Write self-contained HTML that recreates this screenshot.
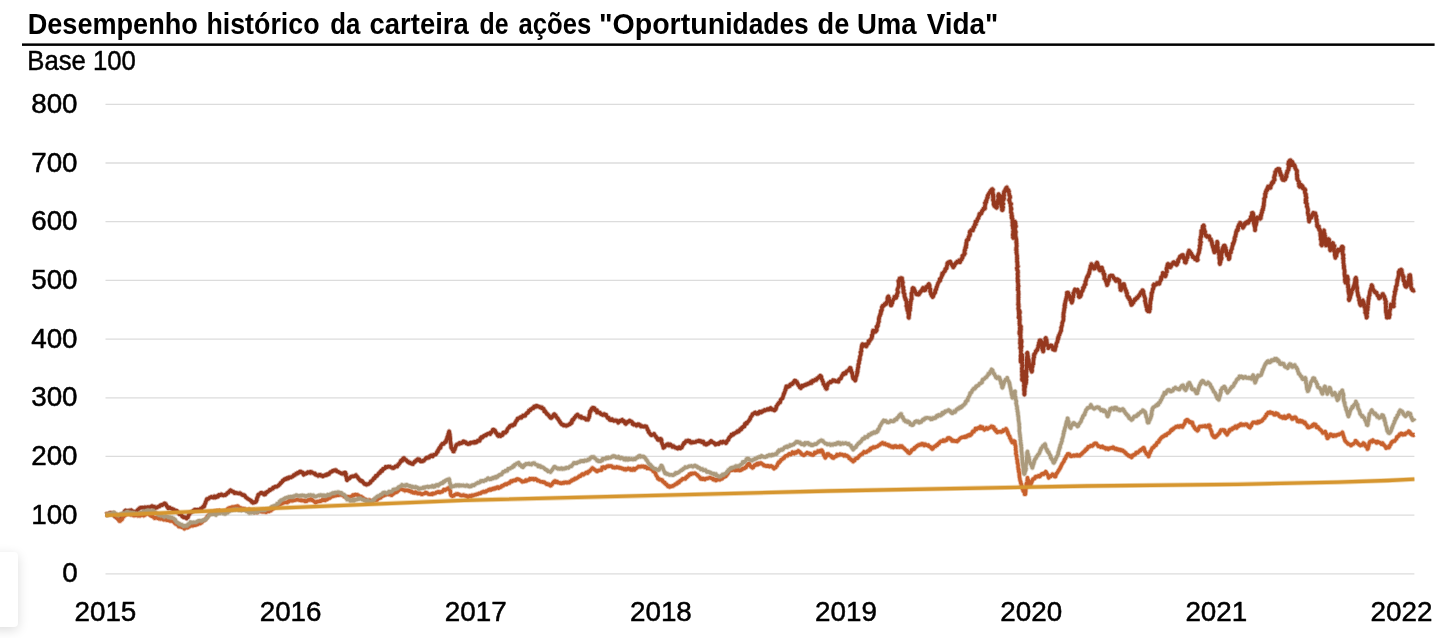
<!DOCTYPE html>
<html lang="pt-BR"><head><meta charset="utf-8">
<title>Desempenho histórico da carteira de ações "Oportunidades de Uma Vida"</title>
<style>
html,body{margin:0;padding:0;background:#fff;}
body{width:1451px;height:638px;overflow:hidden;position:relative;font-family:'Liberation Sans', Arial, sans-serif;}
svg{position:absolute;left:0;top:0;display:block;will-change:transform;}
.card{position:absolute;left:-12px;top:551.7px;width:30px;height:75px;background:#fff;border-radius:4px;box-shadow:0 3px 12px rgba(0,0,0,.14);}
text{font-family:'Liberation Sans', Arial, sans-serif;fill:#000;}
.t{font-weight:bold;font-size:29px;}
.l{font-size:27.8px;stroke:#000;stroke-width:0.5px;stroke-linejoin:round;}
</style></head><body>
<div class="card"></div>
<svg width="1451" height="638" viewBox="0 0 1451 638">
<text class="t" y="34.1"><tspan x="27.77" textLength="169.99" lengthAdjust="spacingAndGlyphs">Desempenho</tspan> <tspan x="206.44" textLength="113.06" lengthAdjust="spacingAndGlyphs">histórico</tspan> <tspan x="330.24" textLength="30.12" lengthAdjust="spacingAndGlyphs">da</tspan> <tspan x="369.61" textLength="99.1" lengthAdjust="spacingAndGlyphs">carteira</tspan> <tspan x="479.57" textLength="29.06" lengthAdjust="spacingAndGlyphs">de</tspan> <tspan x="518.57" textLength="72.72" lengthAdjust="spacingAndGlyphs">ações</tspan> <tspan x="598.98" textLength="126.1" lengthAdjust="spacingAndGlyphs">&quot;Oportun</tspan><tspan x="725.27" textLength="83.4" lengthAdjust="spacingAndGlyphs">idades</tspan> <tspan x="817.6" textLength="31.69" lengthAdjust="spacingAndGlyphs">de</tspan> <tspan x="856.95" textLength="59.71" lengthAdjust="spacingAndGlyphs">Uma</tspan> <tspan x="926.68" textLength="71.68" lengthAdjust="spacingAndGlyphs">Vida&quot;</tspan></text>
<rect x="22" y="43.4" width="1412.6" height="2.5" fill="#000"/>
<text class="l" x="27.3" y="70.2" textLength="108.5" lengthAdjust="spacingAndGlyphs">Base 100</text>
<g stroke="#dcdcdc" stroke-width="1.3">
<line x1="105.5" y1="573.8" x2="1414.4" y2="573.8"/>
<line x1="105.5" y1="515.1" x2="1414.4" y2="515.1"/>
<line x1="105.5" y1="456.4" x2="1414.4" y2="456.4"/>
<line x1="105.5" y1="397.8" x2="1414.4" y2="397.8"/>
<line x1="105.5" y1="339.1" x2="1414.4" y2="339.1"/>
<line x1="105.5" y1="280.4" x2="1414.4" y2="280.4"/>
<line x1="105.5" y1="221.7" x2="1414.4" y2="221.7"/>
<line x1="105.5" y1="163.0" x2="1414.4" y2="163.0"/>
<line x1="105.5" y1="104.4" x2="1414.4" y2="104.4"/>
</g>
<g class="l" text-anchor="end">
<text x="77.6" y="582.3">0</text>
<text x="77.6" y="523.6">100</text>
<text x="77.6" y="464.9">200</text>
<text x="77.6" y="406.3">300</text>
<text x="77.6" y="347.6">400</text>
<text x="77.6" y="288.9">500</text>
<text x="77.6" y="230.2">600</text>
<text x="77.6" y="171.5">700</text>
<text x="77.6" y="112.9">800</text>
</g>
<g class="l" text-anchor="middle">
<text x="105.4" y="620.6">2015</text>
<text x="290.6" y="620.6">2016</text>
<text x="475.7" y="620.6">2017</text>
<text x="660.9" y="620.6">2018</text>
<text x="846.0" y="620.6">2019</text>
<text x="1031.2" y="620.6">2020</text>
<text x="1216.3" y="620.6">2021</text>
<text x="1401.5" y="620.6">2022</text>
</g>
<g fill="none" stroke-linejoin="round" stroke-linecap="butt">
<defs><path id="s0" d="M105.5 514.9 L106.0 514.8 L106.6 514.6 L107.1 515.1 L107.6 514.7 L108.2 514.7 L108.7 514.3 L109.2 513.8 L109.7 513.0 L110.2 512.7 L110.7 513.0 L111.3 513.2 L111.8 513.4 L112.2 513.9 L112.7 513.9 L113.2 514.0 L113.6 514.4 L114.0 514.7 L114.3 515.5 L114.6 516.2 L115.0 516.6 L115.5 516.7 L116.0 516.9 L116.3 517.4 L116.8 517.3 L117.3 517.6 L117.6 518.4 L118.1 518.5 L118.4 519.0 L118.8 519.4 L119.3 519.5 L119.5 520.2 L119.7 519.6 L120.0 519.3 L120.4 519.0 L120.6 518.3 L120.9 518.0 L121.2 517.6 L121.4 517.1 L121.7 516.6 L122.1 516.3 L122.0 515.1 L122.5 515.2 L122.7 514.7 L123.1 514.4 L123.3 513.9 L123.7 513.8 L123.9 513.2 L124.2 512.8 L124.3 512.1 L124.5 511.6 L124.7 511.0 L125.1 510.8 L125.6 510.4 L126.1 510.9 L126.6 511.2 L127.1 510.9 L127.6 510.7 L128.1 511.3 L128.6 510.9 L129.1 510.5 L129.6 510.4 L130.1 510.6 L130.6 510.7 L131.2 510.2 L131.6 510.8 L132.2 510.8 L132.6 511.2 L133.1 511.4 L133.6 511.9 L134.1 512.1 L134.7 511.7 L135.1 512.3 L135.5 511.9 L135.9 511.8 L136.3 511.3 L136.7 511.0 L137.1 510.7 L137.4 510.3 L137.8 509.8 L138.2 509.7 L138.6 509.3 L139.0 508.7 L139.3 508.4 L139.8 508.2 L140.1 507.8 L140.7 507.6 L141.2 507.8 L141.7 507.6 L142.2 507.6 L142.8 507.5 L143.3 507.8 L143.8 508.5 L144.3 508.3 L144.8 507.3 L145.4 507.7 L145.9 507.4 L146.4 507.5 L146.9 507.3 L147.4 507.4 L147.9 507.0 L148.4 507.1 L148.9 507.2 L149.4 507.3 L149.9 507.0 L150.4 507.1 L150.9 506.8 L151.4 506.4 L152.0 506.0 L152.5 506.3 L152.9 507.0 L153.5 506.7 L153.9 507.2 L154.5 506.8 L154.9 507.9 L155.4 508.2 L155.9 508.0 L156.4 507.6 L156.9 507.6 L157.3 507.4 L157.7 506.9 L158.1 506.7 L158.6 506.6 L159.0 506.4 L159.5 506.4 L159.9 506.1 L160.2 505.4 L160.7 505.2 L161.2 504.8 L161.8 504.9 L162.3 505.1 L162.7 504.4 L163.3 504.3 L163.7 503.8 L164.2 503.6 L164.7 503.3 L165.1 503.5 L165.5 503.7 L165.7 504.2 L166.0 504.7 L166.4 505.0 L166.5 505.8 L166.9 505.9 L167.1 506.6 L167.3 507.1 L167.7 507.4 L168.2 508.2 L168.8 507.4 L169.3 507.6 L169.8 507.6 L170.2 508.3 L170.7 508.4 L171.3 508.4 L171.7 508.7 L172.2 508.9 L172.7 509.2 L173.1 510.0 L173.7 509.4 L174.1 510.1 L174.6 510.2 L175.1 510.3 L175.5 510.5 L176.1 510.5 L176.4 511.2 L177.0 510.9 L177.4 511.7 L177.8 512.3 L178.2 512.5 L178.6 512.8 L178.9 513.2 L179.2 514.0 L179.6 514.3 L180.1 514.4 L180.5 514.3 L181.0 514.5 L181.4 514.7 L181.7 515.4 L181.9 516.2 L182.3 516.5 L182.8 516.5 L183.2 516.9 L183.7 517.4 L184.2 517.5 L184.7 517.1 L185.1 517.6 L185.6 517.7 L186.1 517.9 L186.6 518.4 L186.8 517.8 L187.2 517.7 L187.5 517.2 L188.0 517.4 L188.1 516.4 L188.3 515.8 L188.6 515.5 L188.8 514.8 L189.2 514.6 L189.3 513.8 L189.6 513.4 L190.0 513.3 L190.3 512.6 L190.7 512.2 L191.1 512.1 L191.6 512.1 L192.0 511.7 L192.5 511.4 L192.9 511.0 L193.3 510.6 L193.8 510.8 L194.1 510.0 L194.6 509.6 L195.1 510.0 L195.6 509.6 L196.2 510.0 L196.7 510.1 L197.2 509.6 L197.7 509.7 L198.3 510.3 L198.8 509.9 L199.3 509.8 L199.8 509.2 L200.4 509.1 L200.7 508.4 L201.2 508.5 L201.7 508.6 L202.0 508.0 L202.4 507.5 L202.8 507.1 L203.2 506.7 L203.6 506.2 L204.1 506.6 L204.3 506.0 L204.5 505.6 L204.6 505.1 L204.7 504.5 L204.9 504.0 L205.1 503.6 L205.5 503.3 L205.5 502.7 L205.6 502.1 L205.9 501.7 L206.1 501.2 L206.2 500.6 L206.4 500.2 L206.6 499.7 L206.9 498.9 L207.4 498.9 L207.9 499.2 L208.4 499.0 L208.7 498.4 L209.2 498.2 L209.5 497.6 L210.0 497.5 L210.4 497.2 L210.9 497.1 L211.4 496.8 L211.9 497.4 L212.4 497.5 L212.9 497.4 L213.4 497.6 L213.9 497.0 L214.4 496.3 L214.9 496.8 L215.4 497.6 L215.7 496.6 L216.3 497.2 L216.7 496.4 L217.1 496.0 L217.7 496.4 L218.2 496.6 L218.5 495.8 L218.9 494.9 L219.4 495.3 L219.9 495.1 L220.4 495.2 L220.9 495.1 L221.4 494.3 L221.9 494.9 L222.4 495.0 L222.9 495.3 L223.4 495.5 L223.9 495.0 L224.4 494.8 L224.9 494.8 L225.4 495.1 L225.7 494.6 L226.1 494.4 L226.5 494.3 L226.8 493.6 L227.1 493.1 L227.5 493.0 L227.9 492.6 L228.4 492.8 L228.7 492.1 L229.0 491.6 L229.3 491.2 L229.8 491.1 L230.1 490.6 L230.5 490.2 L230.9 490.6 L231.4 490.7 L231.8 491.1 L232.2 491.6 L232.7 491.7 L233.2 491.6 L233.6 491.9 L234.1 492.0 L234.4 493.2 L234.9 493.0 L235.5 492.8 L236.0 492.7 L236.5 493.1 L237.0 493.0 L237.5 493.1 L238.0 493.4 L238.5 493.5 L239.0 493.5 L239.5 493.6 L240.0 493.0 L240.5 493.8 L241.0 493.9 L241.6 494.2 L242.1 494.9 L242.6 494.9 L243.1 495.2 L243.7 494.9 L244.3 495.2 L244.7 495.5 L245.0 496.0 L245.3 496.5 L245.6 497.1 L246.1 497.4 L246.4 497.8 L246.9 497.9 L247.3 498.3 L247.6 498.7 L248.0 498.9 L248.5 499.1 L248.9 499.5 L249.3 499.6 L249.8 499.8 L250.2 500.1 L250.6 500.6 L251.1 500.6 L251.4 501.2 L251.7 502.0 L252.3 501.7 L252.6 502.3 L253.0 502.8 L253.5 502.4 L254.1 502.6 L254.5 502.3 L255.0 501.8 L255.6 502.1 L256.1 501.6 L256.3 501.2 L256.4 500.6 L256.7 500.3 L256.9 499.8 L256.8 499.2 L256.8 498.6 L257.0 498.1 L257.3 497.7 L257.4 497.2 L257.8 497.0 L257.9 496.5 L258.0 496.0 L258.2 495.5 L258.1 494.8 L258.5 494.5 L259.0 494.2 L259.4 494.0 L259.9 493.8 L260.4 493.5 L260.8 492.8 L261.3 492.7 L261.8 492.7 L262.1 493.4 L262.7 493.4 L263.2 493.3 L263.5 494.0 L263.9 494.6 L264.3 494.7 L264.8 494.5 L265.2 494.4 L265.6 494.0 L265.8 492.6 L266.2 492.2 L266.8 492.6 L267.2 492.2 L267.6 491.6 L268.1 491.6 L268.5 491.2 L268.9 491.0 L269.3 490.5 L269.6 489.8 L270.2 490.2 L270.6 489.8 L271.0 489.4 L271.4 489.1 L271.9 489.0 L272.3 488.5 L272.8 488.7 L273.1 487.6 L273.6 488.0 L274.1 487.3 L274.6 487.2 L275.1 486.6 L275.6 486.6 L276.1 486.8 L276.7 486.8 L277.1 486.4 L277.6 486.1 L278.2 485.9 L278.5 485.4 L278.9 485.2 L279.2 484.6 L279.7 484.5 L280.0 483.9 L280.3 483.4 L280.6 482.8 L281.1 482.9 L281.5 482.5 L281.8 482.2 L282.1 481.6 L282.6 481.5 L282.7 480.5 L283.1 480.4 L283.6 480.3 L284.1 479.7 L284.6 479.0 L285.1 479.0 L285.6 479.3 L286.1 478.5 L286.6 479.0 L287.1 478.1 L287.6 478.3 L288.1 478.6 L288.6 478.4 L288.9 477.3 L289.4 477.2 L289.9 477.3 L290.4 477.3 L290.8 477.4 L291.3 477.1 L291.7 476.7 L292.2 476.8 L292.7 476.4 L293.1 476.2 L293.4 475.6 L293.7 475.1 L294.3 475.4 L294.7 474.9 L295.1 475.0 L295.4 474.2 L295.8 474.0 L296.2 473.4 L296.6 473.4 L297.2 473.7 L297.4 473.0 L297.8 472.7 L298.2 472.5 L298.8 472.9 L299.2 472.6 L299.7 471.6 L300.2 471.8 L300.7 471.5 L301.1 472.0 L301.5 472.5 L302.1 472.3 L302.6 472.4 L302.9 473.2 L303.3 474.1 L303.7 474.8 L304.5 473.5 L305.0 473.8 L305.5 473.4 L306.0 473.7 L306.4 473.3 L306.9 473.3 L307.4 472.7 L307.8 472.1 L308.3 472.4 L308.8 472.6 L309.3 472.2 L309.8 472.5 L310.4 473.0 L310.7 471.7 L311.1 471.9 L311.7 471.9 L312.1 472.5 L312.5 472.8 L313.0 473.1 L313.5 473.1 L314.0 473.3 L314.4 473.9 L315.0 473.4 L315.3 474.1 L315.7 474.8 L316.2 475.0 L316.7 475.0 L317.2 475.3 L317.7 475.2 L318.2 475.9 L318.8 475.2 L319.3 474.7 L319.8 474.8 L320.3 474.7 L320.8 475.7 L321.3 475.5 L321.8 475.5 L322.3 475.5 L322.8 476.4 L323.3 475.9 L323.8 475.8 L324.3 475.8 L324.8 475.1 L325.3 475.3 L325.8 475.4 L326.3 475.2 L326.6 474.4 L327.2 474.9 L327.6 474.1 L328.2 474.4 L328.6 474.0 L329.1 474.1 L329.4 473.0 L329.9 472.9 L330.3 472.0 L330.8 472.0 L331.2 471.7 L331.7 471.8 L332.2 471.5 L332.6 470.7 L333.1 470.6 L333.6 470.8 L334.1 470.3 L334.5 470.3 L335.0 470.6 L335.6 470.0 L336.1 470.2 L336.5 470.9 L336.9 471.4 L337.4 471.3 L337.9 471.7 L338.4 471.8 L338.8 472.1 L339.3 472.4 L339.7 472.7 L340.2 472.9 L340.7 473.1 L341.1 473.5 L341.7 473.3 L342.1 473.7 L342.6 473.3 L343.2 473.8 L343.8 473.7 L344.2 472.7 L344.8 472.5 L345.4 472.6 L345.5 473.2 L345.7 473.6 L346.0 473.9 L345.9 474.6 L345.8 475.3 L345.7 475.9 L346.2 476.2 L346.2 476.8 L346.5 477.1 L346.6 477.6 L346.5 478.3 L346.8 478.7 L346.8 479.2 L346.8 479.9 L347.1 480.2 L347.4 479.7 L347.8 479.4 L348.2 479.0 L348.5 478.4 L349.1 478.6 L349.5 478.5 L349.9 478.0 L350.2 477.6 L350.6 477.2 L350.9 476.7 L351.4 476.4 L351.9 476.5 L352.4 476.2 L352.9 476.4 L353.4 476.4 L353.9 476.2 L354.4 476.3 L354.9 475.7 L355.4 475.4 L355.9 475.1 L356.1 475.9 L356.5 476.1 L356.9 476.2 L357.2 476.8 L357.5 477.2 L357.9 477.3 L358.1 478.1 L358.4 478.5 L358.7 478.9 L359.1 479.1 L359.4 479.6 L359.7 480.1 L360.1 480.1 L360.4 480.9 L360.9 481.1 L361.5 480.6 L361.9 481.0 L362.3 481.0 L362.6 481.9 L363.1 482.1 L363.4 482.7 L363.8 483.1 L364.2 483.8 L364.7 483.6 L365.1 484.2 L365.6 484.0 L366.1 483.9 L366.4 484.7 L366.8 484.2 L367.4 484.5 L367.9 484.1 L368.4 484.1 L368.9 483.9 L369.3 483.3 L369.7 482.9 L370.2 482.9 L370.6 482.4 L370.7 481.3 L371.2 481.3 L371.6 480.9 L372.0 480.6 L372.4 480.3 L372.8 480.0 L373.1 479.3 L373.5 479.0 L373.7 478.3 L374.2 478.3 L374.7 478.3 L374.8 477.3 L375.3 477.4 L375.6 476.7 L375.8 475.8 L376.2 475.9 L376.8 476.1 L377.1 475.8 L377.4 475.2 L377.8 474.8 L378.1 474.2 L378.5 473.9 L378.7 473.2 L379.1 473.0 L379.6 473.1 L380.0 473.0 L380.2 471.8 L380.6 471.9 L381.0 471.4 L381.2 470.6 L381.7 470.7 L382.2 471.0 L382.4 470.1 L382.8 469.6 L383.0 468.8 L383.4 468.7 L384.0 469.0 L384.4 468.6 L384.9 468.4 L385.3 468.0 L385.6 466.8 L386.1 467.0 L386.6 467.1 L387.1 467.2 L387.6 467.1 L388.0 466.5 L388.5 466.5 L389.0 466.6 L389.5 466.7 L390.0 466.5 L390.5 467.1 L391.0 467.2 L391.5 467.6 L392.0 468.0 L392.5 467.5 L393.1 467.6 L393.5 468.1 L394.0 467.9 L394.4 467.4 L394.9 467.2 L395.3 466.5 L395.7 466.2 L396.3 466.4 L396.7 466.3 L397.3 466.5 L397.4 465.7 L397.7 465.3 L398.1 465.1 L398.2 464.4 L398.8 464.5 L398.9 463.8 L399.3 463.6 L399.6 463.2 L399.9 462.9 L400.1 462.2 L400.4 461.9 L400.6 461.2 L400.8 460.7 L401.1 460.4 L401.8 461.0 L402.2 460.9 L402.5 460.0 L402.8 459.1 L403.1 458.5 L403.6 458.1 L404.1 458.1 L404.4 458.6 L404.7 459.5 L405.1 459.8 L405.7 459.7 L406.1 459.9 L406.5 460.4 L406.9 461.0 L407.3 461.5 L407.7 462.0 L408.2 461.6 L408.6 462.4 L409.1 462.7 L409.5 463.0 L410.1 462.5 L410.5 463.1 L410.9 463.5 L411.4 463.4 L411.8 463.9 L412.3 463.9 L412.9 464.1 L413.1 463.3 L413.4 462.8 L413.9 462.6 L414.3 462.6 L414.6 461.6 L415.1 462.0 L415.4 461.2 L415.7 460.7 L416.2 460.8 L416.5 460.0 L417.0 460.0 L417.3 459.7 L417.9 459.0 L418.3 460.1 L418.8 460.2 L419.4 459.4 L419.7 460.3 L420.2 461.0 L420.6 461.4 L421.1 461.4 L421.6 461.1 L422.0 461.0 L422.6 461.3 L423.0 460.5 L423.5 460.3 L424.0 460.6 L424.4 459.9 L424.9 459.5 L425.3 459.1 L425.7 458.6 L426.1 458.0 L426.5 457.6 L427.1 457.8 L427.6 458.0 L428.0 457.4 L428.5 457.1 L429.1 457.6 L429.5 457.2 L429.8 456.2 L430.2 455.8 L430.7 455.6 L431.1 455.3 L431.7 456.1 L432.2 455.7 L432.8 456.4 L433.2 455.5 L433.7 454.7 L434.2 454.8 L434.7 454.6 L435.2 454.5 L435.7 454.5 L436.2 454.0 L436.4 453.4 L436.7 453.0 L436.8 452.3 L437.0 451.9 L437.4 451.6 L437.9 451.7 L438.0 450.9 L438.0 450.1 L438.4 449.9 L438.7 449.6 L438.9 448.9 L439.1 448.4 L439.3 447.9 L439.9 448.2 L440.3 448.1 L440.6 447.6 L440.7 446.9 L440.7 445.9 L441.0 445.7 L441.2 445.2 L441.6 444.8 L442.0 444.4 L442.3 443.7 L442.9 444.0 L443.3 443.5 L443.8 443.8 L444.2 443.1 L444.5 442.6 L444.9 442.1 L445.4 442.2 L445.9 442.2 L446.2 441.4 L446.2 440.7 L446.2 440.0 L446.5 439.6 L446.8 439.3 L447.0 438.9 L447.0 438.2 L447.2 437.8 L447.2 437.1 L447.6 436.9 L447.7 436.3 L447.8 435.8 L448.2 435.5 L448.2 434.8 L448.2 434.2 L448.4 433.8 L448.6 433.3 L448.7 432.8 L449.0 432.4 L448.9 431.7 L449.2 431.3 L449.3 431.8 L449.4 432.3 L449.4 432.8 L449.5 433.3 L449.7 433.8 L449.8 434.3 L449.9 434.8 L449.8 435.3 L449.9 435.8 L449.9 436.3 L450.1 436.8 L450.1 437.3 L450.1 437.9 L450.3 438.3 L450.2 438.9 L450.0 439.5 L450.3 439.9 L450.2 440.5 L450.3 441.0 L450.3 441.6 L450.5 442.0 L450.6 442.5 L450.6 443.0 L450.8 443.5 L450.8 444.0 L450.9 444.5 L451.0 445.0 L451.1 445.5 L451.1 446.0 L451.1 446.6 L451.1 447.1 L451.2 447.7 L451.5 448.0 L451.8 448.4 L452.0 448.9 L452.3 449.3 L452.5 449.8 L453.0 449.9 L453.3 450.2 L453.2 451.4 L453.8 451.4 L453.8 450.7 L454.1 450.3 L454.2 449.8 L454.6 449.6 L454.9 449.3 L454.9 448.5 L455.1 448.0 L455.3 447.5 L455.5 447.1 L455.6 446.5 L455.9 446.2 L456.2 445.8 L456.2 445.1 L456.7 444.5 L457.2 444.3 L457.7 444.0 L458.2 444.1 L458.7 443.5 L459.2 444.0 L459.6 442.9 L460.2 443.5 L460.8 443.4 L461.3 443.3 L461.7 443.0 L462.1 442.2 L462.6 442.3 L463.1 442.5 L463.4 441.3 L464.0 441.5 L464.4 442.1 L464.9 441.9 L465.4 441.9 L465.9 442.2 L466.2 443.4 L466.7 443.0 L467.1 443.7 L467.6 443.6 L468.0 444.1 L468.6 443.8 L469.0 443.9 L469.5 443.2 L470.0 443.7 L470.4 442.5 L470.9 442.5 L471.5 442.9 L472.0 442.8 L472.5 442.3 L473.0 442.3 L473.5 442.1 L474.0 442.8 L474.4 441.8 L474.9 441.8 L475.5 442.6 L475.9 441.9 L476.4 442.4 L476.9 442.2 L477.2 441.4 L477.6 440.6 L478.1 440.5 L478.6 440.5 L479.1 440.4 L479.7 440.8 L479.9 440.2 L480.2 439.4 L480.3 438.3 L480.7 438.0 L481.0 437.7 L481.3 437.0 L481.8 437.0 L482.4 437.6 L482.7 437.0 L483.1 436.8 L483.5 436.4 L483.8 435.8 L484.1 435.5 L484.6 435.6 L485.1 435.5 L485.6 434.9 L486.2 435.4 L486.6 434.4 L487.1 434.2 L487.6 433.8 L488.1 433.6 L488.6 433.5 L489.1 433.5 L489.6 433.7 L490.2 434.1 L490.4 432.5 L490.8 432.3 L491.3 432.6 L491.7 432.2 L492.0 431.4 L492.5 431.1 L492.7 429.8 L493.1 429.6 L493.6 429.5 L494.1 429.8 L494.5 430.0 L494.7 430.8 L495.2 430.7 L495.3 431.5 L495.6 432.1 L495.8 432.8 L496.1 433.1 L496.6 433.1 L496.8 433.8 L497.3 433.9 L497.3 435.1 L497.9 435.6 L498.4 436.1 L498.9 435.6 L499.5 434.6 L500.0 435.1 L500.6 436.2 L501.1 435.4 L501.7 435.1 L502.2 435.2 L502.7 434.9 L502.9 433.5 L503.2 432.6 L503.8 432.7 L504.2 432.4 L504.8 432.8 L505.4 432.8 L505.8 432.4 L506.1 431.6 L506.7 431.6 L506.9 431.1 L507.0 430.1 L507.3 429.7 L507.5 429.0 L507.8 428.6 L508.2 428.4 L508.4 427.9 L508.7 427.5 L509.2 427.6 L509.5 427.0 L509.6 426.3 L510.0 425.9 L510.4 426.1 L511.0 425.7 L511.5 425.2 L512.0 425.0 L512.6 425.7 L513.1 425.2 L513.6 424.5 L514.1 424.6 L514.6 424.7 L514.6 423.7 L514.8 423.3 L515.2 423.2 L515.3 422.4 L515.7 422.1 L515.9 421.6 L516.1 421.2 L516.3 420.6 L516.6 420.4 L517.1 420.3 L517.3 419.8 L517.4 419.0 L517.6 418.5 L518.0 418.4 L518.4 418.2 L519.0 418.2 L519.5 418.1 L519.9 417.4 L520.4 417.1 L520.9 417.1 L521.5 417.7 L521.9 416.5 L522.4 416.6 L522.9 416.4 L523.1 415.5 L523.8 416.0 L524.2 415.6 L524.7 415.7 L525.2 415.8 L525.4 414.8 L525.7 414.3 L526.1 413.9 L526.5 413.7 L526.8 413.0 L527.3 413.1 L527.6 412.5 L528.1 412.6 L528.4 412.0 L528.7 411.1 L528.9 410.4 L529.4 410.4 L529.9 410.2 L530.4 410.3 L530.5 409.3 L531.1 409.4 L531.5 408.9 L532.0 408.7 L532.4 408.1 L532.9 408.3 L533.4 408.3 L533.7 407.1 L534.1 406.5 L534.7 407.1 L535.2 406.8 L535.5 406.1 L536.0 406.8 L536.6 405.7 L537.1 405.9 L537.6 406.5 L538.2 406.3 L538.7 406.6 L539.2 406.9 L539.6 407.2 L540.1 407.0 L540.4 407.6 L540.9 407.8 L541.3 408.0 L541.9 407.3 L542.2 408.5 L542.6 408.5 L543.1 408.8 L543.6 408.7 L543.9 409.5 L544.1 410.2 L544.2 411.4 L544.9 410.8 L545.3 411.3 L545.6 411.7 L545.9 412.5 L546.2 413.0 L546.6 413.1 L546.8 414.0 L547.3 413.9 L547.7 414.2 L547.9 414.7 L548.2 415.2 L548.7 415.2 L549.0 415.6 L549.2 416.3 L549.5 416.7 L550.0 416.7 L550.2 417.5 L550.6 417.9 L551.1 418.1 L551.5 417.8 L551.9 417.5 L552.2 416.8 L552.6 416.3 L552.9 415.7 L553.3 415.5 L553.6 414.8 L553.9 414.3 L554.3 414.1 L554.6 414.5 L554.8 415.1 L555.2 415.5 L555.7 415.3 L555.7 416.4 L556.1 416.8 L556.5 416.9 L556.8 417.4 L557.0 418.1 L557.4 418.2 L557.8 418.4 L558.1 419.0 L558.3 419.5 L558.7 419.8 L559.0 420.3 L559.2 421.0 L559.7 421.1 L559.8 422.0 L560.1 422.4 L560.5 422.5 L560.8 423.0 L561.1 423.6 L561.3 424.1 L561.8 424.4 L562.3 424.2 L562.8 424.6 L563.3 424.6 L563.6 425.5 L564.2 425.1 L564.6 425.5 L565.2 425.3 L565.6 425.6 L566.1 426.0 L566.5 425.3 L567.1 425.6 L567.5 425.3 L568.0 425.2 L568.5 424.8 L569.0 424.7 L569.4 424.0 L569.9 424.3 L570.3 423.9 L570.7 423.6 L570.9 422.8 L571.5 423.1 L571.9 422.6 L571.8 420.9 L572.1 420.3 L572.5 419.7 L573.1 420.1 L573.4 419.8 L573.6 419.1 L574.0 418.9 L574.2 418.1 L574.5 417.6 L574.8 417.3 L575.3 417.2 L575.5 416.7 L575.7 416.0 L576.1 415.7 L576.5 415.5 L576.9 414.9 L577.5 414.5 L578.0 415.3 L578.5 416.0 L579.0 416.0 L579.5 417.0 L580.1 416.5 L580.7 416.3 L581.2 416.6 L581.6 417.9 L582.2 417.6 L582.7 417.8 L583.3 417.8 L583.8 418.2 L584.4 418.0 L584.9 418.1 L585.3 418.5 L585.7 419.3 L586.1 419.7 L586.7 419.6 L587.2 419.4 L587.7 419.3 L588.1 419.7 L588.0 419.0 L588.3 418.6 L588.6 418.3 L588.9 417.9 L589.0 417.4 L589.1 416.9 L589.3 416.4 L589.5 416.0 L589.2 415.1 L589.4 414.7 L589.6 414.3 L589.8 413.8 L589.7 413.1 L590.0 412.7 L590.1 412.2 L589.9 411.4 L590.4 411.2 L590.9 411.0 L590.7 410.2 L591.0 409.8 L591.4 409.6 L591.6 408.7 L592.0 408.4 L592.4 408.2 L592.7 407.7 L593.2 407.7 L593.6 407.8 L594.1 407.8 L594.5 408.1 L594.6 409.0 L594.7 409.9 L595.0 410.3 L595.5 410.4 L595.9 410.6 L596.2 411.0 L597.0 410.2 L596.9 411.8 L597.0 412.6 L597.6 412.4 L598.1 412.1 L598.6 412.7 L599.2 412.4 L599.8 412.5 L600.3 413.1 L600.7 414.1 L601.2 413.9 L601.7 414.4 L602.2 414.8 L602.7 415.1 L603.2 414.4 L603.7 414.7 L604.3 414.0 L604.7 414.3 L605.2 415.2 L605.8 414.7 L606.2 414.8 L606.3 415.8 L606.6 416.1 L606.9 416.7 L607.1 417.3 L607.5 417.5 L607.8 418.1 L608.3 418.0 L608.8 417.8 L609.0 418.5 L609.3 419.1 L609.5 419.8 L610.0 420.1 L610.5 419.4 L611.0 420.1 L611.5 419.7 L612.1 419.2 L612.5 420.3 L613.0 420.4 L613.5 420.6 L614.0 420.9 L614.5 420.7 L615.1 420.3 L615.5 420.7 L616.1 420.5 L616.6 420.4 L617.0 421.1 L617.5 421.6 L617.9 422.1 L618.3 422.7 L618.5 421.5 L618.9 421.1 L619.3 420.8 L619.9 421.2 L620.4 421.3 L620.8 420.7 L621.2 420.2 L621.6 420.0 L622.1 419.7 L622.3 420.3 L622.7 420.5 L623.1 420.8 L623.4 421.5 L624.0 420.9 L624.2 421.7 L624.7 421.7 L624.9 422.7 L625.1 423.4 L625.5 423.6 L625.8 424.0 L626.1 423.1 L626.6 423.2 L627.0 422.6 L627.3 421.9 L627.9 422.1 L628.4 422.1 L628.6 421.2 L629.1 421.1 L629.6 420.6 L630.0 421.2 L630.5 421.2 L631.0 421.2 L631.4 421.8 L631.9 421.8 L632.3 422.6 L632.5 423.9 L633.2 423.2 L633.5 424.4 L633.9 424.8 L634.6 424.4 L635.1 424.5 L635.6 424.6 L636.1 424.6 L636.5 425.7 L637.0 425.3 L637.6 424.9 L638.1 424.2 L638.6 424.9 L639.2 424.4 L639.6 425.2 L640.2 425.0 L640.6 426.2 L641.1 426.6 L641.7 426.3 L642.3 426.1 L642.8 426.3 L643.4 426.7 L643.8 426.7 L644.4 426.3 L644.9 426.1 L645.4 426.7 L645.9 426.6 L646.4 426.5 L646.7 427.5 L647.2 428.1 L647.3 428.9 L647.4 429.6 L647.9 429.7 L648.0 430.4 L648.2 430.9 L648.7 431.1 L648.6 432.1 L648.9 432.4 L649.2 432.8 L649.5 433.2 L649.9 433.5 L650.2 433.8 L650.4 434.4 L650.8 434.5 L650.9 435.0 L651.4 435.3 L651.9 434.7 L652.5 434.7 L653.0 434.4 L653.6 434.6 L654.1 433.8 L654.7 434.8 L654.9 435.2 L655.2 435.8 L655.5 436.1 L655.9 436.3 L656.0 437.1 L656.3 437.5 L656.7 437.7 L657.1 438.0 L657.2 438.7 L657.6 439.0 L657.7 439.7 L658.2 439.8 L658.4 440.0 L658.8 439.4 L659.3 439.0 L659.8 439.0 L660.3 438.7 L661.0 439.0 L661.2 439.4 L661.4 439.8 L661.6 440.3 L661.3 441.2 L661.3 441.8 L661.6 442.2 L661.8 442.6 L661.9 443.2 L662.0 443.7 L662.3 444.0 L662.4 444.5 L662.7 444.9 L662.7 445.5 L663.0 445.8 L663.1 446.3 L663.3 446.8 L663.3 447.3 L663.4 447.9 L663.7 447.2 L664.1 446.7 L664.6 447.0 L665.0 446.4 L665.3 445.8 L665.6 445.4 L666.0 445.0 L666.5 444.9 L666.8 444.5 L667.2 444.2 L667.7 444.5 L668.2 444.1 L668.6 445.5 L669.2 445.2 L669.7 445.5 L670.3 444.3 L670.8 444.8 L671.2 445.4 L671.7 445.4 L672.2 445.9 L672.5 446.9 L673.1 446.5 L673.6 446.1 L674.0 447.0 L674.5 447.0 L675.0 447.0 L675.4 447.8 L675.9 447.6 L676.3 447.8 L676.8 447.9 L677.2 448.4 L677.8 448.7 L678.3 448.3 L678.8 447.2 L679.3 447.1 L679.9 448.1 L680.5 448.4 L681.0 447.8 L681.3 447.4 L681.8 447.5 L682.0 446.8 L682.3 446.3 L682.6 445.7 L682.8 445.2 L683.2 444.9 L683.3 444.1 L683.7 443.9 L683.9 443.1 L684.5 443.4 L684.7 442.7 L685.2 442.5 L685.5 441.7 L685.9 441.1 L686.5 441.5 L687.0 441.4 L687.4 440.9 L687.8 440.4 L688.2 440.4 L688.7 440.6 L689.1 440.9 L689.6 440.8 L689.8 442.1 L690.2 442.2 L690.6 442.6 L691.0 442.8 L691.5 442.1 L692.0 442.6 L692.5 442.1 L693.0 442.4 L693.5 442.1 L694.0 442.2 L694.6 442.3 L695.1 442.0 L695.6 442.1 L696.1 441.7 L696.5 441.2 L697.0 441.2 L697.5 441.0 L698.1 441.3 L698.6 441.3 L699.0 440.5 L699.5 440.8 L700.1 441.5 L700.6 440.9 L701.0 441.0 L701.5 441.2 L701.8 442.1 L702.3 441.8 L702.7 442.4 L703.4 441.6 L703.7 442.3 L704.0 443.0 L704.3 444.0 L704.9 443.6 L705.3 444.0 L705.7 444.2 L706.0 444.7 L706.5 444.6 L706.9 444.1 L707.2 443.4 L707.7 443.3 L708.3 443.7 L708.7 443.3 L709.1 442.9 L709.6 442.8 L709.9 442.1 L710.3 441.5 L710.8 441.6 L711.1 440.9 L711.6 441.1 L711.9 442.1 L712.4 442.3 L712.9 442.2 L713.4 442.5 L713.8 442.9 L714.3 443.0 L714.6 443.7 L715.2 443.7 L715.5 444.6 L716.1 444.3 L716.6 443.8 L717.1 443.9 L717.6 443.9 L718.1 443.4 L718.7 444.1 L719.2 443.3 L719.6 442.7 L720.1 442.4 L720.6 441.9 L721.1 442.4 L721.6 442.2 L722.1 442.7 L722.7 441.8 L723.2 441.5 L723.7 442.0 L724.2 441.9 L724.7 442.2 L725.2 442.6 L725.7 442.6 L726.0 443.2 L726.3 442.8 L726.6 442.4 L726.8 441.8 L726.9 441.1 L727.2 440.8 L727.6 440.5 L727.9 440.3 L728.3 440.0 L728.6 439.6 L728.5 438.6 L728.9 438.3 L729.2 438.0 L729.3 437.4 L729.8 437.2 L729.9 436.7 L730.4 436.4 L730.8 436.3 L731.2 435.6 L731.4 434.6 L732.0 435.1 L732.5 435.0 L733.0 434.9 L733.4 434.6 L733.6 433.4 L734.1 433.4 L734.6 433.6 L735.0 433.0 L735.4 432.8 L735.9 432.7 L736.4 432.6 L736.8 432.1 L737.2 431.3 L737.6 430.9 L738.1 430.9 L738.7 431.7 L739.0 430.8 L739.5 430.3 L739.9 430.3 L740.1 429.5 L740.3 428.9 L740.8 428.8 L741.4 429.3 L741.6 428.6 L741.8 428.0 L742.1 427.3 L742.5 427.4 L743.0 427.4 L743.2 426.6 L743.6 426.4 L744.1 426.5 L744.5 426.5 L744.6 425.6 L744.7 424.6 L744.9 423.9 L745.5 424.3 L745.9 423.8 L746.2 422.9 L746.9 423.5 L747.2 422.9 L747.5 422.0 L748.0 421.9 L748.4 421.3 L748.8 420.9 L749.0 420.4 L749.4 420.2 L749.6 419.6 L749.8 419.1 L750.2 418.9 L750.4 418.3 L750.4 417.5 L750.7 417.1 L751.0 416.7 L751.3 416.4 L751.6 416.1 L751.9 415.7 L752.1 415.0 L752.5 414.9 L752.5 414.1 L753.0 413.7 L753.6 413.7 L754.1 413.3 L754.6 412.7 L755.1 412.4 L755.7 413.3 L756.3 413.6 L756.9 413.9 L757.3 413.4 L757.7 412.8 L758.3 413.7 L758.7 412.8 L759.1 412.2 L759.5 411.5 L760.0 411.5 L760.5 411.9 L761.1 412.6 L761.6 412.3 L762.0 411.3 L762.6 411.7 L763.0 411.2 L763.5 410.8 L764.0 410.4 L764.5 409.9 L765.0 410.6 L765.4 410.2 L765.9 410.1 L766.4 410.0 L766.9 409.9 L767.3 409.2 L767.8 409.6 L768.2 409.0 L768.8 409.6 L769.2 409.1 L769.7 409.4 L770.0 408.4 L770.6 407.9 L771.0 408.9 L771.6 408.7 L772.0 409.6 L772.5 409.3 L773.0 409.4 L773.5 409.6 L774.0 410.3 L774.5 410.5 L775.1 409.9 L775.4 409.4 L775.8 409.3 L776.0 408.6 L776.0 407.8 L776.4 407.5 L776.3 406.4 L776.7 406.2 L776.9 405.7 L777.2 405.3 L777.4 404.8 L777.7 404.3 L778.1 404.2 L778.4 403.8 L778.6 403.2 L778.8 402.7 L779.2 402.5 L779.6 402.3 L780.2 402.4 L780.3 401.5 L780.5 400.9 L780.6 400.0 L780.9 399.5 L781.3 399.4 L781.6 398.8 L781.9 398.5 L782.4 398.5 L782.7 397.8 L782.8 397.3 L783.0 396.8 L783.1 396.3 L783.3 395.8 L783.4 395.3 L783.7 394.9 L783.6 394.1 L784.1 394.0 L784.1 393.3 L784.2 392.8 L784.6 392.6 L784.7 392.0 L784.9 391.5 L785.0 391.0 L785.1 390.4 L785.2 389.9 L785.7 389.8 L785.6 388.9 L786.0 388.7 L785.9 387.9 L786.0 387.4 L786.2 386.9 L786.3 386.3 L786.8 386.3 L787.4 386.9 L787.8 386.3 L788.4 386.8 L788.8 386.3 L789.3 386.2 L789.8 386.2 L790.1 384.6 L790.6 384.6 L790.9 383.9 L791.4 383.9 L792.0 384.2 L792.4 383.6 L792.9 383.7 L793.1 382.5 L793.5 382.2 L794.0 382.0 L794.3 381.3 L794.6 380.5 L795.1 380.6 L795.6 380.7 L795.8 381.2 L796.0 382.0 L796.5 382.1 L797.0 382.0 L797.0 383.1 L797.3 383.6 L797.8 383.6 L798.0 384.3 L798.2 385.0 L798.5 385.4 L798.9 385.6 L799.2 385.9 L799.5 386.5 L799.6 387.3 L800.2 387.5 L800.8 388.2 L801.2 387.1 L801.7 387.0 L802.1 385.6 L802.7 386.6 L803.2 386.3 L803.6 385.6 L804.1 385.1 L804.7 385.3 L805.2 385.3 L805.6 384.5 L806.2 384.9 L806.6 384.3 L807.2 384.6 L807.7 384.3 L808.1 383.5 L808.6 383.2 L809.2 383.7 L809.7 383.3 L810.2 383.2 L810.5 382.1 L810.9 382.2 L811.6 383.0 L811.7 381.2 L812.2 381.5 L812.5 380.6 L813.0 380.5 L813.5 380.6 L814.0 380.9 L814.3 380.1 L814.8 380.0 L815.2 379.5 L815.7 379.7 L816.3 380.0 L816.6 379.4 L817.0 379.0 L817.3 378.1 L817.8 377.9 L818.3 377.9 L818.7 377.7 L819.0 376.7 L819.6 377.0 L819.9 376.2 L820.2 375.6 L820.4 376.1 L820.9 376.1 L821.2 376.4 L821.4 376.9 L821.3 377.8 L821.5 378.3 L821.6 379.0 L821.9 379.3 L822.1 379.8 L822.4 380.1 L822.4 380.9 L822.7 381.1 L822.9 381.6 L823.2 382.0 L823.3 382.6 L823.5 383.1 L823.4 384.0 L824.0 383.9 L824.2 384.4 L824.4 384.9 L824.8 385.0 L824.7 386.1 L825.1 386.2 L825.4 386.5 L825.6 387.1 L825.6 387.9 L826.2 387.8 L826.5 388.2 L826.5 388.9 L826.9 388.6 L826.8 388.0 L826.9 387.4 L826.7 386.7 L826.8 386.2 L827.0 385.8 L827.5 385.6 L827.7 385.2 L827.6 384.5 L827.8 384.0 L828.0 383.6 L828.0 383.3 L828.5 383.1 L828.9 382.7 L829.5 382.7 L829.9 382.5 L830.3 381.7 L830.9 382.3 L831.3 381.8 L831.8 381.6 L832.3 381.6 L832.7 381.0 L833.0 380.1 L833.4 380.9 L834.0 380.7 L834.6 380.3 L835.0 380.6 L835.5 381.3 L836.0 381.5 L836.5 381.4 L837.1 381.1 L837.6 381.0 L838.0 381.7 L838.5 381.8 L838.5 380.4 L838.7 379.9 L839.1 379.6 L839.4 379.1 L839.9 379.1 L840.3 378.9 L840.6 378.4 L841.0 378.4 L841.2 377.7 L841.4 376.9 L841.7 376.5 L841.9 375.7 L842.2 375.4 L842.6 375.0 L842.9 374.6 L843.2 373.6 L843.9 374.3 L844.1 373.0 L844.8 373.9 L845.1 373.1 L845.7 373.5 L846.0 372.4 L846.3 371.7 L846.7 371.4 L847.1 370.9 L847.5 370.9 L848.0 370.7 L848.4 370.3 L848.7 369.7 L849.1 369.5 L849.4 369.0 L849.7 368.3 L850.0 367.8 L850.6 368.0 L850.7 368.5 L850.3 369.4 L850.9 369.6 L851.1 369.9 L851.3 370.4 L851.0 371.3 L851.4 371.6 L851.4 372.1 L851.6 372.6 L852.2 372.7 L852.1 373.4 L852.3 373.8 L852.4 374.4 L852.4 374.9 L852.7 375.3 L852.7 375.9 L852.6 376.6 L853.0 376.8 L853.0 377.4 L853.0 378.1 L853.3 378.6 L853.9 378.5 L854.2 379.0 L854.5 379.5 L854.8 380.0 L855.2 380.6 L855.4 380.2 L855.6 379.8 L855.3 378.9 L855.8 378.7 L855.6 377.9 L855.9 377.5 L856.0 377.0 L856.1 376.5 L856.4 376.1 L856.6 375.7 L856.8 375.3 L856.9 374.7 L856.9 374.1 L857.0 373.6 L857.3 373.2 L857.4 372.7 L857.1 371.9 L857.7 371.8 L857.7 371.2 L857.6 370.5 L857.5 369.9 L857.7 369.5 L857.9 369.0 L857.8 368.4 L857.8 367.9 L858.2 367.6 L858.4 367.1 L858.3 366.5 L858.2 366.0 L858.2 365.3 L858.3 364.9 L858.3 364.4 L858.6 364.0 L858.9 363.6 L859.1 363.2 L859.0 362.6 L859.2 362.1 L858.9 361.4 L859.0 361.0 L859.1 360.4 L859.6 360.2 L859.8 359.8 L859.6 359.1 L859.9 358.7 L859.9 358.2 L859.9 357.7 L859.8 357.0 L860.0 356.6 L860.1 356.1 L860.3 355.7 L860.6 355.3 L860.7 354.8 L860.8 354.3 L860.9 353.8 L860.7 353.1 L860.4 352.4 L860.7 352.0 L861.0 351.6 L861.5 351.3 L861.5 350.8 L861.2 350.0 L861.2 349.5 L861.3 349.0 L861.4 348.5 L861.5 348.0 L861.8 347.6 L861.6 346.9 L861.6 346.4 L861.8 345.9 L861.9 345.2 L862.5 344.1 L863.0 345.1 L863.5 345.9 L864.0 345.2 L864.6 344.8 L865.1 344.4 L865.7 346.0 L866.3 346.5 L866.6 345.9 L866.9 345.4 L866.9 344.0 L867.3 343.9 L867.7 343.6 L868.2 343.5 L868.6 343.3 L868.6 342.3 L868.5 341.1 L869.2 341.5 L869.5 341.0 L869.9 340.9 L870.0 340.1 L870.3 339.6 L870.6 339.4 L871.1 339.2 L871.1 338.4 L871.6 338.1 L871.9 337.8 L871.7 337.0 L872.1 336.7 L872.3 336.3 L871.8 335.3 L872.3 335.1 L872.4 334.6 L872.7 334.2 L872.7 333.6 L872.6 332.9 L872.8 332.4 L872.7 331.8 L872.8 331.2 L873.1 330.9 L873.1 330.4 L873.6 331.0 L874.2 330.5 L874.7 331.2 L875.1 331.9 L875.8 331.7 L876.0 331.3 L876.2 330.8 L876.5 330.6 L876.8 330.2 L876.6 329.4 L876.8 329.0 L876.7 328.3 L876.7 327.6 L876.5 326.8 L877.4 327.0 L877.5 326.5 L877.4 325.8 L878.0 325.7 L877.7 324.9 L877.9 324.5 L878.0 323.9 L878.3 323.5 L878.2 322.9 L878.5 322.5 L878.6 322.0 L879.0 321.6 L878.8 321.0 L878.8 320.4 L878.9 319.9 L878.7 319.2 L879.1 318.9 L879.2 318.4 L879.0 317.7 L879.2 317.2 L879.3 316.7 L879.6 316.4 L879.6 315.8 L880.1 315.6 L880.0 314.9 L880.0 314.4 L880.6 314.2 L880.9 313.8 L880.6 313.0 L880.9 312.7 L881.1 312.3 L880.7 311.4 L881.1 311.1 L880.9 310.6 L881.6 310.9 L881.6 310.1 L882.0 309.9 L881.9 308.9 L882.0 308.3 L881.8 307.2 L882.4 307.2 L882.4 306.5 L882.5 305.9 L882.9 305.7 L883.2 305.5 L883.8 305.9 L884.2 304.8 L884.6 304.1 L885.2 304.6 L885.7 303.8 L886.2 304.0 L885.9 303.1 L886.2 302.8 L886.7 302.6 L886.7 302.0 L887.1 301.7 L887.3 301.3 L887.4 300.7 L887.4 300.1 L887.5 299.6 L887.4 298.9 L887.4 298.3 L887.5 297.8 L887.7 297.3 L887.9 296.8 L888.4 296.3 L888.3 297.0 L888.7 297.3 L888.7 297.9 L889.1 298.1 L888.6 299.2 L889.1 299.4 L889.1 299.9 L889.5 300.2 L889.5 300.8 L889.8 301.2 L890.2 301.4 L890.1 302.1 L890.4 302.5 L890.3 303.1 L890.3 303.8 L890.4 304.4 L890.6 304.7 L890.8 305.4 L891.3 305.4 L891.6 305.0 L891.6 304.1 L891.7 303.4 L892.1 303.2 L892.4 302.9 L892.1 301.6 L892.6 301.4 L892.7 300.7 L893.0 300.4 L893.3 300.0 L893.4 299.4 L893.7 299.0 L894.1 298.8 L894.4 298.0 L894.4 296.7 L895.0 297.0 L895.6 297.3 L896.2 297.8 L896.4 296.9 L896.6 296.0 L897.1 295.8 L896.6 295.0 L896.8 294.5 L897.2 294.2 L897.3 293.7 L897.3 293.1 L897.9 292.9 L898.0 292.4 L898.0 291.8 L897.7 291.1 L897.4 290.4 L897.3 289.9 L897.4 289.4 L897.6 288.9 L897.8 288.4 L898.0 288.0 L898.2 287.6 L898.4 287.1 L898.8 286.8 L898.7 286.2 L898.8 285.7 L898.6 285.0 L898.7 284.5 L898.8 284.0 L898.7 283.4 L898.7 282.9 L898.8 282.4 L898.4 281.6 L898.3 281.1 L899.3 281.0 L899.0 280.3 L899.2 279.9 L899.4 279.4 L899.5 278.4 L900.0 278.5 L900.5 278.6 L901.0 278.0 L901.6 279.0 L902.0 278.2 L901.7 278.8 L902.1 279.2 L901.7 279.9 L902.1 280.2 L902.3 280.7 L902.5 281.1 L902.6 281.6 L902.5 282.2 L902.9 282.6 L902.6 283.2 L902.5 283.8 L902.5 284.3 L902.5 284.8 L902.6 285.3 L902.7 285.8 L902.6 286.4 L903.0 286.7 L903.4 287.1 L903.5 287.6 L903.3 288.2 L903.1 288.8 L903.3 289.2 L903.3 289.7 L903.4 290.2 L903.9 290.5 L903.7 291.1 L903.3 291.9 L903.4 292.3 L903.6 292.8 L903.8 293.3 L904.2 293.6 L904.6 293.8 L904.6 294.4 L904.6 295.0 L904.3 295.9 L904.6 296.2 L904.6 296.9 L904.8 297.3 L905.2 297.6 L905.0 298.3 L905.5 298.5 L905.3 299.3 L905.5 299.8 L906.1 299.7 L906.1 300.4 L906.3 300.8 L906.3 301.5 L906.6 301.9 L906.5 302.5 L906.5 303.0 L906.5 303.6 L906.8 304.0 L906.9 304.5 L906.6 305.2 L906.3 305.9 L906.9 306.1 L906.9 306.6 L907.0 307.2 L906.9 307.8 L907.0 308.3 L907.2 308.7 L907.1 309.3 L907.4 309.7 L907.3 310.3 L907.8 310.6 L908.1 311.0 L908.4 311.4 L908.1 312.1 L908.2 312.6 L908.1 313.2 L908.5 313.5 L908.5 314.1 L908.6 314.6 L908.6 315.1 L908.6 315.7 L908.7 316.2 L908.4 316.9 L908.5 317.4 L908.9 317.8 L908.6 317.2 L908.9 316.8 L908.8 316.2 L909.0 315.8 L909.1 315.3 L909.3 314.8 L909.2 314.3 L909.2 313.8 L909.3 313.3 L909.2 312.7 L909.3 312.2 L909.3 311.7 L909.2 311.1 L909.7 310.8 L910.0 310.4 L910.1 309.9 L909.9 309.3 L909.8 308.7 L910.0 308.3 L910.3 307.9 L909.9 307.2 L909.9 306.7 L910.0 306.2 L910.2 305.7 L910.5 305.3 L910.3 304.7 L910.3 304.2 L910.6 303.8 L910.7 303.3 L910.3 302.6 L910.1 302.0 L910.8 301.7 L911.0 301.3 L911.0 300.8 L910.9 300.2 L910.9 299.7 L911.3 299.3 L911.8 299.0 L911.7 298.4 L911.5 297.8 L911.7 297.4 L911.5 296.8 L911.4 296.2 L911.7 295.8 L911.6 295.2 L911.7 294.7 L911.5 294.1 L911.4 293.4 L911.6 293.0 L912.0 292.7 L912.3 292.3 L912.2 291.7 L912.3 291.2 L912.2 290.6 L912.4 290.1 L912.4 289.6 L912.6 289.2 L912.4 288.5 L912.9 287.9 L913.3 288.2 L913.7 288.3 L914.1 288.7 L914.1 289.7 L914.0 291.1 L914.8 290.4 L914.7 291.7 L915.3 291.5 L915.5 292.3 L915.8 292.9 L916.1 293.9 L916.6 293.5 L916.9 294.5 L917.4 294.5 L918.1 293.5 L918.3 294.7 L918.8 294.6 L919.1 294.3 L919.3 293.8 L919.3 293.0 L919.8 293.0 L919.8 292.0 L920.5 292.3 L920.6 291.6 L920.8 291.1 L921.3 291.2 L921.5 290.6 L921.7 290.1 L922.2 290.1 L922.1 289.4 L922.6 288.5 L923.1 287.8 L923.7 289.1 L924.3 290.4 L924.8 289.2 L925.4 290.1 L925.9 288.3 L926.3 288.2 L926.2 286.7 L926.9 287.4 L927.2 286.8 L927.5 286.3 L927.7 285.8 L927.9 285.2 L928.3 284.9 L928.5 284.3 L928.9 283.9 L929.1 284.3 L929.1 284.9 L929.6 285.1 L929.6 285.7 L929.7 286.2 L929.5 286.9 L929.4 287.5 L929.8 287.9 L929.8 288.4 L930.0 288.8 L930.4 289.1 L930.2 289.8 L930.3 290.3 L930.0 291.1 L930.1 291.6 L930.3 292.0 L930.8 292.2 L930.8 292.8 L931.0 293.2 L930.8 294.0 L931.1 294.3 L931.3 294.8 L931.6 295.7 L932.1 295.5 L932.4 296.3 L932.7 297.1 L933.3 296.4 L933.4 295.8 L933.6 295.4 L933.7 294.8 L933.7 294.1 L934.1 293.9 L934.4 293.6 L934.6 293.2 L934.8 292.7 L935.3 292.6 L935.3 291.9 L935.1 291.0 L935.2 290.3 L935.7 290.3 L936.0 289.9 L935.9 289.2 L936.4 289.1 L936.4 288.4 L936.4 287.7 L936.5 287.1 L937.0 286.9 L937.1 286.4 L937.2 285.8 L937.3 285.2 L937.5 284.8 L937.8 284.5 L937.9 283.8 L938.0 283.2 L938.2 282.8 L938.6 282.5 L938.7 282.0 L939.1 281.8 L939.2 281.3 L939.4 280.8 L939.6 280.3 L940.3 280.5 L939.7 279.0 L940.1 278.8 L940.5 278.6 L940.8 278.3 L940.9 277.8 L941.3 277.5 L941.4 276.7 L941.7 276.4 L942.0 275.9 L941.9 274.8 L942.5 274.9 L942.2 273.4 L943.0 274.1 L943.1 273.3 L943.3 272.6 L943.6 272.2 L943.9 271.8 L944.4 271.8 L944.6 271.4 L945.0 271.1 L945.2 270.6 L945.1 269.7 L945.2 269.2 L945.4 268.7 L945.9 268.7 L946.4 268.7 L946.6 268.3 L946.8 267.8 L946.8 267.0 L946.8 266.3 L947.0 265.9 L947.2 265.4 L947.4 264.9 L947.2 263.9 L947.3 263.3 L947.6 262.9 L948.3 263.2 L948.4 262.3 L948.9 262.0 L949.5 262.4 L950.1 262.8 L950.3 261.6 L950.5 262.0 L950.7 262.6 L950.7 263.5 L951.1 263.8 L951.5 263.9 L951.7 264.4 L951.8 265.1 L952.3 265.2 L952.6 265.5 L952.7 266.2 L952.9 266.8 L953.5 266.6 L953.3 267.4 L953.6 266.9 L953.6 266.1 L954.0 265.8 L954.5 265.8 L954.6 265.0 L954.7 264.2 L955.2 264.3 L955.3 263.5 L955.7 263.3 L955.9 262.7 L956.5 262.9 L956.9 262.7 L957.0 262.0 L957.2 261.5 L957.8 261.9 L958.4 261.9 L958.9 261.7 L959.3 260.2 L960.1 262.3 L960.6 260.5 L961.0 260.3 L961.3 259.7 L961.7 259.6 L961.8 258.7 L961.9 257.9 L962.4 258.0 L962.7 257.5 L962.3 255.8 L962.7 255.5 L963.2 255.5 L963.6 255.2 L964.1 255.0 L963.8 254.2 L964.1 253.8 L964.3 253.4 L965.0 253.4 L964.3 252.2 L964.5 251.8 L964.6 251.3 L964.5 250.6 L964.6 250.1 L965.2 250.0 L965.1 249.3 L965.1 248.8 L965.2 248.2 L965.2 247.7 L966.0 247.7 L966.2 247.3 L965.8 246.4 L965.8 245.8 L966.0 245.4 L966.4 245.1 L966.1 244.3 L966.5 244.2 L966.2 243.0 L966.4 242.5 L966.5 241.9 L966.8 241.6 L966.6 240.6 L966.9 240.3 L967.1 239.7 L967.5 239.5 L967.8 239.2 L968.5 239.4 L968.5 238.6 L968.7 238.1 L968.5 237.2 L968.8 237.0 L969.0 236.6 L969.1 236.0 L969.1 235.4 L969.9 235.6 L969.9 234.9 L970.2 234.6 L970.2 233.9 L969.6 232.6 L969.9 232.3 L969.8 231.6 L970.5 231.5 L970.7 230.8 L971.0 230.2 L971.6 230.7 L971.9 230.2 L972.5 230.6 L972.9 230.5 L973.2 229.3 L973.3 228.8 L973.2 228.0 L973.3 227.4 L974.0 227.6 L974.0 226.9 L974.5 226.8 L974.3 225.9 L974.5 225.4 L974.7 225.0 L974.8 224.4 L975.5 224.5 L975.9 224.3 L975.4 223.0 L975.5 222.4 L975.5 221.6 L976.1 221.7 L976.6 221.8 L976.9 221.4 L977.1 220.9 L977.3 220.3 L977.2 219.4 L977.6 219.3 L977.7 218.5 L978.1 218.4 L978.5 218.2 L978.5 217.3 L978.6 216.8 L979.0 216.6 L979.0 215.5 L979.5 215.6 L979.3 214.2 L979.6 213.7 L980.2 214.0 L980.8 214.0 L981.0 213.6 L981.5 213.5 L981.6 212.7 L981.6 211.7 L981.9 211.1 L982.4 211.3 L982.5 210.2 L982.9 210.0 L983.3 209.9 L983.4 208.6 L984.1 209.1 L984.4 208.8 L984.9 208.7 L985.1 208.2 L984.7 207.2 L985.1 206.9 L984.9 206.2 L985.1 205.7 L985.1 205.1 L985.3 204.7 L985.5 204.2 L984.9 203.1 L985.4 203.0 L985.7 202.6 L985.7 201.9 L986.4 202.0 L985.9 200.9 L986.4 200.8 L986.4 200.1 L986.8 199.9 L986.8 199.1 L987.0 198.5 L987.0 197.8 L987.6 197.9 L987.9 197.4 L987.8 196.6 L987.6 195.5 L988.0 195.3 L988.4 194.9 L988.6 193.8 L989.0 193.5 L989.3 193.0 L989.6 192.4 L990.1 192.6 L990.5 192.4 L990.9 192.5 L991.0 192.0 L990.6 190.7 L991.4 190.9 L992.0 190.8 L991.6 189.7 L991.9 189.2 L992.3 189.0 L992.4 189.5 L993.0 189.8 L992.7 190.4 L992.4 191.1 L992.7 191.5 L992.8 192.0 L992.8 192.5 L992.9 193.0 L993.0 193.5 L992.7 194.1 L992.8 194.6 L993.4 195.0 L992.8 195.7 L992.9 196.2 L993.0 196.7 L993.6 197.0 L993.0 197.7 L993.1 198.2 L993.5 198.6 L993.3 199.2 L992.9 199.9 L993.7 200.1 L993.2 200.8 L993.6 201.2 L993.8 201.7 L993.7 202.2 L993.7 202.8 L993.6 203.3 L993.9 203.8 L993.6 204.4 L993.8 204.9 L994.1 205.2 L994.3 206.0 L994.9 205.8 L995.1 206.4 L995.6 206.3 L995.8 207.4 L996.3 207.3 L996.7 207.9 L996.5 207.2 L997.1 206.9 L996.7 206.2 L996.6 205.6 L996.9 205.2 L997.1 204.8 L997.1 204.2 L997.5 203.9 L997.2 203.2 L997.4 202.7 L997.2 202.1 L997.2 201.5 L997.3 201.1 L997.4 200.6 L998.3 200.4 L998.3 199.9 L998.1 199.3 L998.3 198.8 L998.8 198.5 L998.8 197.9 L998.3 197.2 L998.0 196.4 L998.1 196.0 L998.2 195.4 L998.4 195.0 L998.6 194.6 L998.6 194.1 L998.6 195.0 L999.1 194.9 L999.4 195.3 L999.8 195.6 L1000.0 196.1 L1000.6 195.9 L1001.0 196.2 L1000.6 197.7 L1000.8 198.2 L1000.5 198.9 L1000.4 199.4 L1000.5 199.9 L1000.8 200.3 L1000.8 200.9 L1000.6 201.5 L1000.7 202.0 L1000.6 202.6 L1001.4 202.7 L1001.2 203.4 L1001.0 204.0 L1001.6 204.3 L1001.0 205.0 L1001.1 205.6 L1001.2 206.0 L1001.3 206.5 L1001.5 207.0 L1001.7 207.4 L1001.9 207.8 L1002.0 208.3 L1002.3 208.7 L1001.9 209.4 L1001.9 210.0 L1002.4 210.3 L1002.7 209.9 L1002.8 209.4 L1002.5 208.8 L1002.3 208.2 L1002.9 207.9 L1003.2 207.5 L1003.1 206.9 L1002.6 206.3 L1002.7 205.8 L1002.4 205.1 L1002.3 204.6 L1002.8 204.3 L1003.4 203.9 L1003.1 203.3 L1002.5 202.6 L1002.5 202.1 L1002.6 201.6 L1002.9 201.2 L1003.1 200.7 L1003.1 200.2 L1003.5 199.8 L1003.8 199.4 L1003.8 198.9 L1004.1 198.4 L1003.8 197.8 L1003.9 197.4 L1003.7 196.7 L1004.0 196.3 L1003.9 195.8 L1004.2 195.4 L1003.9 194.8 L1004.0 194.3 L1003.7 193.6 L1003.8 193.2 L1004.1 192.8 L1004.0 191.7 L1004.5 191.7 L1005.0 191.8 L1005.2 191.2 L1005.1 190.3 L1005.2 189.5 L1006.0 190.0 L1005.8 188.8 L1006.3 188.9 L1006.1 187.8 L1006.8 187.3 L1006.9 188.4 L1007.0 189.3 L1007.4 189.6 L1007.7 190.2 L1008.3 189.8 L1008.6 190.2 L1008.7 190.8 L1008.8 191.2 L1009.1 191.6 L1008.8 192.3 L1008.9 192.8 L1009.0 193.2 L1009.2 193.7 L1009.2 194.2 L1009.1 194.8 L1009.3 195.3 L1009.5 195.7 L1009.9 196.0 L1010.1 196.5 L1010.0 197.1 L1010.2 197.5 L1009.8 198.2 L1009.5 198.9 L1009.5 199.4 L1009.0 200.2 L1009.4 200.5 L1009.5 201.0 L1009.8 201.4 L1009.8 201.9 L1009.8 202.5 L1009.9 203.0 L1010.2 203.3 L1010.4 203.8 L1011.2 204.0 L1010.6 204.8 L1010.6 205.3 L1010.5 205.9 L1010.7 206.3 L1010.7 206.8 L1010.9 207.3 L1011.2 207.7 L1010.9 208.3 L1010.8 208.9 L1011.5 209.1 L1010.9 209.9 L1010.9 210.4 L1011.0 210.9 L1011.0 211.4 L1010.8 212.0 L1011.0 212.5 L1011.2 212.9 L1011.7 213.3 L1011.6 213.8 L1011.8 214.3 L1011.6 214.9 L1011.4 215.5 L1012.0 215.8 L1012.2 216.2 L1011.9 216.9 L1011.5 217.5 L1011.6 218.0 L1012.1 218.3 L1012.6 218.7 L1012.7 219.2 L1012.3 219.9 L1012.6 220.3 L1012.5 220.8 L1012.4 221.4 L1012.3 221.9 L1012.3 222.4 L1012.6 222.8 L1012.8 223.3 L1012.5 223.9 L1013.1 224.3 L1013.0 224.8 L1012.4 225.4 L1013.1 225.8 L1012.7 226.4 L1012.9 226.8 L1013.0 227.3 L1012.8 227.9 L1012.9 228.4 L1013.3 228.8 L1013.3 229.3 L1013.4 229.8 L1013.7 230.3 L1013.6 230.8 L1013.0 231.4 L1013.1 231.8 L1013.3 232.3 L1013.1 232.9 L1013.4 233.3 L1012.9 233.9 L1013.0 234.4 L1012.7 234.9 L1013.0 235.4 L1013.1 235.9 L1013.1 236.4 L1013.4 236.9 L1012.9 237.4 L1013.3 238.0 L1013.2 237.4 L1013.2 236.9 L1013.6 236.5 L1013.6 235.9 L1013.7 235.5 L1013.5 234.8 L1013.7 234.4 L1014.3 234.1 L1014.1 233.5 L1014.1 233.0 L1014.1 232.4 L1014.0 231.9 L1013.9 231.3 L1013.9 230.8 L1014.0 230.3 L1014.0 229.8 L1013.7 229.1 L1014.2 228.8 L1014.4 228.3 L1014.0 227.6 L1014.2 227.2 L1014.3 226.7 L1014.4 226.2 L1014.5 225.7 L1014.2 225.1 L1014.6 224.7 L1015.1 224.3 L1015.0 223.7 L1014.5 223.0 L1015.2 222.8 L1015.4 222.3 L1014.9 221.6 L1015.0 222.1 L1015.1 222.6 L1015.0 223.1 L1014.6 223.7 L1015.6 224.0 L1015.2 224.6 L1015.2 225.1 L1015.3 225.6 L1016.0 226.0 L1016.0 226.5 L1015.3 227.2 L1014.9 227.8 L1015.2 228.2 L1015.1 228.8 L1015.0 229.3 L1015.2 229.8 L1015.3 230.3 L1015.5 230.8 L1015.6 231.3 L1015.9 231.7 L1015.9 232.2 L1015.7 232.8 L1015.6 233.3 L1015.3 233.9 L1015.6 234.3 L1015.6 234.9 L1015.5 235.4 L1015.6 235.9 L1015.7 236.4 L1015.7 236.9 L1016.0 237.4 L1015.7 237.9 L1015.9 238.4 L1016.2 238.9 L1016.4 239.3 L1016.3 239.9 L1016.4 240.4 L1016.4 240.9 L1016.5 241.4 L1016.2 241.9 L1016.2 242.4 L1016.3 242.9 L1016.7 243.4 L1016.6 243.9 L1016.5 244.4 L1016.5 244.9 L1016.6 245.4 L1016.8 245.9 L1016.6 246.4 L1016.6 246.9 L1016.3 247.5 L1016.2 248.0 L1016.4 248.5 L1016.2 249.0 L1016.6 249.4 L1016.1 250.0 L1016.6 250.5 L1016.6 251.0 L1016.7 251.4 L1016.6 252.0 L1016.3 252.5 L1016.6 253.0 L1016.8 253.5 L1016.6 254.0 L1016.8 254.5 L1016.9 255.0 L1017.1 255.4 L1017.2 255.9 L1017.0 256.5 L1017.1 257.0 L1016.9 257.5 L1016.9 258.0 L1017.3 258.4 L1017.0 259.0 L1016.9 259.5 L1017.2 260.0 L1017.1 260.5 L1017.0 261.0 L1016.9 261.5 L1017.4 262.0 L1017.2 262.5 L1017.5 262.9 L1017.3 263.5 L1017.3 264.0 L1017.5 264.5 L1017.3 265.0 L1017.4 265.5 L1017.4 266.0 L1018.0 266.4 L1017.6 267.0 L1017.1 267.6 L1016.8 268.1 L1016.9 268.6 L1017.2 269.1 L1017.4 269.5 L1017.2 270.1 L1017.7 270.5 L1017.9 271.0 L1017.9 271.5 L1017.8 272.0 L1018.0 272.5 L1017.9 273.0 L1017.6 273.6 L1017.5 274.1 L1017.6 274.6 L1017.9 275.0 L1017.7 275.6 L1017.7 276.1 L1018.0 276.5 L1017.6 277.1 L1017.6 277.6 L1017.6 278.1 L1017.5 278.6 L1017.6 279.1 L1018.0 279.6 L1018.1 280.1 L1017.7 280.6 L1018.1 281.1 L1017.6 281.6 L1017.9 282.1 L1018.0 282.6 L1017.9 283.1 L1018.1 283.6 L1018.3 284.1 L1018.0 284.7 L1018.2 285.2 L1018.0 285.7 L1018.6 286.2 L1018.4 286.7 L1018.2 287.2 L1017.8 287.7 L1018.2 288.2 L1018.3 288.7 L1018.0 289.3 L1017.7 289.8 L1018.2 290.3 L1018.2 290.8 L1018.5 291.3 L1018.5 291.8 L1018.4 292.3 L1018.5 292.8 L1018.5 293.3 L1018.6 293.9 L1018.6 294.4 L1018.2 294.9 L1018.5 295.4 L1018.4 295.9 L1018.4 296.4 L1018.2 296.9 L1018.6 297.4 L1018.3 298.0 L1018.4 298.5 L1018.2 299.0 L1018.5 299.5 L1018.4 300.0 L1018.3 300.5 L1018.3 301.0 L1018.4 301.5 L1018.4 302.0 L1018.4 302.5 L1018.2 303.0 L1018.4 303.5 L1018.6 304.0 L1018.1 304.5 L1018.7 305.0 L1018.4 305.5 L1018.4 306.0 L1018.8 306.5 L1018.6 307.0 L1018.5 307.5 L1018.4 308.0 L1018.2 308.5 L1018.6 309.0 L1018.4 309.5 L1019.1 310.0 L1019.0 310.5 L1018.6 311.0 L1019.0 311.5 L1019.0 312.0 L1018.9 312.5 L1018.7 313.0 L1018.8 313.5 L1018.8 314.0 L1019.0 314.5 L1019.0 315.0 L1018.8 315.5 L1019.1 316.0 L1019.0 316.5 L1019.1 317.0 L1019.0 317.5 L1018.8 318.0 L1018.5 317.3 L1018.7 316.9 L1019.1 316.5 L1019.0 315.9 L1019.1 315.4 L1019.2 314.9 L1019.1 314.4 L1019.5 314.0 L1019.5 313.5 L1019.4 312.9 L1019.4 312.4 L1019.9 312.1 L1019.8 311.5 L1019.7 311.0 L1019.8 311.5 L1019.3 312.0 L1019.7 312.5 L1019.9 313.0 L1019.4 313.5 L1019.3 314.0 L1019.5 314.5 L1019.2 315.0 L1019.3 315.5 L1019.5 316.0 L1019.6 316.5 L1019.8 317.0 L1019.6 317.5 L1019.8 318.0 L1019.6 318.5 L1019.7 319.0 L1019.9 319.5 L1019.7 320.0 L1019.6 320.5 L1019.8 321.0 L1019.4 321.5 L1019.6 322.0 L1019.7 322.5 L1019.7 323.0 L1019.4 323.5 L1019.8 324.0 L1019.6 324.5 L1019.5 325.0 L1019.9 325.5 L1020.1 326.0 L1020.0 326.5 L1020.2 327.0 L1020.1 327.5 L1019.7 328.0 L1019.8 328.5 L1020.1 329.0 L1019.9 329.5 L1019.8 330.0 L1019.9 330.5 L1020.0 331.0 L1019.4 331.5 L1019.5 332.0 L1019.4 332.5 L1019.3 333.0 L1019.5 333.5 L1019.5 334.0 L1019.4 333.4 L1019.4 332.8 L1019.5 332.3 L1019.5 331.8 L1019.6 331.3 L1019.8 330.9 L1020.0 330.4 L1019.9 329.8 L1020.4 329.6 L1020.1 328.9 L1020.0 328.3 L1020.5 328.0 L1020.5 327.5 L1020.3 326.8 L1021.0 326.6 L1020.7 326.0 L1020.8 326.5 L1020.7 327.0 L1020.7 327.5 L1020.9 328.0 L1020.9 328.5 L1020.7 329.0 L1021.0 329.5 L1020.7 330.0 L1020.8 330.5 L1020.7 331.0 L1020.7 331.5 L1020.8 332.0 L1020.7 332.5 L1020.7 333.0 L1020.6 333.5 L1020.5 334.0 L1020.4 334.5 L1020.6 335.0 L1020.7 335.5 L1020.2 336.0 L1020.6 336.5 L1020.7 337.0 L1020.5 337.5 L1020.6 338.0 L1020.4 338.5 L1020.3 339.0 L1020.1 339.5 L1020.1 340.0 L1020.1 340.5 L1020.3 341.0 L1020.4 341.5 L1020.1 342.0 L1020.0 342.5 L1020.4 343.0 L1020.0 343.5 L1020.4 344.0 L1020.6 344.5 L1020.4 345.0 L1020.4 345.5 L1020.5 346.0 L1020.5 346.5 L1020.5 347.0 L1020.1 347.5 L1020.1 348.0 L1020.4 347.6 L1020.6 347.2 L1020.5 346.6 L1020.6 346.1 L1020.7 345.6 L1020.7 345.1 L1020.9 344.6 L1021.2 344.3 L1020.9 343.6 L1020.9 343.0 L1021.2 342.6 L1021.2 342.1 L1021.6 341.8 L1021.3 341.1 L1021.4 340.6 L1021.3 340.0 L1021.5 340.5 L1021.3 341.0 L1020.9 341.5 L1021.3 342.0 L1021.3 342.5 L1021.4 343.0 L1021.2 343.5 L1021.3 344.0 L1021.3 344.5 L1020.9 345.0 L1021.0 345.5 L1021.3 346.0 L1021.7 346.5 L1021.3 347.0 L1021.2 347.5 L1021.3 348.0 L1021.2 348.5 L1020.9 349.0 L1020.7 349.5 L1020.9 350.0 L1021.2 350.5 L1021.0 351.0 L1020.8 351.5 L1020.8 352.0 L1020.8 352.5 L1020.9 353.0 L1021.1 353.5 L1021.4 354.0 L1021.1 354.5 L1020.7 355.0 L1020.6 355.5 L1020.7 356.0 L1020.6 356.5 L1020.7 357.0 L1020.8 357.5 L1020.8 358.0 L1020.6 358.5 L1020.6 359.0 L1020.6 359.5 L1020.5 360.0 L1020.8 360.5 L1020.8 361.0 L1021.2 361.5 L1020.7 361.9 L1020.6 361.3 L1020.9 361.0 L1020.8 360.3 L1021.5 360.2 L1021.3 359.5 L1021.7 359.2 L1021.7 358.6 L1021.8 358.1 L1021.6 357.5 L1021.7 357.0 L1022.1 356.6 L1022.1 356.1 L1022.0 355.4 L1022.2 355.0 L1021.9 355.5 L1021.9 356.0 L1022.3 356.5 L1022.3 357.0 L1021.9 357.5 L1022.3 358.0 L1022.3 358.5 L1022.0 359.0 L1022.2 359.5 L1022.4 360.0 L1021.8 360.5 L1021.8 361.0 L1022.0 361.5 L1022.0 362.0 L1022.1 362.5 L1022.3 363.0 L1022.2 363.5 L1022.1 364.0 L1022.2 364.5 L1022.1 365.0 L1022.0 365.5 L1022.5 366.0 L1022.5 366.5 L1022.3 367.0 L1022.1 367.5 L1021.9 368.0 L1021.8 368.5 L1022.0 369.0 L1021.9 369.5 L1022.0 370.0 L1022.2 370.5 L1022.1 371.0 L1021.8 371.5 L1022.0 372.0 L1022.1 372.5 L1022.3 373.0 L1022.1 373.5 L1022.2 374.0 L1022.1 374.5 L1021.9 375.0 L1022.1 375.5 L1022.1 376.0 L1022.1 376.5 L1022.4 377.0 L1022.2 377.5 L1022.3 378.0 L1022.4 378.5 L1022.1 379.0 L1022.0 379.5 L1022.1 380.0 L1021.9 379.3 L1022.6 379.1 L1022.4 378.5 L1022.3 377.9 L1022.6 377.5 L1023.0 377.2 L1022.7 376.4 L1022.8 375.9 L1022.9 375.5 L1023.0 375.0 L1023.2 374.5 L1023.5 374.2 L1023.2 373.4 L1023.3 372.9 L1023.8 372.7 L1023.6 372.0 L1023.6 372.5 L1023.7 373.0 L1023.4 373.5 L1023.6 374.0 L1024.0 374.5 L1023.9 375.0 L1023.9 375.5 L1024.3 376.0 L1024.0 376.5 L1024.0 377.0 L1023.7 377.5 L1024.2 378.0 L1024.4 378.5 L1023.8 379.0 L1023.7 379.5 L1023.8 380.0 L1024.0 380.5 L1023.5 381.1 L1024.2 381.5 L1023.8 382.1 L1024.0 382.5 L1024.2 383.0 L1024.0 383.6 L1024.1 384.0 L1024.4 384.5 L1024.1 385.1 L1023.8 385.6 L1024.0 386.1 L1024.0 386.6 L1024.1 387.1 L1024.1 387.6 L1024.2 388.1 L1024.2 388.6 L1023.9 389.1 L1024.1 389.6 L1024.0 390.1 L1024.1 390.6 L1024.5 391.1 L1024.4 391.6 L1024.5 392.1 L1024.5 392.6 L1024.6 393.1 L1024.2 393.6 L1024.2 394.1 L1024.4 394.6 L1024.6 394.1 L1024.5 393.6 L1024.3 393.1 L1024.3 392.6 L1024.3 392.1 L1024.6 391.6 L1024.8 391.1 L1024.5 390.6 L1024.6 390.1 L1024.6 389.6 L1024.6 389.1 L1024.8 388.6 L1024.7 388.1 L1024.9 387.6 L1025.1 387.1 L1025.2 386.6 L1024.8 386.1 L1024.9 385.6 L1024.6 385.0 L1024.7 384.5 L1024.9 384.1 L1024.9 383.6 L1024.9 383.0 L1025.1 382.6 L1025.0 382.0 L1024.9 381.5 L1024.7 381.0 L1024.7 380.5 L1024.8 380.0 L1024.9 379.5 L1025.2 379.1 L1025.0 378.5 L1025.3 378.1 L1025.3 377.5 L1025.2 377.0 L1025.3 376.5 L1025.3 376.0 L1025.0 375.5 L1025.2 375.0 L1025.2 374.5 L1025.3 374.0 L1025.0 373.5 L1025.1 373.0 L1024.9 372.4 L1025.0 371.9 L1025.2 371.5 L1025.5 371.0 L1025.4 371.5 L1025.3 372.0 L1025.4 372.5 L1025.5 373.0 L1025.4 373.5 L1025.5 374.0 L1025.5 374.5 L1025.5 375.0 L1025.3 375.5 L1025.4 376.0 L1025.7 376.5 L1025.7 377.0 L1025.8 377.5 L1025.6 378.0 L1025.8 378.5 L1026.0 379.0 L1025.7 379.5 L1025.9 380.0 L1025.8 380.5 L1025.6 381.0 L1025.5 381.5 L1025.7 382.0 L1025.8 382.5 L1025.6 383.0 L1025.7 383.5 L1025.9 384.0 L1025.9 383.5 L1026.0 383.0 L1026.2 382.5 L1026.2 382.0 L1026.1 381.5 L1026.2 381.0 L1025.9 380.5 L1026.4 380.0 L1026.2 379.5 L1026.0 378.9 L1025.9 378.4 L1026.2 378.0 L1026.3 377.5 L1026.5 377.0 L1026.7 376.5 L1026.1 375.9 L1026.0 375.4 L1026.2 374.9 L1026.3 374.4 L1026.2 373.9 L1026.3 373.4 L1026.4 372.9 L1026.3 372.4 L1026.4 371.9 L1026.6 371.4 L1026.6 370.9 L1026.5 370.4 L1026.5 369.9 L1026.8 369.5 L1026.6 368.9 L1026.4 368.4 L1026.6 367.9 L1026.7 367.4 L1026.7 366.9 L1026.7 366.4 L1026.8 365.9 L1026.3 365.3 L1026.6 364.9 L1026.5 364.3 L1026.8 363.9 L1026.9 363.4 L1026.8 362.9 L1026.6 362.3 L1026.8 361.9 L1026.8 361.4 L1026.7 360.8 L1026.7 360.3 L1026.6 359.8 L1026.7 359.3 L1026.8 358.8 L1027.3 358.4 L1027.0 357.8 L1026.8 357.3 L1027.0 356.8 L1027.4 356.4 L1027.3 355.9 L1027.2 355.3 L1027.2 354.8 L1027.4 354.3 L1027.2 353.8 L1026.9 353.3 L1027.4 352.7 L1027.5 353.2 L1027.6 353.7 L1027.5 354.3 L1027.7 354.8 L1027.8 355.3 L1027.7 355.9 L1028.0 356.3 L1028.1 356.8 L1027.9 357.5 L1027.8 358.1 L1028.2 358.4 L1028.1 359.1 L1028.4 359.5 L1028.8 359.8 L1028.9 360.3 L1028.8 360.9 L1028.9 361.4 L1029.0 361.9 L1028.7 362.7 L1029.1 363.1 L1029.2 363.6 L1029.2 364.2 L1029.3 364.7 L1029.6 365.1 L1029.9 365.4 L1029.9 366.0 L1029.8 366.7 L1030.3 366.9 L1030.6 367.2 L1030.8 367.7 L1030.4 368.6 L1030.8 368.8 L1030.8 369.5 L1031.1 369.8 L1031.1 370.4 L1031.4 370.8 L1031.7 371.1 L1031.8 371.8 L1032.0 371.3 L1032.1 370.8 L1032.2 370.3 L1031.9 369.7 L1032.0 369.1 L1032.0 368.6 L1032.0 368.0 L1032.3 367.6 L1032.3 367.1 L1032.6 366.7 L1032.6 366.1 L1032.5 365.5 L1032.4 364.9 L1032.5 364.4 L1033.0 364.1 L1033.4 363.8 L1033.0 363.1 L1033.0 362.5 L1033.4 362.1 L1033.3 361.6 L1033.3 361.0 L1033.5 360.6 L1033.4 360.0 L1033.6 359.5 L1033.7 359.0 L1033.4 358.3 L1033.8 358.0 L1033.9 357.5 L1034.2 357.1 L1034.0 356.4 L1033.8 355.7 L1034.1 355.2 L1034.0 354.3 L1034.4 354.0 L1034.9 354.0 L1034.9 353.3 L1035.3 353.1 L1035.5 352.6 L1035.8 352.2 L1035.7 351.2 L1036.1 351.0 L1036.5 350.9 L1036.7 350.4 L1036.8 349.7 L1037.4 349.9 L1037.5 349.1 L1037.7 348.7 L1037.8 348.2 L1038.0 347.7 L1038.3 347.3 L1038.3 346.6 L1038.2 345.7 L1038.6 345.6 L1038.8 345.2 L1038.8 344.3 L1039.0 343.9 L1038.8 343.0 L1039.1 342.6 L1039.5 342.4 L1039.4 341.5 L1039.7 341.2 L1039.6 340.4 L1040.1 340.3 L1040.8 340.4 L1041.0 340.7 L1041.0 341.3 L1041.1 341.8 L1041.7 341.9 L1041.7 342.5 L1041.6 343.2 L1041.9 343.5 L1041.9 344.1 L1041.7 344.8 L1041.9 345.2 L1041.9 345.8 L1042.0 346.3 L1042.0 346.9 L1042.1 347.3 L1041.9 348.1 L1042.1 348.5 L1042.5 348.8 L1042.5 349.4 L1042.5 349.9 L1043.2 350.0 L1043.2 350.6 L1043.1 351.2 L1043.1 351.6 L1043.4 351.2 L1043.2 350.5 L1043.5 350.2 L1043.6 349.7 L1043.4 349.0 L1043.2 348.4 L1043.4 347.9 L1043.5 347.5 L1043.4 346.9 L1043.9 346.6 L1043.8 346.0 L1044.0 345.6 L1044.3 345.2 L1044.5 344.8 L1044.6 344.3 L1044.7 343.8 L1044.3 343.0 L1044.6 342.6 L1045.0 342.3 L1045.1 341.8 L1045.3 341.4 L1045.5 341.0 L1045.3 340.3 L1045.4 339.9 L1045.4 339.3 L1045.2 338.7 L1045.5 338.3 L1045.8 337.9 L1046.0 338.3 L1045.9 338.9 L1045.9 339.6 L1046.2 340.0 L1046.7 340.1 L1046.7 340.7 L1046.7 341.4 L1046.8 341.9 L1046.6 342.6 L1047.0 342.9 L1046.9 343.5 L1046.8 344.2 L1047.2 344.5 L1047.1 345.2 L1047.7 345.4 L1048.1 345.7 L1048.1 346.2 L1048.3 346.7 L1048.5 347.1 L1048.3 348.2 L1048.6 347.3 L1049.0 346.8 L1049.6 347.0 L1049.9 346.1 L1050.3 345.5 L1050.7 345.3 L1051.3 345.4 L1051.7 345.5 L1051.7 346.6 L1052.1 346.8 L1052.5 347.2 L1053.1 347.0 L1053.1 348.0 L1052.9 349.5 L1053.5 349.4 L1053.8 349.8 L1054.4 350.0 L1055.0 350.1 L1054.9 349.3 L1055.2 349.0 L1055.0 348.1 L1055.1 347.5 L1055.3 347.1 L1055.8 347.0 L1055.8 346.4 L1056.1 346.1 L1056.0 345.3 L1056.1 344.7 L1056.2 344.1 L1056.4 343.7 L1056.5 343.2 L1056.8 342.9 L1057.0 342.4 L1057.3 342.0 L1057.5 341.6 L1057.4 340.9 L1057.6 340.5 L1057.8 340.0 L1057.7 339.2 L1058.2 339.0 L1058.0 338.2 L1058.0 337.5 L1058.7 337.5 L1058.5 336.6 L1058.6 336.1 L1058.7 335.5 L1059.2 335.3 L1059.5 334.9 L1059.5 334.3 L1059.7 333.9 L1059.8 333.3 L1060.2 333.0 L1060.3 332.4 L1060.5 332.0 L1060.5 331.4 L1060.9 331.2 L1061.2 330.8 L1061.2 330.2 L1061.1 329.5 L1061.3 329.0 L1061.3 328.4 L1061.1 327.6 L1061.5 327.4 L1061.6 326.9 L1061.7 326.4 L1061.8 325.9 L1062.1 325.5 L1062.0 324.8 L1062.1 324.3 L1062.2 323.7 L1062.1 323.1 L1062.4 322.8 L1062.6 322.3 L1062.6 321.8 L1062.8 321.3 L1063.1 320.9 L1063.3 320.5 L1063.3 320.0 L1063.5 319.5 L1063.4 318.9 L1063.5 318.4 L1063.3 317.8 L1063.4 317.3 L1063.2 316.8 L1063.7 316.4 L1063.4 315.8 L1063.6 315.4 L1063.3 314.7 L1063.4 314.2 L1063.7 313.8 L1063.4 313.1 L1063.5 312.7 L1064.0 312.3 L1064.0 311.8 L1063.9 311.2 L1064.1 310.8 L1064.0 310.2 L1064.4 309.8 L1064.1 309.2 L1064.2 308.7 L1064.3 308.2 L1064.5 307.8 L1064.9 307.4 L1064.8 306.8 L1064.5 306.2 L1064.4 305.6 L1065.1 305.4 L1065.0 304.8 L1064.7 304.2 L1065.1 303.8 L1065.0 303.2 L1065.3 302.9 L1065.3 302.3 L1065.4 301.9 L1065.3 301.2 L1065.8 300.9 L1065.8 300.3 L1065.8 299.7 L1066.1 299.4 L1066.0 298.7 L1066.3 298.3 L1066.4 297.8 L1066.4 297.2 L1066.6 296.7 L1066.9 296.4 L1066.8 295.7 L1067.1 295.4 L1066.8 294.5 L1067.3 294.3 L1067.1 293.5 L1066.9 292.7 L1067.7 292.5 L1068.1 292.6 L1068.4 293.0 L1068.3 294.0 L1068.3 294.9 L1068.5 295.4 L1068.8 295.7 L1069.4 295.6 L1069.3 296.5 L1069.6 296.8 L1069.7 297.6 L1070.1 297.8 L1070.2 298.3 L1070.3 298.9 L1070.2 299.7 L1070.6 299.9 L1070.9 300.3 L1071.2 300.6 L1071.5 301.0 L1071.9 301.2 L1071.6 302.3 L1071.8 302.7 L1071.8 302.2 L1072.1 301.8 L1072.4 301.4 L1072.1 300.7 L1072.5 300.3 L1072.7 299.9 L1072.3 299.1 L1072.2 298.4 L1072.7 298.2 L1072.5 297.5 L1072.7 297.1 L1073.3 296.9 L1073.0 296.1 L1073.1 295.6 L1073.5 295.3 L1073.6 294.8 L1073.5 294.2 L1073.2 293.4 L1073.6 293.1 L1073.8 292.7 L1074.1 292.3 L1074.1 291.8 L1074.1 291.2 L1074.6 290.9 L1074.4 290.7 L1074.9 289.4 L1075.5 290.5 L1076.0 290.5 L1076.5 290.4 L1077.1 290.3 L1077.6 289.7 L1077.7 290.2 L1077.4 291.0 L1077.8 291.3 L1078.4 291.5 L1077.9 292.4 L1077.9 293.0 L1078.5 293.1 L1078.8 293.5 L1078.9 294.1 L1078.9 294.7 L1078.9 295.2 L1078.9 295.8 L1078.7 296.5 L1079.4 296.6 L1079.4 297.2 L1079.6 296.9 L1079.8 296.2 L1080.4 296.4 L1080.5 295.8 L1080.5 294.9 L1081.1 295.1 L1081.0 294.2 L1081.3 293.7 L1080.9 292.4 L1081.4 292.3 L1081.7 292.1 L1081.7 291.2 L1082.3 291.3 L1082.6 291.0 L1082.6 290.2 L1083.0 289.9 L1083.1 289.4 L1083.1 288.7 L1082.9 287.8 L1083.4 287.6 L1083.9 287.6 L1084.2 287.2 L1084.4 286.8 L1084.2 285.9 L1084.3 285.3 L1084.5 284.9 L1084.9 284.7 L1085.2 284.3 L1085.7 284.2 L1085.5 283.2 L1085.5 282.6 L1085.3 281.7 L1085.7 281.5 L1086.0 281.1 L1086.0 280.4 L1086.2 280.0 L1086.2 279.3 L1086.5 278.9 L1086.6 278.3 L1086.8 277.9 L1086.8 277.2 L1087.2 277.0 L1087.3 276.4 L1088.1 276.6 L1088.3 276.1 L1088.0 275.1 L1088.2 274.6 L1088.6 274.4 L1088.7 273.8 L1089.2 273.7 L1089.0 272.7 L1089.5 272.6 L1089.2 271.7 L1089.5 271.3 L1089.6 270.8 L1089.9 270.5 L1089.7 269.7 L1090.1 269.5 L1090.1 268.8 L1090.5 268.6 L1090.3 267.7 L1090.5 267.4 L1090.7 266.9 L1090.5 266.1 L1091.1 266.0 L1091.5 265.8 L1091.5 265.2 L1091.4 264.5 L1091.4 263.9 L1091.4 264.8 L1091.4 265.5 L1092.2 265.0 L1092.2 265.9 L1092.1 266.8 L1093.0 266.3 L1093.2 266.8 L1093.0 267.8 L1093.5 267.9 L1093.8 268.2 L1093.9 268.8 L1094.3 268.6 L1094.8 268.5 L1094.3 266.9 L1094.8 266.9 L1095.4 267.1 L1095.4 266.2 L1095.6 265.6 L1095.8 265.0 L1096.5 265.4 L1096.1 263.8 L1096.4 263.4 L1096.7 263.1 L1097.0 262.5 L1097.3 262.9 L1097.4 263.5 L1097.6 264.0 L1097.8 264.4 L1097.6 265.3 L1098.1 265.4 L1098.2 266.0 L1098.2 266.7 L1098.4 267.1 L1098.9 267.3 L1098.6 268.3 L1098.8 268.7 L1099.0 269.2 L1099.3 269.6 L1099.4 270.1 L1100.0 270.5 L1100.2 269.7 L1100.4 268.7 L1100.5 267.6 L1101.0 267.5 L1101.5 267.8 L1102.0 267.6 L1102.1 268.1 L1102.0 268.8 L1102.1 269.3 L1102.5 269.6 L1102.5 270.2 L1102.7 270.6 L1102.8 271.2 L1103.3 271.3 L1103.4 271.9 L1103.3 272.5 L1103.2 273.2 L1103.3 273.8 L1103.8 274.0 L1103.7 274.6 L1104.6 274.4 L1104.5 275.1 L1104.2 276.1 L1104.3 276.5 L1104.6 276.9 L1104.3 277.8 L1104.2 278.5 L1104.8 278.6 L1105.0 279.0 L1105.3 279.3 L1105.5 279.7 L1105.5 280.4 L1105.7 280.8 L1105.8 281.3 L1106.1 281.7 L1106.3 282.1 L1106.3 282.7 L1106.7 283.0 L1107.0 283.2 L1106.8 284.1 L1106.9 284.6 L1107.0 285.2 L1107.0 284.6 L1107.0 283.9 L1107.8 284.0 L1107.6 283.2 L1107.9 282.7 L1108.0 282.2 L1108.1 281.7 L1107.8 280.7 L1108.7 280.9 L1109.0 280.6 L1109.0 279.9 L1109.1 279.3 L1109.1 278.6 L1109.2 278.0 L1109.4 277.4 L1109.7 276.1 L1110.2 276.2 L1110.6 275.6 L1111.1 275.4 L1111.8 276.0 L1112.3 276.0 L1112.7 275.7 L1112.9 276.2 L1113.1 276.8 L1113.5 277.0 L1113.5 278.0 L1113.7 278.3 L1114.3 278.3 L1114.6 278.6 L1114.7 279.3 L1115.2 279.2 L1115.5 279.6 L1115.5 280.5 L1115.8 280.9 L1115.9 281.0 L1116.3 279.7 L1116.9 280.2 L1117.3 279.1 L1117.8 279.3 L1118.5 280.2 L1118.4 280.9 L1119.4 280.6 L1119.3 281.3 L1119.5 281.7 L1119.3 282.5 L1119.7 282.8 L1119.8 283.3 L1120.1 283.7 L1120.0 284.4 L1120.0 285.0 L1120.1 285.5 L1120.2 286.1 L1120.1 286.7 L1120.1 287.3 L1120.1 287.9 L1120.5 288.2 L1120.8 288.6 L1120.7 289.3 L1120.5 290.0 L1121.0 290.2 L1121.1 289.6 L1121.2 289.0 L1121.5 288.6 L1121.8 288.3 L1122.2 288.0 L1122.3 287.5 L1122.7 287.3 L1122.8 286.6 L1122.7 285.9 L1123.1 285.5 L1123.2 284.9 L1123.4 284.5 L1123.4 284.0 L1124.0 284.0 L1124.1 284.6 L1124.2 285.2 L1124.5 285.5 L1124.4 286.4 L1124.6 286.8 L1124.7 287.3 L1124.9 287.8 L1124.9 288.5 L1125.4 288.6 L1125.4 289.2 L1125.3 290.0 L1125.6 290.4 L1126.1 290.5 L1126.4 290.9 L1126.3 291.6 L1126.2 292.4 L1126.5 292.8 L1127.0 292.8 L1127.2 293.3 L1127.1 294.2 L1126.9 295.2 L1127.0 295.7 L1127.3 296.2 L1127.7 296.4 L1127.9 296.7 L1127.9 297.6 L1128.3 297.8 L1129.1 297.4 L1129.3 297.9 L1129.1 298.9 L1129.2 299.5 L1129.6 299.8 L1130.2 299.6 L1130.3 300.3 L1130.7 300.5 L1130.5 301.4 L1130.4 302.3 L1130.7 302.7 L1131.0 303.1 L1130.9 303.9 L1131.9 303.4 L1131.6 304.4 L1131.4 305.0 L1131.8 304.7 L1132.2 304.5 L1132.1 303.3 L1132.7 303.5 L1132.8 302.7 L1133.1 302.4 L1133.6 302.4 L1133.6 301.3 L1133.9 301.0 L1134.3 300.7 L1134.5 300.0 L1134.8 299.3 L1135.4 299.9 L1135.7 299.1 L1136.1 298.5 L1136.6 298.7 L1136.8 297.4 L1137.4 297.8 L1137.8 297.8 L1137.9 296.8 L1138.3 296.8 L1138.4 296.0 L1138.7 295.6 L1139.1 295.5 L1139.6 295.5 L1139.6 294.4 L1140.0 294.3 L1140.2 293.7 L1140.4 293.1 L1140.9 293.2 L1140.9 292.1 L1141.5 292.4 L1141.8 292.1 L1141.9 291.1 L1142.2 290.9 L1142.4 290.2 L1142.8 290.3 L1142.9 290.8 L1143.2 291.1 L1143.5 291.5 L1143.4 292.1 L1143.3 292.9 L1143.4 293.4 L1143.7 293.7 L1143.5 294.5 L1143.8 294.8 L1143.9 295.4 L1144.3 295.6 L1144.3 296.3 L1144.5 296.7 L1144.7 297.1 L1144.9 297.6 L1145.0 298.1 L1145.2 298.5 L1145.3 299.0 L1145.2 299.6 L1145.2 300.2 L1144.9 300.9 L1145.1 301.3 L1145.3 301.8 L1145.5 302.3 L1145.5 302.8 L1145.5 303.4 L1145.9 303.7 L1146.0 304.2 L1145.9 304.8 L1145.9 305.3 L1146.5 305.6 L1146.6 306.1 L1146.3 306.8 L1146.8 307.1 L1147.0 307.5 L1147.1 308.0 L1147.0 308.7 L1146.8 309.3 L1146.9 309.8 L1147.1 310.4 L1147.6 310.6 L1148.0 311.2 L1148.6 310.9 L1149.2 310.7 L1149.5 311.5 L1149.5 311.0 L1149.4 310.4 L1149.5 309.9 L1149.5 309.4 L1150.1 309.1 L1149.9 308.5 L1149.8 307.9 L1150.1 307.5 L1150.1 307.0 L1150.2 306.5 L1150.0 305.8 L1150.0 305.4 L1149.9 304.8 L1150.1 304.3 L1150.3 303.9 L1150.4 303.4 L1150.4 302.9 L1150.2 302.2 L1150.4 301.8 L1150.5 301.3 L1150.4 300.7 L1150.5 300.2 L1151.0 299.9 L1151.0 299.4 L1150.8 298.8 L1151.3 298.4 L1151.1 297.8 L1151.2 297.3 L1151.3 296.8 L1151.5 296.4 L1151.6 295.9 L1151.3 295.3 L1151.4 294.8 L1151.6 294.3 L1151.8 293.8 L1151.4 293.2 L1151.7 292.8 L1152.1 292.5 L1152.4 292.1 L1152.3 291.5 L1152.4 291.0 L1152.6 290.5 L1152.6 289.8 L1152.6 289.3 L1152.8 288.8 L1153.4 288.7 L1153.4 288.1 L1153.6 287.7 L1153.8 287.2 L1153.6 286.4 L1153.3 285.5 L1153.7 285.7 L1154.0 284.4 L1154.7 285.1 L1155.2 285.1 L1155.7 284.8 L1156.2 284.6 L1156.7 284.3 L1157.0 283.0 L1157.7 283.7 L1158.1 283.1 L1158.7 283.0 L1159.4 283.8 L1159.8 282.3 L1159.9 281.8 L1160.0 281.3 L1160.2 280.8 L1160.6 280.6 L1160.7 280.1 L1161.0 279.8 L1161.3 279.5 L1160.9 278.4 L1161.4 278.2 L1161.1 277.2 L1161.8 277.4 L1161.8 276.7 L1162.2 276.5 L1162.3 276.0 L1162.3 275.3 L1162.5 274.9 L1162.9 274.7 L1162.8 273.9 L1163.1 273.5 L1162.8 272.9 L1163.1 273.3 L1163.4 273.6 L1163.5 274.5 L1163.8 274.7 L1164.3 274.8 L1164.6 275.1 L1164.9 275.4 L1165.1 276.0 L1165.4 276.4 L1165.6 276.0 L1165.6 275.4 L1165.9 275.0 L1166.1 274.6 L1166.0 274.0 L1165.9 273.3 L1166.0 272.8 L1166.1 272.3 L1166.4 271.9 L1167.0 271.8 L1166.7 271.0 L1166.9 270.6 L1166.7 269.9 L1166.4 269.1 L1166.8 268.8 L1166.6 268.1 L1167.1 267.8 L1167.5 267.6 L1167.1 266.7 L1167.2 266.3 L1167.2 265.6 L1167.5 265.3 L1167.6 264.8 L1167.6 264.2 L1168.0 263.8 L1168.3 264.1 L1168.5 264.7 L1168.8 264.9 L1168.9 265.7 L1169.5 265.5 L1169.5 266.5 L1170.1 266.3 L1170.3 266.9 L1170.3 267.4 L1170.3 266.3 L1171.0 266.7 L1171.2 266.0 L1171.4 265.4 L1171.5 264.5 L1171.8 264.0 L1172.4 264.2 L1172.7 263.7 L1173.1 263.6 L1173.1 262.4 L1173.8 262.1 L1174.3 262.4 L1174.6 263.1 L1174.9 264.0 L1175.4 264.2 L1176.0 263.9 L1176.3 264.6 L1176.6 264.9 L1176.8 264.6 L1177.2 264.4 L1177.0 263.4 L1177.0 262.6 L1177.6 262.7 L1177.8 262.3 L1178.2 262.1 L1178.4 261.6 L1177.9 260.3 L1178.2 260.0 L1178.4 259.4 L1178.8 259.3 L1179.1 259.0 L1179.1 258.2 L1179.5 258.0 L1179.6 257.3 L1179.9 256.5 L1180.3 256.2 L1181.0 257.1 L1181.5 256.9 L1181.9 256.5 L1182.0 255.1 L1182.7 255.8 L1183.0 255.0 L1183.1 255.7 L1183.1 256.3 L1183.3 256.8 L1183.5 257.2 L1184.0 257.4 L1184.0 258.0 L1183.9 258.9 L1184.4 259.0 L1184.8 259.3 L1184.8 259.9 L1184.9 260.6 L1184.9 261.2 L1184.7 262.1 L1185.1 262.3 L1185.6 262.7 L1185.9 262.4 L1185.9 261.8 L1185.4 260.7 L1185.5 260.2 L1185.7 259.7 L1186.7 260.0 L1186.4 259.2 L1186.5 258.6 L1186.4 257.9 L1187.1 257.9 L1187.5 257.7 L1187.7 257.3 L1187.5 256.5 L1187.4 255.7 L1187.9 255.6 L1187.6 254.7 L1187.8 254.2 L1188.1 254.0 L1188.1 253.3 L1188.2 252.8 L1188.3 252.3 L1188.5 251.8 L1188.9 251.6 L1189.1 251.2 L1189.0 250.5 L1189.0 250.4 L1189.3 250.9 L1189.3 251.8 L1189.8 251.8 L1190.3 251.9 L1190.1 253.1 L1190.6 253.1 L1190.9 253.4 L1191.4 253.5 L1191.3 254.5 L1191.7 254.6 L1192.1 254.9 L1192.3 255.5 L1192.5 256.3 L1192.7 257.2 L1193.4 256.6 L1193.8 256.9 L1194.2 257.2 L1194.4 257.7 L1194.8 258.2 L1194.9 259.2 L1195.5 258.9 L1196.1 258.3 L1196.3 259.3 L1196.7 259.5 L1196.9 260.4 L1197.3 260.2 L1197.8 259.9 L1197.1 258.7 L1197.4 258.4 L1197.4 257.8 L1197.5 257.3 L1197.3 256.5 L1197.6 256.2 L1197.7 255.7 L1198.0 255.3 L1198.0 254.7 L1198.2 254.3 L1198.4 253.8 L1198.5 253.3 L1198.9 253.0 L1199.1 252.6 L1199.0 251.8 L1199.1 251.3 L1199.3 250.9 L1199.5 250.4 L1199.1 249.8 L1199.4 249.4 L1199.4 248.8 L1200.0 248.5 L1200.0 248.0 L1199.8 247.4 L1199.8 246.9 L1200.0 246.4 L1199.6 245.8 L1200.0 245.4 L1200.5 245.1 L1200.5 244.5 L1200.2 243.9 L1200.4 243.4 L1200.1 242.8 L1200.4 242.4 L1201.0 242.1 L1200.5 241.4 L1200.2 240.8 L1200.4 240.3 L1200.0 239.7 L1200.4 239.3 L1200.7 238.9 L1200.6 238.3 L1200.7 237.8 L1200.5 237.3 L1200.6 236.8 L1201.4 236.5 L1201.0 235.9 L1201.2 235.4 L1201.4 235.0 L1201.1 234.4 L1201.5 234.0 L1201.5 233.5 L1201.2 232.9 L1201.2 232.2 L1201.4 231.7 L1201.2 230.8 L1201.6 230.6 L1202.0 230.3 L1202.4 230.1 L1202.6 229.6 L1202.6 228.9 L1202.4 228.0 L1203.1 228.1 L1203.6 227.9 L1202.7 226.3 L1203.2 226.2 L1203.5 225.8 L1203.6 225.3 L1203.4 226.0 L1204.1 226.2 L1203.9 226.9 L1203.8 227.5 L1203.6 228.2 L1203.9 228.6 L1204.2 229.0 L1204.3 229.6 L1204.3 230.1 L1204.6 230.5 L1204.8 230.9 L1204.9 231.5 L1205.2 231.9 L1204.8 232.7 L1204.8 233.3 L1204.9 233.8 L1205.3 234.5 L1205.6 235.3 L1205.9 235.9 L1206.6 235.3 L1206.9 235.9 L1207.2 236.9 L1207.8 236.1 L1208.2 236.4 L1208.7 236.6 L1209.3 236.2 L1209.4 237.2 L1209.6 238.0 L1210.0 238.5 L1210.0 239.9 L1210.7 239.3 L1211.0 239.2 L1210.9 239.9 L1211.0 240.4 L1211.2 240.8 L1211.7 241.0 L1211.7 241.5 L1211.7 242.2 L1211.7 242.7 L1212.1 243.0 L1211.9 243.7 L1212.1 244.1 L1212.1 244.7 L1212.2 245.2 L1212.7 245.4 L1212.8 245.9 L1212.7 246.5 L1212.7 247.1 L1213.3 247.2 L1213.1 247.9 L1213.4 248.3 L1213.5 248.8 L1213.5 249.4 L1213.7 249.8 L1213.7 250.4 L1214.0 251.0 L1214.3 252.4 L1214.8 252.1 L1215.4 251.6 L1215.5 251.1 L1215.9 250.8 L1215.8 250.2 L1216.2 249.9 L1216.1 249.2 L1216.0 248.6 L1216.0 248.0 L1215.8 247.3 L1216.1 246.9 L1216.2 246.5 L1216.1 245.8 L1216.6 245.6 L1216.7 245.1 L1216.8 244.6 L1217.0 244.1 L1217.1 243.6 L1217.1 243.1 L1217.6 242.8 L1217.4 242.2 L1217.2 241.7 L1217.1 242.2 L1217.2 242.7 L1217.3 243.2 L1217.6 243.6 L1217.7 244.1 L1217.6 244.7 L1217.4 245.3 L1217.0 245.9 L1217.5 246.3 L1217.6 246.8 L1217.8 247.2 L1218.0 247.6 L1217.9 248.2 L1217.9 248.7 L1217.8 249.3 L1218.1 249.7 L1218.2 250.2 L1218.3 250.7 L1218.4 251.2 L1218.7 251.6 L1219.1 252.0 L1218.7 252.6 L1219.0 253.0 L1219.3 253.5 L1218.9 254.1 L1218.9 254.6 L1219.4 255.0 L1219.5 255.5 L1219.4 256.0 L1219.3 256.6 L1219.1 257.2 L1219.2 257.7 L1219.2 258.2 L1219.3 258.7 L1219.4 259.1 L1219.7 259.6 L1220.0 260.0 L1219.6 260.7 L1219.7 261.2 L1219.8 261.6 L1219.8 262.1 L1219.5 262.8 L1219.5 263.3 L1219.8 263.7 L1219.9 264.1 L1220.1 263.7 L1219.8 263.0 L1219.8 262.4 L1220.2 262.1 L1220.6 261.8 L1220.4 261.1 L1220.4 260.6 L1220.5 260.1 L1220.9 259.8 L1221.3 259.4 L1221.0 258.7 L1221.5 258.5 L1221.7 258.0 L1221.2 257.2 L1221.2 256.6 L1221.1 256.0 L1221.4 255.7 L1221.5 255.2 L1221.5 254.6 L1221.6 254.1 L1221.5 253.5 L1221.7 253.1 L1222.0 252.7 L1222.2 252.2 L1222.7 252.0 L1222.3 251.2 L1222.1 250.6 L1222.0 250.0 L1222.5 249.7 L1222.3 248.9 L1222.8 248.8 L1222.9 248.0 L1223.0 247.3 L1223.3 247.0 L1223.6 246.6 L1223.7 245.8 L1224.1 245.6 L1224.4 245.4 L1224.9 245.6 L1224.9 246.2 L1224.9 246.8 L1225.2 247.2 L1225.4 247.6 L1225.8 247.9 L1225.7 248.6 L1225.7 249.1 L1225.6 249.8 L1225.9 250.2 L1226.3 250.4 L1226.1 251.2 L1226.3 251.7 L1226.5 252.1 L1226.3 252.8 L1226.6 253.1 L1226.6 253.9 L1226.7 254.5 L1227.1 254.7 L1227.0 255.6 L1227.5 255.6 L1227.9 255.8 L1228.1 256.3 L1228.5 256.5 L1228.9 256.8 L1228.7 257.7 L1228.7 258.5 L1228.8 259.2 L1229.2 259.0 L1229.1 258.2 L1229.5 258.0 L1229.2 257.1 L1229.6 256.9 L1229.6 256.3 L1229.7 255.7 L1229.6 255.0 L1229.4 254.2 L1229.8 254.0 L1229.7 253.2 L1230.2 253.1 L1230.4 252.7 L1231.0 252.6 L1231.0 252.0 L1230.6 251.0 L1230.9 250.7 L1231.2 250.3 L1231.3 249.8 L1231.6 249.4 L1231.9 249.0 L1232.1 248.5 L1232.0 247.7 L1232.1 247.2 L1232.3 246.7 L1232.3 246.0 L1232.7 245.8 L1232.8 245.2 L1233.0 244.8 L1232.7 243.7 L1233.4 243.8 L1233.6 243.3 L1233.7 242.8 L1233.6 242.2 L1233.9 241.8 L1234.3 241.5 L1234.1 240.8 L1234.3 240.4 L1234.4 239.9 L1234.8 239.7 L1234.6 238.9 L1234.4 238.2 L1234.7 237.8 L1234.8 237.4 L1234.9 236.8 L1235.2 236.5 L1235.6 236.3 L1235.6 235.6 L1235.5 235.0 L1235.6 234.5 L1235.9 234.1 L1236.1 233.7 L1235.9 233.0 L1236.0 232.5 L1236.0 231.9 L1236.4 231.7 L1236.4 230.9 L1236.9 230.9 L1236.8 230.1 L1237.6 230.4 L1237.9 230.1 L1237.8 229.2 L1237.9 228.5 L1238.3 228.3 L1237.9 227.1 L1238.1 226.6 L1238.4 226.2 L1238.7 226.0 L1238.8 225.2 L1238.9 224.6 L1239.3 224.3 L1239.6 224.0 L1240.0 223.7 L1240.0 222.7 L1240.5 222.9 L1240.8 223.2 L1240.9 223.9 L1241.2 224.2 L1241.0 225.4 L1241.4 225.5 L1241.8 225.6 L1242.5 225.3 L1242.4 226.4 L1242.8 226.5 L1242.7 227.5 L1243.0 227.8 L1243.3 227.4 L1243.3 226.6 L1243.8 226.6 L1244.1 226.2 L1244.0 225.3 L1244.2 224.7 L1244.5 224.4 L1245.0 224.4 L1244.8 223.2 L1245.2 223.0 L1245.5 222.7 L1246.2 223.7 L1246.7 222.7 L1247.1 221.8 L1247.8 222.5 L1248.4 222.9 L1248.8 221.5 L1249.1 220.2 L1249.6 219.8 L1250.1 219.2 L1250.6 218.9 L1251.0 220.1 L1250.9 219.5 L1251.6 219.3 L1251.5 218.7 L1250.8 217.8 L1251.2 217.5 L1250.8 216.7 L1251.3 216.4 L1251.6 216.1 L1251.6 215.5 L1251.9 215.1 L1251.8 214.5 L1252.1 214.1 L1252.1 213.6 L1251.9 212.9 L1252.7 212.7 L1253.0 213.1 L1253.2 213.5 L1253.1 214.1 L1253.3 214.5 L1253.5 215.0 L1253.5 215.5 L1253.4 216.1 L1253.5 216.6 L1253.6 217.1 L1253.7 217.6 L1254.1 217.9 L1253.8 218.6 L1253.6 219.2 L1253.9 219.6 L1254.0 220.1 L1253.8 220.7 L1253.8 221.2 L1254.3 221.6 L1254.3 222.1 L1253.7 222.9 L1254.0 223.3 L1254.1 223.8 L1254.0 224.4 L1254.2 224.8 L1254.3 225.3 L1254.4 225.8 L1254.5 226.3 L1254.7 226.7 L1254.8 227.2 L1254.8 227.8 L1255.0 228.2 L1255.1 228.7 L1255.0 229.3 L1255.1 229.8 L1255.0 230.3 L1255.2 229.8 L1255.2 229.3 L1255.1 228.7 L1255.1 228.1 L1254.9 227.5 L1255.3 227.1 L1255.0 226.5 L1255.2 226.0 L1255.7 225.7 L1255.9 225.3 L1256.0 224.8 L1256.2 224.4 L1256.1 223.8 L1256.3 223.4 L1256.2 222.7 L1256.6 222.4 L1256.7 221.9 L1256.3 221.1 L1256.7 220.8 L1256.8 220.4 L1256.4 219.6 L1256.5 219.1 L1256.3 218.4 L1256.5 218.0 L1257.1 217.4 L1257.6 217.9 L1258.0 218.8 L1258.6 218.4 L1259.1 218.3 L1259.6 218.6 L1260.1 219.0 L1259.9 218.3 L1260.2 217.9 L1260.9 217.9 L1260.6 217.0 L1260.3 216.1 L1261.0 216.2 L1260.7 215.2 L1261.4 215.3 L1261.4 214.7 L1261.3 213.9 L1261.6 213.6 L1261.5 212.9 L1261.8 212.6 L1262.2 212.3 L1262.0 211.5 L1262.0 210.9 L1262.1 210.4 L1262.5 210.2 L1263.0 209.9 L1262.6 209.1 L1262.9 208.7 L1263.2 208.4 L1263.4 207.9 L1263.4 207.4 L1263.1 206.7 L1263.4 206.3 L1263.8 205.9 L1263.6 205.3 L1264.0 205.0 L1263.9 204.4 L1263.7 203.7 L1263.8 203.2 L1264.1 202.8 L1263.9 202.2 L1264.2 201.8 L1264.1 201.2 L1264.3 200.7 L1264.3 200.2 L1264.4 199.7 L1264.0 198.9 L1264.3 198.5 L1264.5 198.1 L1264.7 197.7 L1264.8 197.2 L1265.4 196.9 L1265.2 196.3 L1265.4 195.9 L1265.0 195.1 L1265.3 194.7 L1265.0 194.0 L1265.5 193.7 L1265.9 193.4 L1265.6 192.7 L1265.6 191.9 L1265.8 191.4 L1266.1 191.1 L1266.6 191.0 L1266.4 190.0 L1266.9 190.0 L1267.4 189.9 L1267.4 189.1 L1267.3 188.3 L1267.5 187.9 L1267.7 187.3 L1268.0 187.0 L1268.1 186.4 L1268.7 186.5 L1269.4 188.0 L1269.9 186.9 L1270.6 187.9 L1270.8 185.2 L1271.4 185.2 L1271.5 184.6 L1271.5 183.9 L1271.6 183.3 L1271.8 182.8 L1272.7 183.2 L1272.5 182.3 L1273.3 182.5 L1273.5 182.0 L1273.2 181.0 L1273.7 180.8 L1273.9 180.4 L1274.3 180.2 L1274.7 179.9 L1274.6 179.0 L1273.9 177.6 L1274.2 177.3 L1274.4 176.9 L1274.4 176.1 L1274.4 175.5 L1275.1 175.5 L1275.1 174.9 L1275.2 174.2 L1275.1 173.5 L1275.4 173.1 L1275.1 172.1 L1275.8 172.2 L1276.0 171.7 L1276.0 171.0 L1276.2 170.6 L1276.3 169.7 L1276.9 169.6 L1277.4 169.9 L1277.8 168.9 L1278.5 169.7 L1278.9 168.9 L1279.4 169.0 L1279.2 169.8 L1279.3 170.3 L1279.4 170.8 L1279.6 171.2 L1280.1 171.4 L1279.8 172.3 L1279.9 172.8 L1280.4 172.9 L1280.7 173.3 L1280.8 173.8 L1280.6 174.6 L1280.6 175.2 L1281.2 175.0 L1281.5 175.3 L1282.0 175.5 L1282.1 176.0 L1281.9 177.3 L1281.9 178.0 L1282.0 178.8 L1282.2 179.3 L1282.7 179.3 L1282.8 180.0 L1283.1 179.9 L1283.6 180.0 L1284.1 180.2 L1284.3 179.1 L1284.8 179.3 L1285.3 179.4 L1285.5 178.7 L1285.9 177.8 L1285.7 177.0 L1286.2 176.9 L1286.6 176.6 L1286.5 175.9 L1286.1 174.9 L1286.6 174.8 L1286.7 174.2 L1286.6 173.6 L1286.6 172.9 L1287.3 172.9 L1287.3 172.3 L1287.6 172.0 L1287.2 171.1 L1287.7 170.9 L1288.0 170.5 L1288.2 170.1 L1288.6 169.8 L1288.3 168.9 L1288.8 168.6 L1288.4 167.8 L1289.0 167.6 L1288.7 166.9 L1288.9 166.4 L1289.0 165.9 L1288.8 165.2 L1288.2 164.3 L1288.6 163.9 L1289.0 163.6 L1289.1 163.1 L1288.6 162.2 L1288.7 161.7 L1289.2 161.4 L1290.0 161.3 L1289.8 160.5 L1290.6 160.2 L1290.6 160.9 L1290.8 161.5 L1290.8 162.2 L1290.3 163.6 L1290.4 164.1 L1290.7 164.6 L1291.0 164.9 L1291.5 165.2 L1291.9 164.8 L1292.2 163.8 L1292.3 161.7 L1293.2 163.9 L1293.4 164.4 L1293.7 164.7 L1293.8 165.4 L1294.5 165.1 L1294.4 165.9 L1294.8 166.3 L1295.1 166.5 L1294.9 167.7 L1295.3 167.8 L1295.4 168.6 L1295.8 168.8 L1296.0 169.2 L1296.0 169.8 L1296.4 170.2 L1296.8 170.5 L1297.1 170.8 L1296.9 171.5 L1297.1 172.0 L1296.8 172.7 L1296.7 173.4 L1296.8 173.9 L1296.7 174.5 L1297.3 174.7 L1297.3 175.3 L1297.4 175.8 L1296.9 176.7 L1297.0 177.2 L1297.3 177.5 L1297.0 178.3 L1297.0 178.9 L1297.7 179.0 L1297.5 179.7 L1297.8 180.1 L1297.9 180.6 L1298.3 180.8 L1298.5 181.2 L1298.8 181.5 L1299.1 181.9 L1299.2 182.4 L1298.7 183.6 L1299.3 183.6 L1299.4 184.1 L1299.2 185.1 L1299.0 185.9 L1299.3 186.2 L1299.8 186.9 L1300.3 186.6 L1300.7 185.8 L1301.1 184.7 L1301.8 185.8 L1302.0 185.6 L1302.4 185.9 L1302.6 186.4 L1302.9 186.8 L1302.7 188.4 L1303.1 188.4 L1303.4 188.8 L1303.7 189.1 L1304.4 188.7 L1304.7 188.9 L1305.0 189.3 L1305.3 189.7 L1305.4 190.3 L1305.0 191.0 L1304.8 191.6 L1304.8 192.1 L1304.9 192.6 L1305.0 193.1 L1305.5 193.4 L1305.4 194.0 L1306.0 194.3 L1305.5 195.0 L1305.9 195.4 L1305.6 196.1 L1306.2 196.4 L1306.0 197.0 L1306.1 197.5 L1306.5 197.8 L1306.1 198.5 L1305.6 199.3 L1306.0 199.7 L1305.6 200.4 L1306.4 200.6 L1306.1 201.2 L1306.3 201.7 L1305.6 202.5 L1306.3 202.8 L1306.6 203.2 L1306.9 203.6 L1307.1 204.0 L1306.8 204.7 L1307.0 205.1 L1307.0 205.7 L1306.7 206.4 L1306.9 206.8 L1307.4 207.1 L1307.3 207.7 L1307.5 208.2 L1307.8 208.6 L1307.9 209.1 L1307.7 209.7 L1308.1 210.1 L1308.0 210.7 L1308.0 211.2 L1307.8 211.8 L1307.7 212.4 L1307.7 213.0 L1307.9 213.4 L1308.2 213.8 L1308.1 214.4 L1308.1 214.9 L1308.4 215.3 L1308.7 215.8 L1308.6 216.3 L1309.0 216.7 L1308.7 217.3 L1308.7 217.9 L1308.6 218.5 L1308.7 219.0 L1309.3 219.3 L1309.1 219.9 L1308.9 220.5 L1309.3 220.8 L1309.1 221.6 L1309.2 221.0 L1309.1 219.7 L1309.6 219.7 L1309.7 218.8 L1310.0 218.6 L1310.4 218.3 L1310.6 217.8 L1311.0 217.6 L1311.4 217.7 L1311.5 217.1 L1311.8 216.7 L1312.1 216.3 L1311.9 215.4 L1311.9 214.7 L1312.6 214.8 L1312.6 214.1 L1313.3 214.2 L1313.1 213.2 L1313.3 212.7 L1313.6 213.4 L1313.8 214.2 L1314.2 214.2 L1314.8 213.7 L1315.4 213.3 L1315.4 215.2 L1315.8 215.3 L1315.8 215.8 L1316.3 216.1 L1316.4 216.6 L1316.1 217.3 L1316.0 217.9 L1316.3 218.3 L1316.2 218.9 L1316.2 219.4 L1316.8 219.6 L1316.9 220.1 L1316.4 220.9 L1316.6 221.3 L1316.8 221.8 L1316.9 222.3 L1317.0 222.8 L1317.1 223.3 L1317.2 223.8 L1316.9 224.5 L1317.2 224.9 L1317.4 225.3 L1317.0 226.0 L1317.3 226.4 L1317.5 226.9 L1318.4 226.9 L1318.0 227.2 L1318.9 226.3 L1318.5 228.3 L1318.8 228.6 L1319.3 228.7 L1319.1 230.0 L1319.5 230.3 L1320.1 229.9 L1320.2 230.7 L1320.4 231.5 L1320.4 232.1 L1320.3 232.6 L1320.2 233.2 L1320.2 233.7 L1320.6 234.1 L1320.4 234.7 L1321.2 235.0 L1320.4 235.7 L1321.0 236.1 L1320.6 236.7 L1320.7 237.2 L1321.0 237.7 L1320.7 238.3 L1320.9 238.7 L1320.6 239.3 L1321.3 239.7 L1321.5 240.1 L1321.3 240.7 L1321.2 241.3 L1321.9 241.6 L1321.5 242.2 L1321.4 242.8 L1321.2 243.4 L1321.4 243.8 L1321.1 244.5 L1321.5 244.8 L1321.8 245.5 L1322.1 245.1 L1321.8 244.4 L1321.9 243.9 L1322.4 243.6 L1322.1 242.9 L1322.1 242.4 L1322.4 242.0 L1322.2 241.3 L1322.1 240.7 L1322.4 240.3 L1323.0 240.1 L1322.6 239.4 L1322.9 239.0 L1322.8 238.4 L1322.9 237.9 L1322.9 237.4 L1323.3 237.0 L1323.2 236.4 L1323.2 235.9 L1323.4 235.4 L1323.0 234.7 L1323.0 234.1 L1323.2 233.7 L1323.6 233.3 L1323.6 232.8 L1324.1 232.5 L1324.0 231.9 L1324.1 231.4 L1323.9 230.8 L1324.1 230.3 L1324.1 230.8 L1324.0 231.4 L1323.9 231.9 L1324.2 232.4 L1324.1 232.9 L1324.2 233.4 L1324.7 233.7 L1324.4 234.4 L1324.5 234.9 L1324.6 235.4 L1325.1 235.7 L1325.0 236.3 L1325.0 236.8 L1324.9 237.3 L1324.9 237.8 L1325.4 238.2 L1325.4 238.7 L1325.6 239.2 L1325.3 239.8 L1325.5 240.2 L1325.3 240.8 L1325.6 241.2 L1325.4 241.9 L1325.6 242.3 L1326.1 242.6 L1326.2 243.1 L1326.1 243.7 L1325.8 244.3 L1325.8 244.9 L1325.9 245.5 L1326.0 244.9 L1326.3 244.5 L1326.5 244.1 L1326.4 243.2 L1326.8 243.0 L1327.6 243.2 L1327.5 242.4 L1327.6 241.8 L1327.7 241.2 L1328.1 241.0 L1328.1 240.2 L1327.8 239.2 L1328.5 239.0 L1328.8 239.4 L1329.2 239.7 L1328.9 240.5 L1329.2 240.8 L1328.7 241.7 L1329.1 242.0 L1329.2 242.6 L1329.2 243.1 L1329.7 243.4 L1329.8 243.9 L1329.4 244.7 L1329.3 245.3 L1329.1 246.0 L1329.8 246.2 L1329.7 246.8 L1329.7 247.3 L1330.2 247.6 L1330.0 248.3 L1330.0 248.9 L1330.2 249.3 L1330.0 250.0 L1330.3 250.4 L1330.2 249.5 L1330.6 249.4 L1330.6 248.6 L1331.0 248.3 L1331.5 248.2 L1331.6 247.7 L1331.7 247.0 L1331.9 246.6 L1332.1 246.1 L1332.3 245.6 L1332.4 245.1 L1332.3 244.3 L1332.7 244.1 L1332.5 243.2 L1332.7 242.9 L1333.1 243.2 L1332.9 243.9 L1333.1 244.4 L1333.4 244.8 L1333.6 245.1 L1333.9 245.6 L1334.5 245.8 L1334.4 246.4 L1334.0 247.1 L1333.9 247.7 L1334.0 248.3 L1334.2 248.7 L1333.9 249.4 L1333.9 249.9 L1334.1 250.4 L1333.9 251.1 L1334.4 251.3 L1334.8 251.6 L1334.6 252.3 L1334.8 252.7 L1334.8 253.3 L1334.9 253.8 L1334.7 254.4 L1335.0 254.8 L1334.8 255.5 L1335.5 255.6 L1335.1 256.4 L1335.5 256.7 L1335.4 257.3 L1335.3 257.9 L1335.2 257.1 L1335.6 256.9 L1335.6 256.2 L1336.1 256.1 L1336.5 255.9 L1336.5 255.2 L1336.5 254.7 L1336.4 253.9 L1336.6 253.5 L1337.0 253.3 L1336.7 252.3 L1337.1 252.1 L1337.4 251.8 L1337.6 251.3 L1337.7 250.9 L1338.0 250.5 L1338.4 250.2 L1337.8 249.5 L1338.3 249.9 L1338.9 249.6 L1339.4 249.5 L1339.8 250.7 L1340.4 250.4 L1340.9 250.3 L1341.0 249.7 L1341.1 248.9 L1341.1 248.0 L1341.5 247.8 L1341.6 247.1 L1341.9 246.6 L1342.5 246.6 L1342.8 247.0 L1343.1 247.4 L1342.9 248.0 L1343.0 248.5 L1342.7 249.1 L1343.0 249.5 L1342.4 250.2 L1342.4 250.7 L1342.7 251.2 L1342.5 251.7 L1342.7 252.2 L1342.6 252.7 L1342.5 253.3 L1342.6 253.8 L1342.7 254.2 L1342.7 254.7 L1343.5 255.0 L1343.3 255.6 L1343.2 256.1 L1343.0 256.7 L1343.2 257.2 L1343.1 257.7 L1342.9 258.3 L1343.6 258.6 L1343.2 259.2 L1343.2 259.7 L1343.3 260.2 L1343.5 260.7 L1343.4 261.2 L1343.5 261.7 L1343.3 262.3 L1343.3 262.8 L1343.4 263.2 L1343.7 263.7 L1343.7 264.2 L1343.8 264.7 L1343.9 265.1 L1343.6 265.7 L1344.1 266.1 L1343.9 266.7 L1344.2 267.1 L1343.7 267.7 L1343.8 268.2 L1344.0 268.7 L1344.3 269.1 L1344.3 269.6 L1344.6 270.1 L1344.6 270.6 L1344.5 271.1 L1344.7 271.6 L1344.7 272.1 L1344.4 272.7 L1344.6 273.1 L1344.4 273.7 L1344.4 274.2 L1344.5 274.7 L1344.9 275.1 L1344.6 275.7 L1344.7 276.2 L1345.1 276.6 L1344.9 277.2 L1345.0 277.6 L1345.0 278.1 L1345.2 278.6 L1345.0 279.2 L1344.8 279.7 L1344.9 280.2 L1345.1 280.7 L1345.4 281.1 L1345.0 281.7 L1345.3 282.2 L1345.5 282.8 L1345.6 282.3 L1345.4 281.3 L1345.7 281.0 L1346.0 280.7 L1346.0 280.1 L1346.2 279.7 L1346.2 279.0 L1346.5 278.6 L1347.1 278.6 L1347.0 277.9 L1347.1 277.4 L1347.3 276.9 L1347.4 276.4 L1347.5 276.9 L1347.6 277.4 L1347.6 277.9 L1347.6 278.4 L1347.6 278.9 L1348.1 279.3 L1347.9 279.9 L1347.7 280.4 L1347.9 280.9 L1347.8 281.4 L1347.8 281.9 L1347.8 282.5 L1347.9 283.0 L1347.6 283.5 L1347.7 284.0 L1347.7 284.5 L1348.2 285.0 L1348.0 285.5 L1348.3 286.0 L1348.4 286.5 L1347.9 287.1 L1348.1 287.6 L1348.5 288.0 L1348.4 288.5 L1348.4 289.0 L1348.3 289.6 L1348.4 290.1 L1348.4 290.6 L1348.3 291.1 L1348.5 291.6 L1348.9 292.0 L1348.6 292.6 L1349.1 293.0 L1349.0 293.5 L1348.9 294.1 L1349.4 294.5 L1349.3 295.0 L1349.3 295.5 L1349.2 296.1 L1349.2 296.6 L1349.2 297.1 L1349.2 297.6 L1349.4 298.1 L1348.8 298.7 L1348.7 299.3 L1348.9 299.8 L1349.1 300.2 L1349.3 299.8 L1349.3 299.1 L1349.7 298.8 L1349.9 298.4 L1349.8 297.7 L1350.2 297.5 L1349.9 296.6 L1350.0 296.1 L1350.4 295.8 L1350.7 295.4 L1350.9 295.0 L1350.9 294.4 L1351.2 294.0 L1351.2 293.4 L1351.3 292.9 L1351.7 292.7 L1351.5 291.9 L1351.4 291.2 L1351.5 290.7 L1351.6 289.9 L1352.0 289.6 L1352.6 289.7 L1353.0 289.1 L1353.3 288.8 L1353.0 288.1 L1353.3 287.7 L1353.8 287.5 L1353.5 286.7 L1353.9 286.4 L1354.0 285.9 L1354.0 285.3 L1354.2 284.9 L1354.6 284.7 L1354.6 284.1 L1354.5 283.4 L1354.7 283.0 L1355.2 282.8 L1355.0 282.1 L1354.9 281.4 L1355.0 281.0 L1355.3 280.6 L1355.2 280.0 L1355.0 279.2 L1355.3 278.9 L1355.5 278.5 L1355.6 278.0 L1355.9 277.7 L1356.1 278.1 L1355.8 278.7 L1355.8 279.3 L1356.4 279.6 L1356.5 280.1 L1356.5 280.6 L1356.5 281.1 L1356.3 281.7 L1356.6 282.2 L1356.5 282.8 L1356.4 283.3 L1356.4 283.9 L1356.3 284.4 L1356.6 284.8 L1356.7 285.3 L1356.5 286.0 L1356.9 286.3 L1357.0 286.8 L1356.9 287.4 L1357.2 287.8 L1357.3 288.3 L1357.1 288.9 L1357.1 289.5 L1357.2 290.0 L1357.2 290.5 L1357.1 291.1 L1357.3 291.5 L1357.4 292.0 L1357.5 292.5 L1357.8 292.9 L1357.7 293.5 L1357.8 294.0 L1357.9 294.6 L1357.8 295.2 L1358.3 295.4 L1358.1 296.1 L1358.5 296.3 L1358.5 297.0 L1358.7 297.3 L1359.1 297.6 L1359.2 298.2 L1359.1 298.8 L1359.1 299.4 L1358.9 300.0 L1359.2 300.5 L1359.8 300.6 L1359.9 301.1 L1359.6 301.9 L1360.0 302.1 L1359.6 303.0 L1359.8 303.4 L1360.1 303.7 L1360.0 304.4 L1360.2 304.8 L1360.6 305.4 L1360.7 304.9 L1360.8 304.1 L1360.8 303.4 L1361.3 303.3 L1361.5 302.7 L1361.4 301.8 L1362.1 302.2 L1362.5 301.9 L1362.9 301.8 L1363.2 301.4 L1362.8 300.3 L1362.7 301.0 L1363.0 301.4 L1363.4 301.7 L1363.6 302.1 L1363.8 302.6 L1363.7 303.3 L1364.0 303.6 L1363.7 304.5 L1364.3 304.6 L1364.1 305.4 L1364.0 306.1 L1364.2 306.5 L1364.3 307.1 L1364.7 307.4 L1365.0 307.7 L1365.1 308.2 L1365.3 308.6 L1365.1 309.3 L1365.1 309.9 L1365.3 310.3 L1365.3 310.8 L1365.4 311.3 L1365.4 311.9 L1365.1 312.6 L1365.6 312.9 L1365.7 313.4 L1366.0 313.8 L1366.2 314.2 L1366.0 314.8 L1366.2 315.3 L1366.5 315.7 L1366.5 316.2 L1366.4 316.8 L1366.7 317.2 L1366.6 317.7 L1366.8 317.3 L1367.0 316.8 L1367.1 316.3 L1366.6 315.6 L1366.5 315.0 L1366.8 314.6 L1366.7 314.0 L1366.8 313.6 L1367.3 313.2 L1367.1 312.6 L1366.9 312.0 L1367.0 311.5 L1366.8 310.9 L1367.1 310.5 L1367.6 310.1 L1367.7 309.7 L1367.3 309.0 L1367.3 308.4 L1367.7 308.0 L1367.9 307.6 L1367.9 307.1 L1367.9 306.5 L1367.8 306.0 L1367.7 305.4 L1368.0 305.0 L1368.1 304.5 L1368.3 304.1 L1368.0 303.4 L1368.3 303.0 L1368.2 302.4 L1368.1 301.8 L1368.2 301.4 L1368.5 300.9 L1368.3 300.3 L1368.6 299.9 L1368.5 299.4 L1368.8 298.9 L1369.0 298.5 L1368.5 297.8 L1368.9 297.4 L1369.0 296.9 L1369.1 296.4 L1369.1 295.8 L1369.4 295.4 L1369.7 295.1 L1369.6 294.5 L1369.6 293.8 L1369.8 293.4 L1369.7 292.8 L1369.8 292.3 L1369.8 291.7 L1370.1 291.4 L1370.1 290.8 L1370.3 290.4 L1370.4 289.9 L1370.7 289.5 L1370.7 289.0 L1370.8 288.5 L1371.2 288.2 L1371.5 287.8 L1371.6 287.4 L1371.7 286.8 L1371.4 286.0 L1371.8 285.8 L1371.7 285.1 L1371.8 285.8 L1372.3 285.9 L1372.1 286.9 L1372.7 286.9 L1372.5 287.8 L1372.5 288.6 L1372.8 288.9 L1372.9 289.6 L1373.4 289.6 L1373.5 290.1 L1373.9 290.5 L1373.9 291.2 L1374.3 291.3 L1374.8 291.2 L1374.9 292.4 L1375.3 292.4 L1375.6 292.9 L1376.1 293.0 L1376.7 292.7 L1376.8 293.9 L1377.0 294.3 L1377.3 294.7 L1377.4 295.4 L1377.7 295.7 L1378.3 295.5 L1378.7 295.8 L1378.6 296.6 L1378.6 297.5 L1379.1 297.6 L1379.6 297.6 L1379.0 298.4 L1379.3 297.8 L1379.8 297.9 L1380.2 297.7 L1380.4 297.0 L1380.7 296.6 L1381.1 296.3 L1381.4 295.9 L1381.8 295.6 L1382.2 295.6 L1382.6 295.3 L1382.5 293.9 L1383.0 293.9 L1383.1 294.5 L1383.2 295.2 L1383.2 295.9 L1383.8 295.9 L1384.2 296.0 L1384.3 296.6 L1384.6 297.0 L1384.5 297.9 L1384.6 298.4 L1384.8 299.0 L1385.3 299.1 L1385.1 300.0 L1385.6 300.2 L1385.6 300.7 L1385.8 301.2 L1386.1 301.6 L1385.9 302.2 L1385.5 302.8 L1385.4 303.3 L1386.0 303.7 L1386.0 304.2 L1386.0 304.7 L1385.9 305.2 L1385.8 305.7 L1385.8 306.3 L1386.2 306.7 L1385.7 307.3 L1385.9 307.8 L1385.8 308.3 L1385.9 308.8 L1386.0 309.3 L1385.8 309.8 L1385.9 310.3 L1385.8 310.9 L1386.1 311.3 L1385.9 311.9 L1386.0 312.4 L1386.2 312.8 L1386.3 313.3 L1386.6 313.7 L1386.5 314.3 L1386.4 314.8 L1386.8 315.2 L1387.1 315.7 L1386.9 316.2 L1386.8 316.7 L1386.7 317.3 L1386.8 317.6 L1387.3 317.7 L1387.7 316.6 L1388.2 316.6 L1388.8 317.0 L1389.3 317.3 L1389.3 316.7 L1389.4 316.2 L1389.1 315.6 L1389.5 315.2 L1389.9 314.8 L1389.8 314.2 L1389.7 313.7 L1389.6 313.1 L1389.5 312.5 L1389.6 312.0 L1389.8 311.5 L1389.4 310.8 L1389.8 310.5 L1389.9 310.0 L1390.2 309.6 L1390.3 309.1 L1390.4 308.5 L1390.4 308.0 L1390.7 307.6 L1390.6 307.0 L1390.8 306.6 L1390.8 306.0 L1390.9 305.5 L1390.7 304.9 L1391.0 304.5 L1391.0 304.2 L1391.4 304.4 L1391.5 305.3 L1391.9 305.6 L1392.1 306.4 L1392.6 306.4 L1393.2 306.6 L1393.9 306.3 L1393.6 305.7 L1393.3 304.9 L1393.3 304.4 L1393.7 304.1 L1394.0 303.7 L1393.6 302.9 L1393.8 302.5 L1393.6 301.8 L1393.4 301.2 L1393.8 300.8 L1393.6 300.2 L1394.0 299.8 L1394.1 299.3 L1394.1 298.8 L1394.0 298.2 L1394.0 297.6 L1393.9 297.1 L1394.1 296.6 L1394.4 296.2 L1394.4 295.6 L1394.5 295.1 L1394.7 294.7 L1394.8 294.2 L1395.0 293.7 L1394.9 293.1 L1394.9 292.5 L1394.6 291.8 L1395.0 291.5 L1395.5 291.2 L1395.4 290.6 L1395.6 290.1 L1395.4 289.4 L1396.0 289.2 L1395.8 288.5 L1395.9 288.0 L1395.8 287.3 L1395.8 286.7 L1396.0 286.3 L1396.4 286.0 L1396.6 285.5 L1397.0 285.2 L1396.8 284.5 L1396.9 284.0 L1397.1 283.5 L1397.1 282.9 L1397.2 282.4 L1397.1 281.8 L1397.5 281.5 L1397.4 280.9 L1397.1 280.1 L1397.5 279.8 L1397.5 279.3 L1397.9 279.0 L1398.1 278.5 L1398.0 277.8 L1398.1 277.4 L1398.4 277.0 L1398.5 276.5 L1398.7 276.1 L1398.5 275.4 L1398.8 275.0 L1398.8 274.4 L1398.8 273.9 L1398.6 273.1 L1399.0 272.9 L1398.6 272.0 L1398.9 271.6 L1399.3 271.4 L1399.6 270.3 L1400.2 270.5 L1400.7 270.1 L1401.2 269.5 L1401.2 270.2 L1401.8 270.2 L1401.4 271.1 L1401.4 271.8 L1401.7 272.2 L1402.1 272.4 L1402.1 273.0 L1402.2 273.6 L1402.3 274.1 L1402.4 274.7 L1402.3 275.3 L1403.0 275.3 L1402.8 276.1 L1402.9 276.7 L1403.2 277.0 L1403.8 277.1 L1403.2 278.3 L1403.4 278.7 L1403.3 279.4 L1403.5 279.8 L1403.9 280.1 L1403.6 280.9 L1404.0 281.2 L1404.2 281.6 L1405.0 281.5 L1404.7 282.3 L1404.8 282.9 L1404.6 283.7 L1404.5 284.3 L1405.1 284.4 L1405.1 285.0 L1405.0 285.8 L1405.3 286.1 L1405.6 286.7 L1406.2 287.0 L1406.7 286.4 L1406.9 284.6 L1407.4 284.0 L1407.9 285.1 L1407.9 284.5 L1407.8 283.9 L1408.0 283.4 L1407.8 282.7 L1408.0 282.3 L1408.1 281.8 L1408.9 281.7 L1409.0 281.2 L1408.9 280.6 L1408.6 279.9 L1408.9 279.5 L1409.1 279.1 L1408.9 278.4 L1409.2 278.0 L1409.5 277.7 L1408.9 276.8 L1409.3 276.4 L1409.6 276.1 L1409.3 275.3 L1410.1 275.0 L1410.3 275.5 L1410.0 276.1 L1409.8 276.7 L1410.5 277.0 L1410.5 277.5 L1410.1 278.1 L1410.6 278.5 L1410.5 279.0 L1410.6 279.5 L1410.6 280.0 L1410.1 280.7 L1410.5 281.1 L1410.7 281.6 L1410.8 282.1 L1410.8 282.6 L1410.8 283.1 L1411.0 283.6 L1410.8 284.1 L1411.1 284.6 L1410.6 285.3 L1410.8 285.7 L1410.8 286.2 L1411.0 286.7 L1411.2 287.1 L1411.1 287.7 L1411.5 287.9 L1411.5 288.9 L1412.0 289.0 L1412.3 289.4 L1412.4 290.2 L1413.0 289.8 L1413.1 290.6 L1413.7 290.8 L1414.0 290.1 L1414.4 289.7"/></defs>
<use href="#s0" stroke="#96381e" stroke-width="5.2" stroke-opacity="0.38"/>
<use href="#s0" stroke="#96381e" stroke-width="3.5"/>
<defs><path id="s1" d="M105.5 514.6 L106.0 514.3 L106.5 513.8 L107.0 514.3 L107.5 514.4 L108.0 514.2 L108.5 513.8 L109.0 513.5 L109.5 514.0 L110.0 514.1 L110.6 513.9 L111.1 513.7 L111.6 513.3 L112.2 513.8 L112.7 513.4 L113.3 513.6 L113.8 512.9 L114.1 513.2 L114.2 514.0 L114.7 514.0 L114.9 514.6 L115.3 514.9 L115.5 515.4 L115.8 515.9 L116.0 516.6 L116.3 516.8 L116.6 517.2 L116.9 517.6 L117.3 518.0 L117.5 518.4 L118.0 518.5 L118.2 519.3 L118.6 519.4 L119.0 519.8 L119.2 520.6 L119.5 521.1 L120.2 521.1 L120.5 520.7 L120.7 519.9 L121.2 520.1 L121.5 519.4 L122.0 519.5 L122.3 518.9 L122.4 517.8 L122.8 517.6 L123.1 517.2 L123.5 517.0 L123.9 516.7 L124.1 515.7 L124.6 515.6 L125.1 515.6 L125.5 515.0 L125.8 514.2 L126.2 514.0 L126.9 514.4 L127.3 514.1 L127.6 513.4 L128.1 513.0 L128.7 512.7 L129.1 513.6 L129.6 514.3 L130.1 514.3 L130.5 514.9 L131.1 514.9 L131.6 514.3 L132.1 514.4 L132.6 514.8 L133.1 514.7 L133.6 515.5 L134.1 515.2 L134.6 515.6 L135.1 515.4 L135.6 515.3 L136.1 515.4 L136.7 515.0 L137.2 515.3 L137.6 515.8 L138.1 515.6 L138.6 515.8 L139.1 515.4 L139.6 515.9 L140.1 515.9 L140.6 515.3 L141.1 515.0 L141.6 515.2 L142.1 515.1 L142.6 515.2 L143.2 515.3 L143.7 515.7 L144.1 514.7 L144.7 515.2 L145.2 515.1 L145.6 514.3 L146.1 514.2 L146.6 514.0 L147.1 513.6 L147.7 513.7 L148.3 513.3 L148.6 514.1 L149.1 514.1 L149.5 514.9 L150.0 515.1 L150.4 515.2 L150.8 515.8 L151.3 515.9 L151.7 516.3 L152.2 516.2 L152.7 516.4 L153.2 517.0 L153.6 517.4 L154.1 517.5 L154.6 518.2 L155.1 517.9 L155.7 517.9 L156.2 517.7 L156.8 517.3 L157.2 517.9 L157.7 518.2 L158.2 518.1 L158.7 517.9 L159.2 518.8 L159.7 518.2 L160.2 518.4 L160.7 519.0 L161.2 518.7 L161.7 518.1 L162.2 518.5 L162.7 519.1 L163.2 519.4 L163.7 519.8 L164.2 519.2 L164.7 519.6 L165.2 519.3 L165.7 519.8 L166.2 519.8 L166.7 520.2 L167.2 519.9 L167.7 519.8 L168.2 520.3 L168.7 520.5 L169.2 520.6 L169.7 520.7 L170.2 521.1 L170.8 520.7 L171.3 520.6 L171.8 521.0 L172.3 521.1 L172.8 521.4 L173.2 521.7 L173.6 522.0 L174.1 522.3 L174.4 522.9 L174.9 522.7 L175.3 523.5 L175.6 524.1 L176.1 524.0 L176.6 524.1 L177.1 524.1 L177.4 524.7 L177.8 525.3 L178.3 525.6 L178.7 526.5 L179.3 526.1 L179.7 526.4 L180.2 526.7 L180.8 526.5 L181.3 526.6 L181.7 527.3 L182.3 527.4 L182.8 527.6 L183.3 527.7 L183.8 528.1 L184.4 528.7 L184.9 527.9 L185.5 527.8 L186.0 527.1 L186.5 527.7 L187.0 527.5 L187.5 527.7 L188.0 527.2 L188.4 526.9 L189.0 527.0 L189.4 526.7 L189.8 525.8 L190.3 525.8 L190.8 525.6 L191.3 525.3 L191.8 525.6 L192.3 525.9 L192.9 525.9 L193.3 524.9 L193.8 524.7 L194.3 525.1 L194.8 525.3 L195.3 524.9 L195.9 525.0 L196.4 524.7 L196.8 524.1 L197.4 524.5 L197.9 524.2 L198.3 523.6 L198.8 523.5 L199.3 523.3 L199.9 523.6 L200.4 523.0 L200.9 523.1 L201.3 522.6 L201.8 522.5 L202.2 521.9 L202.6 521.3 L203.1 521.2 L203.5 520.7 L204.0 520.5 L204.4 520.3 L204.9 520.0 L205.3 519.8 L205.5 519.0 L205.8 518.7 L206.2 518.4 L206.5 518.1 L206.8 517.7 L207.1 517.2 L207.2 516.5 L207.6 516.2 L207.9 515.9 L208.3 515.7 L208.6 515.2 L208.9 514.9 L209.2 514.6 L209.6 514.3 L209.9 513.9 L210.3 513.8 L210.4 512.9 L210.9 512.6 L211.3 511.9 L211.9 512.7 L212.4 512.4 L212.9 512.1 L213.4 511.9 L213.9 511.7 L214.4 511.1 L214.9 511.2 L215.4 510.9 L215.9 510.8 L216.4 511.2 L216.9 510.5 L217.4 510.5 L217.9 510.9 L218.4 511.6 L218.9 511.4 L219.5 510.4 L219.9 510.8 L220.4 511.5 L220.9 511.5 L221.4 511.3 L221.9 511.2 L222.4 511.0 L222.9 511.0 L223.4 510.9 L224.0 511.7 L224.5 511.3 L224.9 510.7 L225.5 510.5 L226.0 510.7 L226.5 510.4 L226.9 509.8 L227.3 509.7 L227.7 508.8 L228.1 508.6 L228.6 508.1 L229.1 508.0 L229.5 507.8 L230.0 507.8 L230.5 507.6 L231.0 507.5 L231.5 507.4 L232.0 507.2 L232.4 506.9 L233.0 507.0 L233.5 506.9 L234.0 507.1 L234.5 506.9 L235.0 506.6 L235.5 506.5 L236.0 506.8 L236.5 506.6 L237.0 506.3 L237.5 506.0 L238.0 506.3 L238.5 507.0 L239.0 507.2 L239.5 507.6 L240.0 507.9 L240.5 507.9 L241.0 508.0 L241.5 508.3 L242.0 508.7 L242.5 508.9 L243.0 508.5 L243.5 508.6 L244.0 509.0 L244.6 508.7 L245.0 509.2 L245.5 509.6 L246.0 509.4 L246.5 510.0 L247.0 510.2 L247.5 510.3 L248.0 510.0 L248.5 509.9 L249.1 509.3 L249.6 509.8 L250.0 510.2 L250.5 511.0 L251.0 511.4 L251.6 510.6 L252.0 511.0 L252.5 511.4 L253.0 511.3 L253.5 511.5 L254.0 511.7 L254.5 512.5 L255.0 512.3 L255.5 512.3 L256.0 512.1 L256.5 512.2 L257.1 512.6 L257.6 512.3 L258.0 511.9 L258.5 511.2 L259.0 510.8 L259.5 511.1 L260.0 510.8 L260.6 511.5 L261.1 511.5 L261.6 511.7 L262.1 511.4 L262.6 511.4 L263.1 511.9 L263.6 511.6 L264.1 511.2 L264.6 511.7 L265.1 511.7 L265.6 512.2 L266.1 512.3 L266.5 511.5 L267.0 511.5 L267.6 511.6 L268.1 511.3 L268.5 511.0 L269.1 511.4 L269.5 510.4 L270.0 510.2 L270.6 510.7 L271.0 510.3 L271.4 510.3 L271.8 509.8 L272.2 509.4 L272.5 508.7 L273.1 508.9 L273.4 508.5 L273.8 508.0 L274.2 507.6 L274.7 507.6 L275.1 507.3 L275.5 507.0 L276.0 506.9 L276.5 506.5 L277.0 506.6 L277.4 506.1 L277.8 505.5 L278.2 505.0 L278.8 505.0 L279.2 504.9 L279.7 504.7 L280.2 504.5 L280.6 503.9 L281.1 503.9 L281.6 503.2 L282.1 502.9 L282.6 503.4 L283.1 503.1 L283.6 502.8 L284.0 502.0 L284.6 502.5 L285.1 502.4 L285.6 502.3 L286.1 502.2 L286.7 502.4 L287.2 502.6 L287.6 501.7 L288.1 501.4 L288.7 501.7 L289.1 500.2 L289.6 500.6 L290.1 500.8 L290.7 500.6 L291.1 500.1 L291.7 500.7 L292.1 500.2 L292.7 500.8 L293.2 500.4 L293.6 499.8 L294.2 500.4 L294.7 500.2 L295.2 500.2 L295.7 500.1 L296.2 499.6 L296.7 499.7 L297.2 499.4 L297.7 499.6 L298.2 499.8 L298.7 499.9 L299.2 500.1 L299.7 500.1 L300.2 500.3 L300.7 500.0 L301.2 500.5 L301.7 500.0 L302.2 500.6 L302.7 500.5 L303.2 500.4 L303.7 500.7 L304.2 500.4 L304.7 500.5 L305.2 501.3 L305.7 500.9 L306.3 501.2 L306.8 501.2 L307.2 500.5 L307.7 500.1 L308.2 499.8 L308.8 500.1 L309.2 499.7 L309.8 500.0 L310.2 499.1 L310.7 499.0 L311.2 499.0 L311.7 499.4 L312.0 500.3 L312.6 500.0 L313.0 500.8 L313.4 500.9 L313.9 501.1 L314.4 501.4 L314.8 502.0 L315.2 502.5 L315.8 502.5 L316.3 502.3 L316.8 502.0 L317.2 501.4 L317.8 501.6 L318.3 501.4 L318.8 501.4 L319.3 501.3 L319.8 500.9 L320.3 501.2 L320.8 500.7 L321.3 500.9 L321.8 500.3 L322.3 500.2 L322.7 499.3 L323.3 500.1 L323.8 500.3 L324.3 500.1 L324.8 499.6 L325.3 500.4 L325.8 499.8 L326.2 499.1 L326.7 499.6 L327.2 499.5 L327.6 499.0 L328.1 498.8 L328.4 497.9 L328.9 497.9 L329.3 497.4 L329.9 498.0 L330.3 497.4 L330.8 497.2 L331.2 496.6 L331.7 496.3 L332.3 496.6 L332.7 495.7 L333.3 496.2 L333.8 495.6 L334.3 496.0 L334.8 495.9 L335.3 495.6 L335.8 495.4 L336.3 495.6 L336.8 495.3 L337.3 495.3 L337.8 494.9 L338.3 495.2 L338.8 495.2 L339.3 495.1 L339.8 495.0 L340.3 494.6 L340.8 494.7 L341.3 494.9 L341.8 495.1 L342.2 495.1 L342.7 495.1 L343.2 495.3 L343.6 495.8 L344.0 496.6 L344.5 496.7 L345.0 496.4 L345.4 497.1 L345.9 497.4 L346.4 497.3 L346.8 497.0 L347.3 496.9 L347.8 496.6 L348.3 496.8 L348.9 496.8 L349.4 497.0 L349.9 497.0 L350.4 496.8 L350.9 496.5 L351.4 496.3 L351.9 496.6 L352.4 496.0 L352.8 495.1 L353.4 495.6 L353.8 495.1 L354.4 495.4 L354.8 494.8 L355.3 494.5 L355.9 494.6 L356.4 494.8 L356.9 495.1 L357.4 494.7 L357.9 495.3 L358.4 495.3 L358.9 496.0 L359.4 496.0 L359.8 496.9 L360.4 496.4 L360.9 496.5 L361.4 496.6 L361.8 497.2 L362.3 497.2 L362.7 497.6 L363.2 497.9 L363.6 498.6 L364.1 498.8 L364.5 499.2 L365.0 499.3 L365.5 499.2 L365.9 499.9 L366.4 500.6 L366.9 500.1 L367.4 500.2 L367.9 500.2 L368.4 500.9 L368.9 500.7 L369.5 500.0 L370.0 500.7 L370.5 500.5 L370.9 501.3 L371.4 501.4 L371.9 501.1 L372.4 501.0 L373.0 501.0 L373.4 500.1 L373.9 499.9 L374.4 500.3 L375.0 500.4 L375.5 500.0 L376.0 499.9 L376.4 499.2 L377.0 500.1 L377.4 499.4 L377.9 499.2 L378.2 498.0 L378.8 498.3 L379.3 498.3 L379.7 497.9 L380.2 497.9 L380.7 497.8 L381.0 496.7 L381.5 496.5 L382.0 496.6 L382.5 496.2 L383.0 496.0 L383.5 495.5 L384.0 495.6 L384.4 494.9 L385.0 494.9 L385.5 495.0 L386.0 494.8 L386.5 494.3 L387.0 494.4 L387.5 494.4 L388.0 494.2 L388.5 494.5 L389.0 494.6 L389.5 494.6 L390.0 494.7 L390.5 494.4 L391.0 495.2 L391.5 495.3 L392.0 495.1 L392.3 494.4 L392.8 494.0 L393.3 494.0 L393.7 493.4 L394.1 493.2 L394.6 492.9 L395.0 492.7 L395.4 492.1 L395.9 492.5 L396.4 492.3 L396.8 492.0 L397.3 491.7 L397.7 491.3 L398.0 490.8 L398.5 490.6 L398.9 490.3 L399.3 489.9 L399.6 489.1 L400.0 488.6 L400.5 488.8 L401.0 489.0 L401.5 489.1 L402.0 489.3 L402.5 489.6 L403.0 489.7 L403.5 490.0 L404.0 490.0 L404.5 490.0 L405.0 490.7 L405.5 490.2 L406.1 490.2 L406.6 490.4 L407.1 490.3 L407.6 490.3 L408.1 490.3 L408.6 491.0 L409.1 491.0 L409.7 490.7 L410.1 491.4 L410.6 491.4 L411.1 492.0 L411.6 491.4 L412.1 492.1 L412.6 492.2 L413.1 492.7 L413.6 492.5 L414.1 492.5 L414.6 493.0 L415.1 492.9 L415.6 491.9 L416.1 492.7 L416.6 492.8 L417.1 492.9 L417.6 493.5 L418.1 493.2 L418.6 493.2 L419.1 493.5 L419.6 493.2 L420.1 493.2 L420.6 493.6 L421.1 494.0 L421.6 494.4 L422.1 494.4 L422.6 494.0 L423.1 493.7 L423.6 493.7 L424.1 493.6 L424.6 493.4 L425.1 493.3 L425.6 492.5 L426.1 493.1 L426.7 492.7 L427.1 492.9 L427.6 493.4 L428.1 494.1 L428.6 494.0 L429.1 494.3 L429.6 494.3 L430.1 494.4 L430.6 494.3 L431.1 494.1 L431.6 493.7 L432.2 494.4 L432.7 494.0 L433.1 493.3 L433.7 493.8 L434.2 493.7 L434.7 493.4 L435.2 493.1 L435.7 493.1 L436.1 492.6 L436.6 492.2 L437.1 492.3 L437.6 491.9 L438.2 492.2 L438.6 491.8 L439.2 492.3 L439.7 492.0 L440.2 492.5 L440.7 492.1 L441.2 491.8 L441.7 491.8 L442.2 491.8 L442.6 491.5 L443.0 490.7 L443.5 490.6 L443.8 489.5 L444.4 489.9 L444.8 489.7 L445.4 490.2 L445.8 489.5 L446.2 489.3 L446.7 488.9 L447.2 489.0 L447.7 488.4 L448.2 487.9 L448.7 488.2 L449.2 487.8 L449.2 488.3 L449.5 488.7 L449.6 489.2 L449.5 490.0 L449.8 490.3 L450.1 490.7 L450.4 491.1 L450.4 491.7 L450.4 492.2 L450.3 493.0 L450.4 493.5 L450.6 493.9 L450.7 494.4 L450.8 495.0 L451.2 495.6 L451.8 495.8 L452.3 496.2 L452.8 495.7 L453.3 495.6 L453.8 495.7 L454.3 495.4 L454.7 494.7 L455.2 494.6 L455.8 494.6 L456.2 494.0 L456.7 494.4 L457.2 494.4 L457.8 493.9 L458.2 494.3 L458.8 494.2 L459.3 494.5 L459.7 494.9 L460.2 495.2 L460.7 495.4 L461.2 495.5 L461.8 495.6 L462.4 495.1 L462.9 495.2 L463.5 494.9 L464.0 495.6 L464.5 495.5 L465.0 495.4 L465.5 496.0 L466.0 496.1 L466.5 495.7 L467.0 496.1 L467.5 496.9 L468.0 497.2 L468.5 496.5 L469.0 496.3 L469.5 495.8 L470.0 496.3 L470.5 495.8 L471.1 496.5 L471.5 496.1 L472.0 495.3 L472.5 495.7 L473.0 495.2 L473.5 495.4 L474.0 495.2 L474.5 494.9 L475.0 494.6 L475.6 494.8 L476.1 494.6 L476.5 494.1 L477.1 494.3 L477.6 494.3 L478.1 494.0 L478.6 493.6 L479.1 493.3 L479.6 493.5 L480.1 493.5 L480.6 493.4 L481.1 493.0 L481.5 492.4 L482.0 492.2 L482.5 492.1 L483.0 492.0 L483.5 491.5 L484.1 492.1 L484.5 491.8 L485.0 491.4 L485.6 491.8 L486.0 491.0 L486.6 491.2 L487.1 490.9 L487.6 490.6 L488.0 490.1 L488.5 489.8 L489.1 489.8 L489.5 489.4 L490.1 490.0 L490.5 489.2 L491.1 489.9 L491.6 489.1 L492.1 488.9 L492.6 489.3 L493.0 488.5 L493.6 489.1 L494.1 488.9 L494.5 488.1 L495.1 488.8 L495.6 488.5 L496.1 488.0 L496.5 487.5 L497.0 487.2 L497.5 487.1 L498.0 487.0 L498.6 488.2 L499.1 487.7 L499.6 487.6 L500.1 487.4 L500.5 487.0 L501.0 487.1 L501.3 486.0 L501.8 485.8 L502.3 486.0 L502.8 485.9 L503.3 485.8 L503.7 485.0 L504.1 484.7 L504.6 484.6 L505.1 484.3 L505.6 483.9 L506.2 484.5 L506.7 484.5 L507.2 483.8 L507.7 483.5 L508.2 483.2 L508.7 483.1 L509.2 482.8 L509.7 483.0 L510.0 482.0 L510.5 482.0 L510.9 481.1 L511.4 481.4 L511.9 481.6 L512.3 481.1 L512.8 480.6 L513.2 480.4 L513.7 480.7 L514.2 480.3 L514.8 480.4 L515.3 480.5 L515.9 480.5 L516.3 479.4 L516.8 479.0 L517.4 479.0 L517.9 479.0 L518.4 479.2 L518.9 479.2 L519.3 479.7 L519.8 479.7 L520.2 480.1 L520.7 480.4 L521.1 480.7 L521.6 480.9 L521.9 481.8 L522.4 481.9 L523.0 481.7 L523.5 481.5 L524.0 481.3 L524.5 481.5 L525.0 481.3 L525.5 481.2 L525.9 480.0 L526.5 481.0 L527.0 480.5 L527.5 480.2 L528.0 479.9 L528.5 480.1 L529.0 480.0 L529.5 479.8 L529.9 478.6 L530.5 478.8 L531.0 478.8 L531.5 479.2 L532.0 478.7 L532.5 479.1 L533.0 479.1 L533.5 478.8 L534.0 479.7 L534.5 479.6 L535.0 479.1 L535.6 478.8 L536.1 479.0 L536.5 479.5 L537.0 479.8 L537.5 480.6 L538.0 480.2 L538.5 480.6 L539.0 480.6 L539.5 481.2 L540.0 481.4 L540.5 481.7 L541.0 481.6 L541.5 481.9 L542.0 481.8 L542.5 481.8 L543.0 482.3 L543.5 482.3 L544.0 482.0 L544.5 482.3 L544.9 482.9 L545.3 483.2 L545.8 483.2 L546.3 483.6 L546.6 484.3 L547.1 484.2 L547.7 483.9 L548.1 484.5 L548.6 484.8 L549.1 484.4 L549.6 485.1 L550.1 484.9 L550.6 485.8 L551.0 485.6 L551.3 485.0 L551.6 484.7 L552.1 484.6 L552.2 483.7 L552.6 483.3 L553.0 483.1 L553.2 482.3 L553.7 482.4 L554.0 482.0 L554.3 481.2 L554.9 480.9 L555.4 481.1 L555.8 482.3 L556.4 481.5 L556.9 481.4 L557.4 481.7 L557.8 482.7 L558.3 482.6 L558.8 482.6 L559.3 482.6 L559.8 483.2 L560.3 483.3 L560.8 482.9 L561.3 483.4 L561.8 483.0 L562.3 483.2 L562.8 482.8 L563.4 482.5 L563.8 483.1 L564.3 482.9 L564.8 482.3 L565.3 482.2 L565.8 482.4 L566.3 482.3 L566.8 482.8 L567.3 482.6 L567.8 482.3 L568.3 482.5 L568.9 482.4 L569.3 482.6 L569.7 482.2 L570.0 481.4 L570.6 481.5 L571.0 481.2 L571.4 481.1 L571.7 480.2 L572.3 480.4 L572.6 479.9 L573.1 479.6 L573.5 479.4 L574.1 479.7 L574.4 478.8 L574.8 478.6 L575.3 478.2 L575.9 478.8 L576.4 478.5 L576.8 478.1 L577.3 477.9 L577.7 477.6 L578.2 477.4 L578.6 476.9 L579.0 476.3 L579.4 475.9 L579.9 476.0 L580.5 476.2 L580.9 475.4 L581.4 474.7 L581.9 474.6 L582.3 474.0 L582.9 474.1 L583.5 474.7 L583.9 474.2 L584.4 474.0 L584.9 473.8 L585.3 473.3 L585.7 472.8 L586.2 472.4 L586.6 472.3 L587.1 472.2 L587.7 473.1 L588.1 472.5 L588.5 471.9 L588.9 471.2 L589.4 471.4 L589.8 471.2 L590.1 470.5 L590.5 470.3 L590.8 469.9 L591.1 469.4 L591.5 469.0 L591.8 468.6 L592.3 468.7 L592.4 467.9 L592.7 468.7 L593.1 468.8 L593.7 468.8 L594.0 469.2 L594.4 469.7 L594.9 469.9 L595.3 470.0 L595.7 470.4 L596.1 470.9 L596.5 471.1 L597.0 471.5 L597.5 471.2 L598.0 470.6 L598.5 470.4 L599.1 470.5 L599.6 470.1 L600.2 470.2 L600.7 470.1 L601.2 470.2 L601.6 470.0 L601.9 468.9 L602.1 467.4 L602.6 467.8 L603.0 467.1 L603.4 467.0 L604.0 467.4 L604.4 467.3 L605.1 468.1 L605.5 467.4 L605.9 467.3 L606.4 466.7 L606.8 466.4 L607.3 466.2 L607.9 466.5 L608.2 465.9 L608.7 465.9 L609.2 466.1 L609.7 466.3 L610.3 466.0 L610.8 465.9 L611.3 466.0 L611.8 466.1 L612.3 466.6 L612.7 467.4 L613.3 467.2 L613.8 467.5 L614.3 467.2 L614.8 467.8 L615.3 467.7 L615.8 467.4 L616.3 467.5 L616.8 466.9 L617.3 467.5 L617.8 467.3 L618.3 467.5 L618.8 467.2 L619.3 468.0 L619.8 468.1 L620.3 468.1 L620.8 467.8 L621.3 468.3 L621.8 468.3 L622.3 468.8 L622.8 468.4 L623.3 468.8 L623.8 469.1 L624.3 469.6 L624.8 469.4 L625.3 468.9 L625.9 469.8 L626.4 469.5 L626.8 468.9 L627.4 469.2 L627.8 469.1 L628.3 468.2 L628.8 468.9 L629.3 468.9 L629.8 469.1 L630.4 468.7 L630.8 470.0 L631.4 469.8 L631.9 470.0 L632.4 470.1 L633.0 469.4 L633.6 468.5 L634.1 468.9 L634.6 469.9 L635.0 469.1 L635.5 469.1 L635.9 468.5 L636.3 468.3 L636.8 468.0 L637.2 467.6 L637.7 467.3 L638.1 467.1 L638.5 466.5 L639.1 466.9 L639.6 466.8 L640.1 466.4 L640.7 466.8 L641.2 466.4 L641.7 466.1 L642.3 466.5 L642.8 466.4 L643.4 466.3 L643.7 466.9 L644.2 466.8 L644.6 467.3 L645.2 466.6 L645.6 467.2 L646.0 467.5 L646.5 467.2 L646.9 467.9 L647.1 468.5 L647.6 468.1 L648.2 468.2 L648.7 468.2 L649.3 468.6 L649.8 468.6 L650.4 468.9 L650.9 468.1 L651.2 468.7 L651.6 469.0 L652.0 469.3 L652.2 469.9 L652.5 470.4 L653.0 470.5 L653.2 471.4 L653.7 471.3 L654.1 471.6 L654.4 472.1 L654.7 472.5 L655.2 472.6 L655.4 473.2 L655.7 473.6 L655.7 474.5 L656.0 474.9 L656.2 475.4 L656.5 475.9 L656.8 476.3 L657.1 476.6 L657.4 477.0 L657.6 477.6 L657.7 478.3 L658.0 478.8 L658.4 479.0 L659.0 478.8 L659.5 479.7 L660.0 479.7 L660.6 479.4 L661.1 479.7 L661.7 479.8 L662.3 480.0 L662.4 481.0 L662.7 481.6 L663.1 481.6 L663.6 481.8 L663.8 482.5 L664.2 482.7 L664.8 482.5 L664.9 483.4 L665.3 483.9 L665.7 484.0 L666.0 484.5 L666.5 484.2 L666.9 484.8 L667.2 485.4 L667.6 486.0 L668.0 486.4 L668.5 486.0 L669.0 486.0 L669.5 486.0 L669.7 487.1 L670.1 486.4 L670.7 486.6 L671.2 486.5 L671.7 486.5 L672.2 486.1 L672.7 485.7 L673.2 486.0 L673.7 485.4 L674.2 485.1 L674.7 485.0 L675.0 484.4 L675.5 484.2 L675.9 484.1 L676.4 484.0 L676.9 483.9 L677.1 482.9 L677.6 482.9 L678.0 482.3 L678.6 482.8 L679.0 482.6 L679.3 481.7 L679.7 481.4 L680.1 480.8 L680.6 480.5 L681.1 480.6 L681.5 479.9 L681.9 479.5 L682.3 479.0 L682.8 478.7 L683.4 479.1 L683.9 478.8 L684.3 478.5 L684.8 478.5 L685.4 478.9 L685.7 477.9 L686.0 477.3 L686.5 477.5 L687.0 477.3 L687.2 476.3 L687.7 476.3 L688.2 476.1 L688.6 475.9 L689.0 475.5 L689.2 474.3 L689.8 474.4 L690.2 473.8 L690.7 473.6 L691.3 474.3 L691.7 473.4 L692.2 473.4 L692.7 473.3 L693.3 473.6 L693.8 473.4 L694.3 473.1 L694.8 473.1 L695.3 473.3 L695.6 473.6 L696.0 474.0 L696.4 474.3 L696.8 474.6 L697.2 474.9 L697.6 475.1 L697.9 475.9 L698.4 475.9 L698.7 476.4 L699.1 476.7 L699.5 477.1 L699.8 477.8 L700.3 478.2 L700.7 479.0 L701.2 478.9 L701.8 478.3 L702.3 479.2 L702.8 478.7 L703.4 478.5 L703.8 479.1 L704.3 479.3 L704.8 479.6 L705.3 479.0 L705.8 478.7 L706.3 478.4 L706.8 478.5 L707.3 478.3 L707.8 478.5 L708.3 478.1 L708.8 478.1 L709.3 477.6 L709.9 477.8 L710.4 477.6 L710.9 477.9 L711.4 478.3 L711.9 478.4 L712.4 478.6 L712.9 479.4 L713.5 478.8 L713.9 479.8 L714.4 479.4 L714.9 480.0 L715.4 479.8 L715.9 480.5 L716.4 480.2 L716.9 479.6 L717.4 479.8 L717.9 479.6 L718.4 479.4 L718.9 479.6 L719.4 479.2 L719.9 479.7 L720.2 478.7 L720.8 479.2 L721.3 479.1 L721.7 478.7 L722.3 478.8 L722.6 477.9 L723.1 477.7 L723.6 477.5 L724.0 477.2 L724.5 477.1 L724.9 476.4 L725.3 476.3 L725.8 476.4 L726.1 475.8 L726.4 475.4 L726.8 475.2 L727.1 474.8 L727.3 473.9 L727.6 473.6 L728.1 473.5 L728.3 472.9 L728.6 472.2 L728.9 471.7 L729.2 471.2 L729.6 471.1 L729.9 470.5 L730.4 470.7 L730.9 470.5 L731.4 470.0 L731.9 470.0 L732.5 470.2 L733.0 470.0 L733.5 469.9 L733.9 469.4 L734.5 470.0 L734.9 469.1 L735.3 470.4 L735.9 470.1 L736.4 470.0 L736.9 470.3 L737.4 470.0 L737.9 469.8 L738.4 469.7 L738.9 469.9 L739.4 470.5 L740.0 470.5 L740.5 470.3 L741.0 470.1 L741.4 469.6 L741.8 469.1 L742.3 469.4 L742.7 468.4 L743.2 468.4 L743.7 468.6 L744.2 468.5 L744.7 468.3 L745.1 467.5 L745.5 467.1 L746.1 467.4 L746.4 466.7 L746.7 465.9 L747.1 465.4 L747.4 464.8 L747.9 464.5 L748.2 463.8 L748.7 463.9 L749.3 463.6 L749.6 464.3 L749.7 465.5 L750.2 465.4 L750.5 466.2 L750.8 466.7 L751.4 466.5 L751.7 467.0 L752.1 467.5 L752.5 467.9 L753.0 467.5 L753.4 467.4 L753.6 466.2 L754.1 466.1 L754.4 465.2 L754.9 465.3 L755.4 465.3 L755.7 464.5 L756.3 464.7 L756.7 464.3 L757.2 463.6 L757.8 464.7 L758.2 463.6 L758.7 463.2 L759.2 463.4 L759.8 463.9 L760.3 463.6 L760.7 462.9 L761.3 463.1 L761.7 463.7 L762.2 463.9 L762.6 464.4 L763.1 464.6 L763.6 464.7 L763.9 465.7 L764.4 465.8 L765.0 465.5 L765.5 466.0 L766.0 466.2 L766.5 466.0 L767.0 465.7 L767.5 466.2 L768.0 465.9 L768.6 465.8 L769.1 466.0 L769.5 466.7 L770.1 466.2 L770.6 466.0 L771.1 465.8 L771.6 466.2 L772.1 466.5 L772.6 466.8 L773.0 467.7 L773.5 467.7 L774.0 468.7 L774.6 467.7 L775.2 467.9 L775.5 467.6 L775.9 467.3 L776.0 466.6 L776.4 466.3 L776.7 465.9 L777.2 465.9 L777.3 465.1 L777.5 464.2 L777.8 463.9 L778.0 463.2 L778.3 462.8 L778.6 462.3 L779.2 462.7 L779.2 461.6 L779.7 461.6 L780.1 461.5 L780.5 461.3 L780.7 460.4 L781.0 459.7 L781.5 459.8 L781.9 459.6 L782.2 459.1 L782.7 459.1 L782.9 458.5 L783.3 458.1 L783.7 457.8 L784.2 458.0 L784.4 457.0 L784.7 456.7 L785.1 456.5 L785.5 456.0 L786.0 455.7 L786.5 455.7 L786.9 455.6 L787.5 455.8 L787.8 455.0 L788.2 454.5 L788.7 454.3 L789.1 453.8 L789.6 453.8 L790.1 454.0 L790.7 454.6 L791.2 454.2 L791.7 453.9 L792.1 453.3 L792.5 452.1 L793.1 452.8 L793.7 452.9 L794.3 453.6 L794.7 452.8 L795.1 452.2 L795.7 452.7 L796.3 452.9 L796.7 451.8 L797.3 451.9 L797.8 451.4 L798.3 450.7 L798.9 451.5 L799.2 452.0 L799.8 451.8 L800.2 452.4 L800.5 453.1 L801.0 453.0 L801.3 454.0 L801.8 453.9 L802.2 454.4 L802.7 454.8 L803.2 454.9 L803.8 455.3 L804.2 455.0 L804.7 454.7 L805.2 454.3 L805.7 454.0 L806.2 453.4 L806.7 453.4 L807.1 452.6 L807.7 453.1 L808.2 453.3 L808.7 453.3 L809.2 453.3 L809.7 454.2 L810.2 454.3 L810.7 453.8 L811.2 454.6 L811.7 454.3 L812.2 454.9 L812.7 455.0 L813.2 455.0 L813.6 454.6 L814.0 454.1 L814.5 453.7 L814.7 452.4 L815.4 453.3 L815.7 452.4 L816.3 452.7 L816.7 452.2 L817.2 452.3 L817.7 452.2 L818.0 450.9 L818.7 451.8 L819.2 451.6 L819.7 451.7 L820.2 451.8 L820.5 450.5 L821.1 450.8 L821.5 450.1 L821.9 450.2 L822.0 451.0 L822.3 451.3 L822.7 451.5 L822.8 452.2 L823.0 452.8 L823.1 453.4 L823.5 453.7 L823.5 454.4 L823.7 455.0 L824.0 455.4 L824.4 455.6 L824.6 456.0 L824.8 456.6 L824.9 457.3 L825.3 457.9 L825.6 457.3 L825.8 456.7 L826.2 456.5 L826.5 456.1 L826.9 455.9 L826.9 454.9 L827.1 454.0 L827.6 454.3 L828.0 453.9 L828.5 453.9 L828.8 455.0 L829.2 455.0 L829.7 455.3 L830.2 455.2 L830.6 455.7 L830.9 456.3 L831.5 456.0 L831.7 457.2 L832.1 457.4 L832.5 457.8 L833.0 458.0 L833.6 458.1 L833.9 457.4 L834.3 456.8 L834.9 456.8 L835.4 456.9 L835.8 456.3 L836.3 456.3 L836.6 455.2 L837.0 454.5 L837.7 455.6 L838.0 455.1 L838.5 454.9 L839.0 455.1 L839.5 455.1 L840.0 454.1 L840.5 454.7 L841.0 454.6 L841.5 454.4 L842.0 454.7 L842.5 454.5 L843.0 454.9 L843.5 455.3 L844.0 455.9 L844.5 455.6 L845.1 454.9 L845.6 455.7 L846.0 456.0 L846.6 456.0 L847.1 455.7 L847.6 456.2 L848.1 456.6 L848.5 456.8 L848.9 457.1 L849.0 458.2 L849.3 458.5 L849.8 458.7 L850.2 458.7 L850.5 459.4 L851.0 459.3 L851.4 459.5 L851.6 460.2 L852.1 460.2 L852.6 460.2 L852.8 461.2 L853.1 461.6 L853.5 461.2 L853.7 460.2 L854.1 460.1 L854.7 460.4 L854.9 459.6 L855.2 458.9 L855.6 458.7 L856.0 458.3 L856.5 458.2 L856.9 457.9 L857.5 458.3 L857.9 457.9 L858.2 457.4 L858.6 456.8 L859.0 456.5 L859.3 455.7 L859.8 455.7 L860.2 455.2 L860.6 454.9 L861.0 454.4 L861.4 454.3 L861.8 453.9 L862.4 454.1 L862.7 453.2 L863.2 453.0 L863.6 452.5 L864.0 451.7 L864.5 452.2 L865.1 452.5 L865.5 452.5 L866.0 452.3 L866.5 452.3 L866.9 451.5 L867.3 451.4 L867.7 451.0 L868.2 450.7 L868.7 450.9 L869.1 450.6 L869.4 449.6 L869.9 449.6 L870.4 449.8 L870.5 448.3 L871.0 448.2 L871.5 448.2 L871.9 448.0 L872.4 447.6 L872.9 448.0 L873.4 447.0 L873.9 447.6 L874.4 447.6 L874.9 447.5 L875.4 447.0 L875.9 446.7 L876.4 446.7 L876.9 446.5 L877.4 446.5 L877.8 446.1 L878.2 445.8 L878.6 445.4 L879.1 445.2 L879.5 445.0 L880.0 444.9 L880.3 444.4 L880.7 443.9 L881.1 443.6 L881.6 443.4 L881.9 443.1 L882.5 442.7 L882.9 443.6 L883.4 443.9 L883.9 444.1 L884.4 444.0 L885.0 443.4 L885.4 444.2 L885.9 444.6 L886.4 444.8 L887.0 444.8 L887.5 444.6 L887.9 445.2 L888.4 445.6 L889.0 445.0 L889.4 446.1 L890.0 445.8 L890.4 446.4 L891.0 446.3 L891.4 447.1 L892.0 446.3 L892.5 447.0 L893.0 446.6 L893.4 447.5 L894.0 446.9 L894.5 446.0 L895.0 446.0 L895.5 446.8 L896.0 446.0 L896.5 446.9 L897.0 447.3 L897.5 447.2 L898.0 446.7 L898.5 446.6 L899.0 446.7 L899.6 447.2 L900.0 445.9 L900.5 446.5 L901.1 447.0 L901.6 446.9 L901.9 446.0 L902.2 446.6 L902.4 447.5 L902.9 447.3 L903.3 447.6 L903.7 448.0 L904.1 448.1 L904.4 448.6 L904.8 449.1 L905.1 449.3 L905.5 449.7 L905.8 450.2 L906.2 450.4 L906.6 450.9 L907.2 450.7 L907.5 451.3 L907.8 452.3 L908.3 452.2 L908.6 452.9 L909.2 452.5 L909.5 453.3 L909.9 452.9 L910.1 452.2 L910.6 452.4 L910.8 451.6 L911.2 451.3 L911.5 450.8 L911.7 450.0 L912.2 450.2 L912.5 449.6 L913.0 449.6 L913.3 449.0 L913.8 449.3 L914.3 449.0 L914.5 447.7 L915.0 448.1 L915.4 447.5 L915.7 446.9 L916.2 446.9 L916.6 446.2 L917.1 446.3 L917.4 445.5 L917.9 445.5 L918.3 445.0 L918.8 445.3 L919.3 445.1 L919.8 444.5 L920.3 444.9 L920.8 444.9 L921.3 443.9 L921.8 444.3 L922.3 443.7 L922.9 444.7 L923.3 444.0 L923.8 444.5 L924.3 445.5 L924.8 444.2 L925.3 444.1 L925.8 444.9 L926.3 444.9 L926.8 445.3 L927.3 445.3 L927.8 445.2 L928.2 445.1 L928.4 446.1 L928.9 445.8 L929.2 446.5 L929.6 446.7 L930.0 446.9 L930.5 446.7 L930.9 446.9 L931.1 447.7 L931.4 448.4 L931.8 448.5 L932.1 449.1 L932.6 448.9 L932.9 448.5 L933.3 448.1 L933.5 447.3 L933.9 446.7 L934.4 446.8 L934.8 446.6 L935.1 446.0 L935.7 446.3 L935.9 445.6 L936.4 445.6 L936.7 444.8 L937.3 445.2 L937.6 444.2 L938.0 443.9 L938.4 443.4 L938.9 443.8 L939.3 443.1 L939.6 442.3 L940.0 441.8 L940.4 441.5 L940.8 441.1 L941.4 441.3 L941.9 440.9 L942.4 441.0 L942.9 441.2 L943.3 440.1 L944.0 441.1 L944.4 440.6 L944.9 440.2 L945.5 440.7 L945.9 440.1 L946.5 440.2 L946.8 439.1 L947.3 438.8 L947.7 438.1 L948.2 438.6 L948.7 438.0 L949.1 437.8 L949.7 438.3 L950.0 438.9 L950.5 438.6 L950.9 439.4 L951.3 439.5 L951.8 439.6 L952.0 441.0 L952.6 440.4 L952.9 440.9 L953.4 440.5 L954.0 441.1 L954.5 440.8 L955.0 441.1 L955.6 441.2 L956.1 440.9 L956.7 440.8 L957.2 441.5 L957.5 440.9 L958.0 440.7 L958.4 440.4 L958.8 439.9 L959.2 439.4 L959.6 438.8 L960.0 438.5 L960.4 438.1 L960.9 437.8 L961.4 437.8 L961.9 437.3 L962.4 437.3 L962.9 437.1 L963.5 437.3 L963.9 437.0 L964.4 436.6 L965.0 437.3 L965.5 437.0 L965.9 436.3 L966.5 436.9 L966.9 436.0 L967.3 435.6 L967.8 435.4 L968.2 435.1 L968.8 435.7 L969.2 435.2 L969.6 434.6 L970.2 435.4 L970.7 435.0 L971.0 434.1 L971.5 434.3 L971.8 433.6 L972.1 432.9 L972.3 432.2 L972.6 431.6 L972.9 431.2 L973.5 431.5 L974.0 431.7 L974.2 430.9 L974.6 430.6 L975.0 430.2 L975.2 429.4 L975.4 428.5 L976.0 428.8 L976.6 429.3 L977.0 428.5 L977.5 428.0 L978.0 428.0 L978.5 428.0 L979.1 428.3 L979.5 427.2 L980.0 427.2 L980.4 426.5 L981.0 427.2 L981.4 428.3 L982.1 427.1 L982.6 427.1 L982.9 428.7 L983.4 428.9 L984.0 429.0 L984.4 429.9 L984.9 429.6 L985.5 428.9 L986.0 428.5 L986.4 427.8 L987.0 428.9 L987.6 429.0 L988.0 428.6 L988.5 428.1 L989.0 428.0 L989.4 427.6 L989.9 427.5 L990.4 427.2 L990.8 426.9 L991.3 426.2 L991.8 426.5 L992.3 426.4 L992.7 426.6 L992.9 427.3 L993.1 427.9 L993.9 427.1 L993.9 428.3 L994.3 428.6 L994.6 429.0 L994.7 429.8 L995.2 429.7 L995.8 429.6 L995.8 430.6 L996.0 431.5 L996.4 431.5 L996.9 431.6 L997.3 431.6 L997.3 432.5 L997.8 431.7 L998.3 431.8 L998.8 431.6 L999.3 431.7 L999.8 431.9 L1000.3 431.7 L1000.8 431.5 L1001.4 432.1 L1001.9 431.7 L1002.3 431.4 L1002.8 431.4 L1003.2 430.1 L1003.8 430.8 L1004.2 430.0 L1004.6 429.8 L1005.1 429.9 L1005.6 429.3 L1006.0 428.7 L1006.7 429.7 L1006.9 430.1 L1007.0 430.7 L1007.2 431.1 L1007.5 431.5 L1007.4 432.3 L1007.9 432.3 L1008.0 432.9 L1007.9 433.9 L1008.2 434.2 L1008.6 434.4 L1008.6 435.1 L1008.9 435.4 L1009.1 435.8 L1009.5 436.0 L1009.8 436.4 L1009.8 437.2 L1009.8 437.9 L1010.1 438.2 L1010.3 438.7 L1010.7 438.8 L1010.9 439.5 L1010.9 440.2 L1011.3 440.4 L1011.4 441.1 L1011.7 441.5 L1012.1 441.7 L1012.1 442.5 L1012.4 442.6 L1012.9 442.4 L1013.2 441.3 L1013.7 440.9 L1014.3 441.1 L1014.9 441.5 L1014.7 442.1 L1014.7 442.7 L1015.0 443.1 L1015.1 443.6 L1015.0 444.1 L1014.9 444.7 L1015.3 445.1 L1015.5 445.5 L1015.6 446.0 L1015.7 446.5 L1015.6 447.1 L1015.6 447.6 L1015.7 448.1 L1015.8 448.6 L1015.7 449.2 L1015.6 449.7 L1015.8 450.2 L1015.9 450.7 L1016.0 451.2 L1016.0 451.7 L1016.2 452.2 L1016.0 452.8 L1015.8 453.4 L1016.0 453.8 L1016.0 454.4 L1016.3 454.8 L1016.6 455.2 L1016.6 455.7 L1016.6 456.3 L1016.7 456.7 L1016.7 457.3 L1016.8 457.8 L1016.9 458.2 L1016.8 458.9 L1017.0 459.3 L1017.2 459.7 L1017.3 460.2 L1017.4 460.7 L1017.3 461.3 L1017.3 461.9 L1017.5 462.3 L1017.4 462.9 L1017.5 463.4 L1017.9 463.7 L1017.9 464.2 L1018.0 464.7 L1018.1 465.2 L1018.2 465.7 L1018.1 466.3 L1018.0 466.9 L1018.1 467.4 L1018.2 467.9 L1018.3 468.4 L1018.3 468.9 L1018.3 469.5 L1018.9 469.7 L1018.7 470.4 L1018.7 470.9 L1018.6 471.5 L1019.1 471.8 L1018.9 472.4 L1019.3 472.8 L1019.3 473.3 L1019.4 473.8 L1019.3 474.4 L1019.2 475.0 L1019.4 475.4 L1019.4 476.0 L1019.4 476.5 L1019.4 477.1 L1019.6 477.5 L1019.7 478.0 L1019.8 478.5 L1019.9 479.0 L1019.9 479.5 L1020.0 480.0 L1020.1 480.5 L1020.3 480.9 L1020.4 481.5 L1020.7 481.8 L1020.7 482.4 L1020.7 482.9 L1021.0 483.3 L1021.1 483.8 L1021.4 484.2 L1021.2 485.0 L1021.5 485.4 L1021.8 485.8 L1021.8 486.4 L1022.0 486.9 L1022.1 487.5 L1022.5 487.8 L1022.6 488.3 L1022.5 489.1 L1022.8 489.5 L1023.2 489.7 L1023.1 490.5 L1023.3 491.2 L1023.7 491.3 L1024.0 491.7 L1024.2 492.3 L1024.5 492.7 L1024.7 493.3 L1024.6 494.3 L1025.3 494.3 L1025.5 493.8 L1025.4 493.2 L1025.3 492.7 L1025.6 492.2 L1025.7 491.7 L1025.6 491.2 L1025.7 490.7 L1025.6 490.1 L1025.7 489.6 L1025.8 489.1 L1025.8 488.5 L1026.1 488.1 L1025.9 487.5 L1026.1 487.0 L1026.3 486.6 L1026.2 486.0 L1026.3 485.5 L1026.5 485.1 L1026.2 484.4 L1026.3 483.9 L1026.6 483.5 L1026.8 483.0 L1026.7 482.5 L1027.0 482.0 L1027.1 481.6 L1027.2 481.1 L1027.2 480.5 L1027.4 480.0 L1027.4 479.5 L1027.3 478.9 L1027.5 478.5 L1027.5 477.8 L1027.6 478.4 L1027.8 478.9 L1027.9 479.4 L1028.1 479.9 L1028.4 480.3 L1028.8 480.5 L1028.8 481.2 L1028.8 481.9 L1028.9 482.4 L1029.0 483.0 L1029.2 483.5 L1029.5 483.9 L1029.5 484.6 L1029.7 485.0 L1029.9 485.3 L1030.3 485.2 L1030.6 484.8 L1030.8 484.4 L1031.0 483.8 L1031.2 483.3 L1031.4 482.9 L1031.5 482.2 L1031.9 482.0 L1032.0 481.3 L1032.2 480.9 L1032.5 480.5 L1032.7 479.6 L1033.0 478.9 L1033.5 479.0 L1033.9 478.7 L1034.4 478.8 L1034.8 478.4 L1035.0 477.6 L1035.3 476.8 L1035.7 476.5 L1036.2 476.5 L1036.7 476.7 L1037.3 476.8 L1037.8 476.6 L1038.2 475.8 L1038.7 475.7 L1039.2 475.5 L1039.8 476.6 L1040.3 475.5 L1040.8 475.4 L1041.2 474.9 L1041.5 474.1 L1041.9 473.7 L1042.4 473.8 L1042.9 473.7 L1043.3 473.4 L1043.9 474.2 L1044.2 473.2 L1044.6 473.0 L1045.0 472.7 L1045.5 472.5 L1045.8 471.6 L1045.9 472.3 L1046.3 472.5 L1046.6 472.8 L1046.7 473.5 L1047.0 473.9 L1047.3 474.2 L1047.6 474.7 L1047.9 475.0 L1048.1 475.6 L1048.2 476.2 L1048.4 476.7 L1048.5 477.4 L1048.8 477.9 L1049.0 477.2 L1049.4 476.7 L1049.8 476.5 L1050.3 476.6 L1050.8 476.5 L1051.0 475.7 L1051.4 475.4 L1051.9 475.4 L1052.3 475.1 L1052.5 474.2 L1052.9 474.3 L1053.2 475.0 L1053.6 475.1 L1054.0 475.3 L1054.3 476.1 L1054.6 476.6 L1055.1 476.7 L1055.5 476.6 L1055.7 476.0 L1055.8 475.2 L1056.1 474.8 L1056.2 474.0 L1056.4 473.5 L1056.8 473.3 L1057.2 473.1 L1057.4 472.6 L1057.6 472.0 L1058.0 471.7 L1058.2 471.1 L1058.4 470.6 L1058.7 470.2 L1059.1 470.1 L1059.2 469.3 L1059.6 469.2 L1059.8 468.6 L1060.1 468.4 L1060.2 467.5 L1060.6 467.4 L1060.8 467.0 L1060.9 466.2 L1061.3 465.9 L1061.4 465.3 L1061.7 464.9 L1061.9 464.4 L1062.0 463.7 L1062.4 463.5 L1062.7 463.2 L1062.9 462.7 L1063.2 462.3 L1063.5 461.9 L1063.8 461.5 L1064.1 461.2 L1064.1 460.4 L1064.4 459.9 L1064.6 459.5 L1064.8 458.9 L1065.3 458.9 L1065.5 458.3 L1065.7 457.9 L1066.0 457.4 L1066.0 456.7 L1066.4 456.4 L1066.5 455.8 L1066.9 455.6 L1067.2 455.1 L1067.5 454.7 L1067.6 454.0 L1068.0 454.2 L1068.6 453.8 L1069.0 454.2 L1069.5 454.1 L1069.8 454.7 L1070.1 455.9 L1070.6 455.6 L1071.0 456.1 L1071.3 456.4 L1071.9 456.2 L1072.4 455.9 L1072.9 455.9 L1073.4 455.3 L1074.0 455.4 L1074.6 455.9 L1075.1 455.2 L1075.6 455.2 L1076.2 455.1 L1076.7 455.6 L1077.3 454.9 L1077.8 455.8 L1078.3 455.8 L1078.8 455.8 L1079.2 455.3 L1079.8 455.7 L1080.0 454.9 L1080.4 454.5 L1080.9 454.8 L1081.3 454.2 L1081.7 454.2 L1082.0 453.3 L1082.5 453.4 L1082.8 452.7 L1083.1 452.2 L1083.5 451.9 L1083.9 451.7 L1084.4 451.7 L1084.7 451.1 L1084.9 450.4 L1085.4 450.6 L1085.8 450.1 L1085.9 449.1 L1086.4 449.0 L1086.9 449.3 L1087.1 448.4 L1087.6 448.4 L1087.8 447.4 L1088.1 446.8 L1088.5 446.9 L1088.9 446.6 L1089.5 446.8 L1090.0 446.4 L1090.5 445.8 L1091.0 445.5 L1091.6 446.0 L1092.2 446.1 L1092.7 445.5 L1093.2 445.3 L1093.6 444.5 L1094.0 443.8 L1094.4 443.7 L1094.9 443.3 L1095.4 443.3 L1096.0 443.5 L1096.4 443.4 L1096.7 444.1 L1097.1 444.7 L1097.5 444.9 L1097.9 445.6 L1098.2 446.3 L1098.8 446.0 L1099.3 446.2 L1099.7 446.5 L1100.2 446.9 L1100.7 447.2 L1101.3 446.7 L1101.8 446.6 L1102.4 446.3 L1102.9 447.4 L1103.4 447.1 L1103.9 447.8 L1104.4 448.1 L1104.9 448.0 L1105.4 447.8 L1105.9 449.0 L1106.4 448.2 L1106.9 448.4 L1107.4 448.3 L1108.0 448.2 L1108.4 449.4 L1109.0 448.5 L1109.5 448.6 L1110.0 448.0 L1110.5 448.0 L1111.0 448.1 L1111.5 447.7 L1112.0 447.8 L1112.5 448.1 L1113.0 447.2 L1113.5 447.4 L1114.0 447.8 L1114.5 448.3 L1114.9 449.1 L1115.4 448.9 L1115.9 448.9 L1116.5 448.6 L1116.9 449.5 L1117.5 449.0 L1118.0 449.2 L1118.5 450.0 L1119.0 450.0 L1119.5 449.5 L1120.1 449.5 L1120.6 449.7 L1121.0 450.5 L1121.6 449.9 L1122.1 450.2 L1122.5 450.8 L1123.1 450.6 L1123.5 451.5 L1124.0 451.7 L1124.5 451.6 L1124.8 452.4 L1125.2 453.0 L1125.8 452.8 L1126.1 453.3 L1126.4 454.1 L1126.9 454.2 L1127.3 454.8 L1127.8 454.8 L1128.1 455.5 L1128.5 455.8 L1129.1 455.4 L1129.5 455.9 L1129.8 456.4 L1130.3 456.6 L1130.8 456.3 L1131.2 456.7 L1131.6 457.4 L1132.0 457.0 L1132.3 456.2 L1132.5 455.3 L1133.0 454.9 L1133.6 455.4 L1133.9 454.7 L1134.4 454.6 L1134.9 454.7 L1135.4 454.3 L1135.7 453.8 L1136.0 452.7 L1136.5 452.8 L1136.9 452.3 L1137.3 452.4 L1137.9 452.7 L1138.2 452.1 L1138.6 451.8 L1139.1 451.5 L1139.5 451.2 L1139.8 450.4 L1140.2 450.0 L1140.8 450.5 L1141.1 449.7 L1141.5 449.4 L1141.9 449.0 L1142.3 448.7 L1142.9 449.0 L1143.1 447.8 L1143.7 447.6 L1144.0 448.0 L1144.1 448.6 L1144.4 449.0 L1144.2 450.1 L1144.6 450.3 L1144.7 450.9 L1144.9 451.5 L1145.3 451.6 L1145.6 452.0 L1145.8 452.4 L1146.1 452.8 L1146.2 453.6 L1146.8 453.4 L1146.8 454.3 L1147.1 454.6 L1147.5 454.9 L1147.8 455.2 L1148.3 455.3 L1148.4 455.9 L1148.6 456.6 L1148.8 456.2 L1148.9 455.6 L1149.1 455.1 L1149.2 454.4 L1149.3 453.9 L1149.5 453.5 L1149.8 453.1 L1150.2 452.9 L1150.1 452.1 L1150.2 451.5 L1150.6 451.3 L1150.9 451.0 L1151.1 450.5 L1151.4 450.2 L1151.5 449.6 L1151.7 449.2 L1152.0 448.7 L1152.2 447.9 L1152.8 448.0 L1153.1 447.3 L1153.6 447.5 L1153.9 447.0 L1154.3 446.6 L1154.5 445.6 L1155.0 445.6 L1155.4 445.4 L1155.7 444.8 L1156.2 445.1 L1156.4 444.3 L1156.5 443.5 L1157.0 443.4 L1157.1 442.6 L1157.5 442.4 L1158.0 442.4 L1158.4 442.4 L1158.8 442.0 L1159.0 441.6 L1159.0 440.4 L1159.4 440.1 L1159.7 439.7 L1160.2 439.6 L1160.3 438.7 L1160.8 438.6 L1161.1 438.0 L1161.6 437.7 L1161.9 437.0 L1162.3 436.7 L1162.9 436.9 L1163.2 436.2 L1163.7 436.4 L1164.1 435.9 L1164.6 435.8 L1164.9 435.1 L1165.4 435.3 L1165.8 434.8 L1166.4 435.2 L1166.7 434.7 L1167.0 433.8 L1167.5 433.6 L1167.9 433.2 L1168.4 433.4 L1168.8 433.0 L1169.3 432.8 L1169.6 432.3 L1170.0 432.0 L1170.4 431.4 L1170.7 430.4 L1171.1 430.0 L1171.5 429.7 L1172.1 430.3 L1172.3 429.1 L1172.9 429.5 L1173.3 429.2 L1173.7 428.8 L1174.0 427.9 L1174.5 427.9 L1175.0 427.7 L1175.4 427.6 L1175.9 426.7 L1176.5 426.9 L1177.0 426.4 L1177.5 426.1 L1178.1 426.9 L1178.6 426.7 L1179.2 427.0 L1179.6 426.1 L1180.1 426.5 L1180.6 426.4 L1181.0 425.8 L1181.5 426.1 L1182.1 426.9 L1182.6 427.1 L1183.0 425.8 L1183.3 425.4 L1183.7 425.2 L1183.9 424.7 L1184.1 424.1 L1184.4 423.8 L1184.7 423.5 L1184.9 422.8 L1185.1 422.2 L1185.3 421.6 L1185.3 420.8 L1185.8 420.6 L1186.5 421.2 L1186.8 420.8 L1186.7 419.7 L1187.1 420.4 L1187.7 419.9 L1188.1 420.3 L1188.5 420.6 L1188.9 421.1 L1189.2 421.7 L1189.6 422.3 L1190.2 421.8 L1190.5 422.7 L1191.0 422.9 L1191.5 422.4 L1192.0 422.2 L1192.4 422.4 L1192.5 422.9 L1192.7 423.5 L1192.7 424.3 L1192.9 424.6 L1192.9 425.4 L1193.3 425.6 L1193.6 425.9 L1193.7 426.4 L1194.1 426.6 L1194.4 427.1 L1194.4 427.8 L1194.7 428.2 L1195.2 428.3 L1195.5 428.8 L1195.8 429.5 L1196.3 429.6 L1196.8 429.5 L1197.0 430.3 L1197.4 430.8 L1197.7 430.4 L1197.9 429.8 L1198.4 429.8 L1198.4 428.6 L1198.7 428.3 L1198.9 427.5 L1199.3 427.3 L1199.5 426.7 L1199.9 426.4 L1200.4 426.6 L1200.9 426.4 L1201.5 426.6 L1202.0 426.6 L1202.6 426.1 L1203.1 426.1 L1203.6 426.2 L1204.2 426.1 L1204.7 426.5 L1205.3 425.8 L1205.8 426.5 L1206.3 426.9 L1206.9 426.5 L1207.5 426.8 L1207.9 426.1 L1208.3 425.3 L1208.9 425.6 L1209.4 425.3 L1209.6 425.8 L1210.0 426.0 L1209.8 426.8 L1209.8 427.4 L1209.9 428.0 L1210.0 428.5 L1210.1 429.0 L1210.5 429.2 L1210.6 429.7 L1210.9 430.1 L1210.9 430.7 L1211.3 431.0 L1211.3 431.6 L1211.7 431.8 L1211.6 432.5 L1211.8 432.9 L1211.8 433.6 L1212.0 434.0 L1212.2 434.6 L1212.4 435.3 L1212.9 435.2 L1213.1 435.9 L1213.4 436.4 L1213.7 436.9 L1214.2 436.8 L1214.4 437.3 L1215.0 437.5 L1215.3 437.0 L1215.6 435.9 L1216.3 436.7 L1216.6 436.0 L1217.0 435.7 L1217.4 435.2 L1217.8 435.2 L1218.0 434.6 L1218.2 433.9 L1218.6 433.8 L1219.0 433.7 L1219.4 433.4 L1219.6 432.8 L1219.8 432.1 L1220.0 431.6 L1220.5 431.2 L1220.9 430.0 L1221.5 430.2 L1222.0 430.2 L1222.6 429.8 L1223.1 429.9 L1223.8 430.1 L1224.3 430.0 L1224.7 430.2 L1224.6 431.6 L1225.1 431.5 L1225.2 432.5 L1225.5 432.8 L1225.8 433.3 L1226.2 433.3 L1226.6 433.4 L1226.8 434.2 L1227.0 434.8 L1227.2 434.3 L1227.6 434.0 L1227.7 433.3 L1228.1 433.0 L1228.3 432.4 L1228.5 431.9 L1228.9 431.6 L1229.4 431.6 L1229.3 430.5 L1229.5 429.8 L1230.0 429.8 L1230.4 429.3 L1231.0 429.8 L1231.5 429.8 L1231.9 429.5 L1232.4 429.2 L1232.7 428.1 L1233.3 428.4 L1233.8 428.3 L1234.2 428.2 L1234.6 427.1 L1235.0 426.7 L1235.4 426.2 L1236.0 426.8 L1236.7 428.0 L1237.0 426.6 L1237.5 426.6 L1237.9 425.7 L1238.5 426.4 L1238.8 425.3 L1239.3 425.4 L1239.8 425.5 L1240.1 424.5 L1240.5 424.0 L1241.1 423.9 L1241.6 424.7 L1242.1 425.1 L1242.7 424.5 L1243.3 424.5 L1243.8 424.6 L1244.3 425.1 L1244.9 424.8 L1245.4 424.1 L1246.0 424.3 L1246.5 424.2 L1247.0 424.4 L1247.5 425.4 L1247.8 425.9 L1248.2 426.3 L1248.6 426.6 L1249.1 426.3 L1249.3 427.4 L1249.7 427.5 L1250.0 427.7 L1250.2 427.2 L1250.4 426.7 L1250.6 426.0 L1251.1 426.0 L1251.4 425.7 L1251.3 424.6 L1251.8 424.5 L1252.0 423.9 L1252.3 423.7 L1252.5 423.1 L1252.8 422.7 L1253.1 422.3 L1253.6 422.6 L1254.2 422.5 L1254.7 422.3 L1255.3 422.4 L1255.9 422.4 L1256.3 423.1 L1256.8 423.0 L1257.3 423.1 L1257.6 421.8 L1258.1 421.4 L1258.6 421.7 L1259.2 422.4 L1259.6 421.5 L1260.2 421.9 L1260.6 421.1 L1261.1 421.0 L1261.7 421.2 L1262.1 420.7 L1262.6 420.3 L1262.8 419.5 L1263.2 419.1 L1263.5 418.8 L1263.9 418.6 L1264.3 418.3 L1264.7 418.1 L1265.0 417.4 L1265.1 416.5 L1265.6 416.5 L1265.9 416.0 L1266.2 415.8 L1266.5 415.5 L1266.4 414.2 L1266.8 414.0 L1267.1 413.7 L1267.5 413.6 L1267.9 413.2 L1268.1 412.6 L1268.7 412.9 L1269.2 412.4 L1269.8 413.0 L1270.3 412.1 L1270.9 412.5 L1271.4 413.0 L1271.9 412.8 L1272.5 412.7 L1272.9 412.9 L1273.3 413.5 L1273.7 414.4 L1274.2 414.7 L1274.6 414.7 L1275.2 414.8 L1275.7 414.6 L1276.1 413.1 L1276.6 413.5 L1277.1 413.7 L1277.7 413.7 L1278.1 414.3 L1278.5 414.5 L1278.8 415.3 L1279.1 416.0 L1279.5 416.5 L1280.0 416.3 L1280.4 417.0 L1280.9 416.5 L1281.4 416.6 L1281.9 416.6 L1282.3 417.1 L1282.7 418.1 L1283.2 418.0 L1283.8 417.1 L1284.4 416.3 L1284.8 417.4 L1285.2 418.4 L1285.7 418.3 L1286.1 418.0 L1286.5 417.5 L1287.0 417.4 L1287.4 417.3 L1287.7 416.5 L1288.0 415.5 L1288.5 415.3 L1289.0 415.2 L1289.4 415.5 L1289.6 416.3 L1290.0 416.6 L1290.4 416.8 L1290.8 417.1 L1291.2 417.6 L1291.5 418.2 L1291.8 418.8 L1292.2 419.1 L1292.8 419.0 L1293.1 417.9 L1293.6 417.7 L1294.2 417.9 L1294.6 417.1 L1295.3 417.1 L1295.5 417.7 L1296.0 417.7 L1296.2 418.4 L1296.4 419.1 L1296.8 419.2 L1297.0 419.9 L1297.2 420.6 L1297.4 421.3 L1298.0 421.0 L1298.2 421.5 L1298.8 421.8 L1299.3 421.5 L1299.8 420.4 L1300.4 420.5 L1301.0 421.7 L1301.5 420.9 L1301.8 421.6 L1302.4 421.1 L1302.6 422.1 L1303.1 422.0 L1303.6 422.0 L1304.0 422.6 L1304.3 423.3 L1305.0 422.3 L1305.2 423.4 L1305.5 423.9 L1305.9 424.0 L1306.1 424.7 L1306.4 425.2 L1306.9 425.3 L1307.3 425.4 L1307.5 426.1 L1307.5 427.1 L1307.9 427.4 L1308.2 427.6 L1308.8 427.6 L1309.3 427.2 L1309.9 427.1 L1310.4 426.9 L1310.9 426.4 L1311.5 426.5 L1311.8 425.9 L1312.1 425.5 L1312.8 426.0 L1312.8 424.7 L1313.2 424.5 L1313.7 424.5 L1314.0 424.1 L1314.3 424.8 L1314.8 424.7 L1315.4 424.4 L1315.8 424.8 L1316.0 425.6 L1316.3 426.4 L1316.4 427.3 L1316.9 427.5 L1317.3 427.6 L1318.0 426.9 L1318.3 427.5 L1318.7 427.9 L1319.1 428.5 L1319.5 429.2 L1319.9 429.2 L1320.4 429.7 L1320.7 430.0 L1321.0 430.6 L1321.5 430.6 L1321.7 431.3 L1322.0 431.6 L1322.3 432.2 L1322.7 432.4 L1322.8 433.1 L1323.2 432.9 L1323.7 432.8 L1324.1 432.4 L1324.5 432.0 L1325.0 432.3 L1325.3 431.6 L1325.2 432.3 L1325.6 432.6 L1325.8 433.0 L1325.8 433.5 L1326.1 433.9 L1326.5 434.2 L1326.3 434.9 L1326.3 435.6 L1326.7 435.9 L1326.8 436.4 L1327.1 436.6 L1327.1 437.3 L1327.1 437.9 L1327.3 438.4 L1327.8 438.3 L1328.0 437.6 L1328.4 437.5 L1328.7 436.9 L1329.1 436.6 L1329.4 436.1 L1329.7 435.6 L1329.9 435.0 L1330.4 434.3 L1331.0 434.3 L1331.5 434.7 L1331.9 435.1 L1332.4 435.7 L1332.8 436.3 L1333.3 436.3 L1333.8 436.2 L1334.1 435.0 L1334.7 435.5 L1335.2 435.4 L1335.8 435.9 L1336.3 435.8 L1336.6 434.9 L1337.2 434.8 L1337.7 434.8 L1338.2 434.4 L1338.8 434.7 L1339.3 434.2 L1339.8 433.9 L1340.3 434.0 L1340.8 433.8 L1341.2 433.7 L1341.6 433.4 L1342.0 432.8 L1342.4 432.3 L1342.5 432.9 L1342.8 433.2 L1342.9 433.7 L1342.8 434.5 L1343.2 434.8 L1343.3 435.4 L1343.5 435.8 L1343.6 436.3 L1343.7 436.9 L1343.8 437.4 L1344.2 437.7 L1344.3 438.3 L1344.4 438.8 L1344.7 439.3 L1344.7 439.8 L1344.9 440.4 L1345.1 441.0 L1345.6 441.1 L1345.9 441.6 L1346.2 442.1 L1346.6 442.4 L1347.0 442.7 L1347.4 442.8 L1347.6 443.5 L1347.9 444.0 L1348.4 444.1 L1349.0 444.0 L1349.5 444.3 L1350.0 444.5 L1350.4 445.0 L1350.9 445.6 L1351.4 445.3 L1351.8 444.4 L1352.4 444.3 L1352.9 444.1 L1353.4 444.1 L1353.7 443.7 L1354.0 443.2 L1354.4 443.0 L1354.7 442.5 L1355.1 442.3 L1355.4 442.0 L1355.4 440.8 L1355.9 440.8 L1356.2 441.6 L1356.5 442.0 L1357.0 441.9 L1357.3 442.5 L1357.5 443.5 L1358.0 443.2 L1358.4 443.6 L1358.7 444.4 L1359.1 444.8 L1359.6 444.7 L1360.0 445.0 L1360.4 445.6 L1360.9 445.3 L1361.2 444.7 L1361.7 444.7 L1362.2 445.0 L1362.5 444.2 L1362.9 444.3 L1363.2 443.5 L1363.4 443.0 L1363.8 443.2 L1363.9 443.8 L1364.4 443.8 L1364.8 444.1 L1364.8 444.9 L1365.0 445.7 L1365.5 445.5 L1365.8 446.0 L1365.9 446.7 L1366.4 446.9 L1366.9 446.9 L1367.2 447.5 L1367.3 448.3 L1367.4 449.1 L1367.8 448.8 L1368.1 448.5 L1368.1 447.7 L1368.3 447.3 L1368.2 446.5 L1368.5 446.1 L1368.8 445.8 L1368.8 445.1 L1368.9 444.6 L1369.1 444.1 L1369.2 443.5 L1369.3 442.9 L1369.5 442.4 L1369.7 442.0 L1370.0 441.6 L1370.5 441.5 L1371.0 441.0 L1371.6 441.7 L1372.2 441.9 L1372.6 440.8 L1372.9 440.1 L1373.3 440.8 L1373.7 441.2 L1374.2 441.2 L1374.6 441.6 L1375.1 441.7 L1375.7 441.5 L1376.0 442.3 L1376.5 443.0 L1377.1 442.8 L1377.7 441.6 L1378.2 442.0 L1378.7 442.2 L1379.3 442.6 L1379.8 442.5 L1380.3 443.1 L1380.9 443.1 L1381.3 444.2 L1382.0 443.1 L1382.6 443.0 L1383.1 443.9 L1383.2 444.7 L1383.8 444.6 L1384.1 444.9 L1384.4 445.5 L1384.7 445.8 L1385.0 446.3 L1385.4 446.5 L1385.6 447.0 L1385.9 447.6 L1386.0 448.2 L1386.5 448.0 L1387.0 447.8 L1387.3 447.0 L1387.9 447.3 L1388.3 447.0 L1388.9 447.6 L1389.4 446.8 L1389.7 446.4 L1389.7 445.4 L1390.1 445.1 L1390.4 444.7 L1390.8 444.4 L1391.0 443.8 L1391.1 443.1 L1391.4 442.5 L1391.8 442.2 L1392.2 441.6 L1392.8 441.9 L1393.2 441.5 L1393.6 440.9 L1394.1 440.9 L1394.7 441.1 L1395.1 440.4 L1395.4 440.0 L1395.7 439.5 L1396.1 439.2 L1396.5 438.9 L1396.6 437.8 L1396.8 437.0 L1397.3 437.1 L1397.7 436.9 L1398.0 436.3 L1398.3 435.9 L1398.8 436.1 L1399.0 435.1 L1399.5 435.1 L1399.7 434.2 L1400.3 434.6 L1400.6 433.9 L1401.1 433.4 L1401.6 434.2 L1402.1 433.9 L1402.6 434.7 L1403.1 434.0 L1403.6 434.7 L1404.1 434.6 L1404.5 434.1 L1405.1 434.4 L1405.4 433.6 L1405.9 433.1 L1406.3 432.9 L1406.9 432.9 L1407.4 432.9 L1407.9 432.5 L1408.3 431.7 L1408.7 431.1 L1409.4 431.5 L1409.6 432.2 L1410.1 432.2 L1410.2 432.9 L1410.4 433.6 L1410.8 434.0 L1411.3 433.8 L1411.5 434.5 L1411.9 434.8 L1412.4 434.5 L1412.9 434.8 L1413.4 435.3 L1413.9 434.7 L1414.4 434.8"/></defs>
<use href="#s1" stroke="#c8602c" stroke-width="5.1" stroke-opacity="0.38"/>
<use href="#s1" stroke="#c8602c" stroke-width="3.4"/>
<defs><path id="s2" d="M105.5 514.8 L106.0 514.7 L106.5 514.3 L107.0 514.9 L107.5 514.9 L108.0 514.7 L108.5 514.1 L109.0 514.5 L109.5 513.6 L110.0 513.9 L110.5 513.7 L111.0 513.6 L111.4 513.4 L111.9 513.2 L112.4 513.4 L112.9 512.8 L113.3 512.5 L113.8 512.4 L114.2 512.5 L114.6 513.0 L115.1 513.2 L115.5 513.6 L115.9 514.1 L116.4 513.9 L116.8 514.4 L117.1 515.0 L117.6 515.2 L118.1 515.5 L118.6 515.7 L119.1 515.1 L119.6 514.9 L120.0 514.3 L120.5 513.9 L121.0 514.1 L121.5 513.6 L122.1 514.3 L122.5 513.7 L122.9 513.2 L123.4 513.0 L123.9 513.4 L124.4 513.2 L124.9 513.4 L125.4 513.1 L125.8 512.4 L126.3 512.7 L126.6 511.7 L127.1 511.7 L127.6 511.6 L128.1 511.6 L128.6 512.1 L129.1 512.3 L129.6 512.5 L130.1 512.3 L130.6 512.8 L131.1 512.6 L131.6 513.1 L132.1 512.5 L132.6 512.8 L133.1 513.1 L133.6 513.1 L134.1 512.7 L134.6 513.4 L135.1 513.3 L135.6 513.4 L136.1 513.3 L136.6 513.5 L137.1 513.7 L137.7 513.7 L138.1 513.4 L138.6 513.4 L139.1 513.2 L139.7 513.2 L140.1 512.5 L140.6 512.7 L141.1 512.6 L141.6 512.5 L142.2 513.2 L142.6 512.3 L143.1 512.1 L143.5 511.1 L144.1 511.5 L144.6 511.5 L145.2 511.7 L145.6 510.8 L146.2 510.9 L146.7 510.7 L147.2 510.4 L147.7 510.2 L148.2 510.2 L148.7 510.2 L149.2 510.5 L149.7 510.7 L150.2 511.0 L150.7 511.4 L151.2 511.0 L151.7 510.9 L152.2 511.0 L152.7 510.6 L153.2 510.9 L153.7 510.7 L154.0 511.7 L154.5 512.1 L155.0 512.0 L155.4 512.7 L155.9 512.9 L156.3 513.5 L156.8 513.3 L157.2 513.8 L157.7 514.2 L158.2 514.7 L158.6 515.1 L159.1 515.3 L159.7 515.0 L160.2 515.2 L160.7 515.7 L161.3 514.8 L161.8 515.0 L162.2 515.6 L162.7 515.9 L163.2 516.3 L163.7 516.4 L164.2 517.1 L164.7 516.7 L165.2 516.0 L165.7 516.0 L166.2 516.1 L166.7 516.5 L167.2 516.5 L167.7 516.8 L168.2 517.4 L168.7 517.0 L169.2 517.2 L169.8 516.9 L170.2 517.8 L170.7 518.0 L171.2 517.9 L171.8 517.5 L172.2 518.1 L172.8 518.2 L173.3 518.1 L173.6 518.6 L174.1 518.7 L174.5 519.1 L174.7 519.9 L175.3 519.7 L175.6 520.4 L175.8 521.1 L176.2 521.6 L176.5 522.2 L177.0 522.1 L177.3 522.7 L177.8 522.8 L178.2 523.2 L178.6 523.7 L179.1 523.5 L179.5 524.3 L180.0 524.5 L180.5 524.2 L180.9 524.7 L181.4 524.9 L181.9 524.7 L182.3 525.4 L182.8 525.3 L183.3 526.2 L183.9 525.6 L184.4 525.7 L184.9 526.1 L185.5 525.9 L186.0 525.5 L186.5 525.9 L187.1 526.0 L187.3 525.1 L187.7 524.9 L188.0 524.3 L188.6 524.6 L188.7 523.6 L189.3 523.8 L189.7 523.7 L190.0 522.8 L190.3 522.1 L190.8 522.3 L191.3 522.2 L191.8 522.5 L192.3 522.7 L192.8 522.5 L193.3 522.4 L193.8 522.2 L194.3 522.3 L194.8 522.4 L195.3 522.3 L195.8 522.4 L196.3 522.2 L196.8 521.9 L197.3 521.2 L197.8 521.2 L198.3 520.7 L198.8 520.8 L199.3 520.7 L199.8 520.6 L200.3 520.8 L200.9 521.1 L201.4 520.7 L201.9 521.1 L202.4 520.6 L202.9 520.2 L203.4 520.0 L203.9 520.1 L204.4 520.1 L204.9 520.1 L205.4 519.4 L205.9 519.3 L206.3 519.0 L206.5 518.2 L206.9 518.1 L207.3 517.8 L207.7 517.5 L208.0 517.0 L208.3 516.5 L208.6 515.8 L208.9 515.4 L209.2 514.8 L209.6 514.5 L210.0 514.4 L210.4 513.9 L210.9 514.5 L211.4 514.4 L211.9 513.8 L212.4 514.3 L212.9 513.7 L213.4 514.1 L213.9 513.5 L214.4 513.6 L214.9 514.2 L215.4 514.8 L215.9 515.1 L216.4 514.2 L216.8 513.7 L217.4 513.9 L217.9 513.7 L218.3 513.3 L218.9 513.3 L219.4 513.2 L219.9 513.4 L220.4 513.2 L220.9 512.6 L221.5 512.6 L222.0 512.6 L222.5 512.9 L222.9 513.1 L223.4 513.6 L223.9 513.5 L224.4 513.6 L224.9 514.0 L225.4 513.9 L225.7 513.3 L226.1 512.8 L226.6 512.7 L227.1 512.6 L227.6 512.8 L228.0 512.5 L228.3 511.8 L228.7 511.2 L229.2 511.4 L229.7 511.3 L230.1 511.1 L230.5 510.5 L231.0 510.4 L231.5 510.3 L232.0 510.4 L232.5 510.0 L233.0 510.2 L233.5 509.6 L234.0 509.8 L234.5 509.6 L235.0 510.0 L235.5 509.2 L235.9 509.7 L236.5 509.5 L237.0 509.3 L237.5 509.8 L238.0 509.5 L238.5 509.7 L238.9 510.4 L239.4 510.3 L240.0 510.4 L240.5 509.9 L241.0 510.1 L241.4 510.6 L242.0 509.8 L242.5 510.4 L243.0 510.3 L243.5 510.1 L244.0 510.1 L244.5 510.3 L245.0 510.6 L245.5 510.6 L246.0 510.9 L246.5 511.4 L247.0 511.3 L247.6 511.2 L248.0 511.8 L248.5 512.5 L249.0 512.3 L249.4 513.1 L250.0 512.7 L250.5 512.9 L251.0 512.8 L251.5 512.9 L252.0 512.1 L252.5 512.3 L253.0 512.2 L253.5 512.3 L254.0 512.7 L254.5 512.7 L255.0 512.1 L255.5 512.3 L256.0 512.2 L256.5 511.8 L257.1 512.2 L257.6 511.7 L258.1 511.9 L258.6 511.4 L259.1 511.0 L259.5 510.4 L260.0 510.5 L260.6 510.4 L261.1 510.4 L261.5 509.8 L262.1 510.3 L262.5 509.5 L263.0 509.4 L263.6 510.3 L264.1 510.4 L264.6 509.9 L265.1 510.2 L265.6 509.7 L266.1 509.6 L266.5 509.0 L267.0 509.0 L267.6 508.9 L268.1 508.9 L268.6 509.0 L269.1 508.7 L269.6 508.4 L270.1 508.5 L270.6 507.9 L271.0 507.2 L271.5 507.1 L271.9 506.5 L272.4 506.6 L272.8 506.5 L273.3 506.2 L273.7 506.0 L274.2 505.6 L274.7 505.7 L275.1 505.4 L275.6 505.3 L276.0 505.2 L276.4 504.7 L276.9 504.6 L277.1 503.6 L277.6 503.7 L278.1 503.8 L278.4 503.3 L278.9 503.1 L279.2 502.7 L279.4 501.5 L279.8 501.3 L280.3 501.4 L280.6 500.8 L281.0 500.2 L281.5 500.0 L282.0 499.9 L282.5 499.8 L282.9 499.6 L283.4 499.4 L283.8 498.9 L284.3 498.7 L284.8 498.7 L285.2 498.0 L285.7 497.9 L286.2 498.0 L286.6 497.5 L287.2 497.6 L287.7 497.6 L288.2 497.5 L288.6 496.8 L289.1 496.7 L289.7 497.0 L290.2 496.9 L290.7 496.6 L291.2 497.2 L291.7 497.0 L292.2 496.5 L292.7 496.5 L293.2 497.0 L293.7 496.3 L294.2 495.9 L294.7 496.1 L295.2 495.8 L295.7 495.7 L296.2 495.1 L296.7 495.3 L297.2 495.3 L297.7 495.8 L298.2 495.7 L298.7 496.0 L299.2 495.7 L299.7 496.1 L300.2 495.6 L300.7 495.5 L301.2 495.4 L301.7 495.7 L302.2 495.3 L302.7 495.3 L303.2 495.4 L303.7 495.7 L304.3 495.5 L304.7 495.7 L305.2 496.1 L305.7 496.7 L306.2 496.2 L306.7 495.7 L307.2 495.8 L307.7 495.8 L308.2 495.8 L308.7 495.0 L309.2 495.2 L309.7 495.2 L310.2 495.1 L310.7 494.9 L311.2 495.2 L311.7 495.2 L312.2 495.4 L312.7 495.7 L313.3 495.2 L313.7 495.9 L314.2 496.3 L314.7 496.5 L315.2 496.4 L315.8 496.7 L316.2 496.4 L316.7 496.2 L317.2 496.0 L317.8 495.9 L318.2 495.5 L318.7 495.3 L319.3 495.7 L319.8 495.2 L320.3 495.2 L320.7 494.9 L321.2 495.3 L321.7 495.7 L322.2 495.3 L322.8 495.2 L323.2 496.0 L323.8 495.2 L324.3 495.2 L324.8 495.5 L325.2 496.2 L325.8 495.6 L326.3 495.9 L326.8 495.4 L327.3 495.6 L327.7 494.6 L328.3 495.2 L328.8 494.8 L329.3 494.6 L329.9 494.9 L330.3 494.1 L330.8 494.0 L331.3 494.0 L331.8 493.6 L332.3 493.3 L332.8 492.9 L333.3 493.1 L333.8 493.3 L334.3 492.8 L334.8 493.2 L335.3 492.5 L335.8 492.8 L336.3 492.7 L336.8 492.6 L337.3 492.1 L337.8 492.1 L338.3 492.1 L338.8 492.2 L339.3 492.3 L339.8 493.1 L340.3 492.7 L340.8 492.7 L341.3 492.7 L341.7 493.0 L342.0 493.8 L342.4 494.3 L342.9 494.2 L343.3 494.4 L343.8 494.4 L344.2 494.7 L344.6 495.2 L344.9 495.6 L345.1 496.2 L345.5 496.3 L345.5 497.1 L346.1 497.1 L346.1 497.9 L346.4 498.2 L346.6 498.9 L346.9 499.2 L347.1 499.7 L347.6 499.6 L348.2 498.9 L348.7 499.7 L349.3 499.6 L349.8 500.2 L350.3 500.9 L350.9 500.2 L351.4 500.6 L351.9 500.8 L352.4 500.2 L352.9 500.3 L353.3 499.3 L353.9 500.8 L354.4 499.9 L354.9 499.8 L355.4 500.1 L355.9 499.7 L356.4 499.6 L356.9 499.6 L357.4 499.6 L357.8 498.5 L358.3 498.3 L358.9 498.8 L359.4 499.1 L359.9 498.6 L360.3 498.1 L360.9 498.9 L361.4 498.9 L361.9 499.4 L362.4 499.7 L362.9 499.9 L363.4 499.6 L363.9 499.4 L364.4 500.6 L364.9 500.5 L365.4 500.9 L365.9 500.5 L366.4 500.5 L366.9 501.1 L367.4 500.6 L367.9 500.4 L368.4 501.1 L368.9 501.4 L369.4 501.8 L369.9 501.5 L370.4 502.2 L371.0 501.8 L371.4 501.6 L371.9 501.4 L372.2 500.5 L372.6 500.4 L373.0 500.1 L373.6 500.4 L373.9 499.5 L374.4 499.6 L374.7 498.7 L375.1 498.1 L375.5 497.9 L375.9 497.7 L376.4 497.4 L376.8 496.8 L377.2 496.6 L377.7 496.1 L378.2 496.0 L378.7 496.0 L379.2 495.9 L379.6 495.6 L380.1 495.4 L380.4 494.7 L380.9 494.6 L381.4 494.3 L382.0 494.5 L382.4 493.7 L382.8 492.9 L383.3 492.6 L383.9 492.5 L384.4 492.4 L384.9 492.4 L385.5 492.9 L386.0 493.0 L386.5 493.0 L387.1 493.5 L387.5 492.8 L388.0 492.7 L388.5 492.0 L389.0 491.5 L389.5 492.1 L390.0 491.6 L390.5 491.6 L391.0 491.7 L391.5 491.8 L392.0 491.3 L392.4 490.9 L392.8 490.6 L393.2 489.6 L393.6 489.4 L394.1 489.6 L394.6 489.3 L395.1 489.2 L395.6 489.3 L396.0 489.0 L396.5 488.8 L397.0 488.8 L397.4 488.3 L397.9 488.2 L398.3 487.3 L398.7 487.1 L399.2 486.8 L399.7 486.7 L400.1 486.4 L400.6 486.2 L401.0 485.6 L401.5 485.6 L402.0 484.8 L402.5 485.4 L403.0 485.2 L403.6 485.7 L404.1 485.7 L404.6 485.2 L405.1 485.7 L405.6 485.9 L406.0 484.8 L406.6 484.6 L407.1 484.8 L407.6 485.3 L408.1 485.5 L408.5 485.8 L409.0 486.1 L409.6 485.8 L410.0 486.4 L410.6 486.0 L411.1 486.4 L411.6 486.4 L412.0 487.3 L412.6 486.5 L413.1 487.1 L413.6 486.9 L414.1 487.3 L414.6 487.2 L415.1 487.4 L415.6 486.8 L416.1 487.2 L416.6 487.4 L417.1 487.3 L417.6 487.5 L418.1 488.2 L418.5 488.9 L419.0 488.7 L419.5 488.9 L420.1 488.2 L420.6 488.6 L421.1 488.4 L421.6 488.4 L422.1 488.0 L422.6 487.8 L423.1 487.4 L423.6 488.1 L424.1 487.5 L424.6 487.8 L425.1 487.0 L425.6 487.0 L426.1 487.0 L426.6 486.7 L427.1 486.8 L427.6 486.4 L428.1 486.7 L428.6 487.3 L429.1 487.0 L429.6 486.7 L430.1 486.6 L430.6 486.5 L431.1 486.8 L431.6 486.9 L432.1 486.6 L432.5 485.7 L433.1 486.6 L433.7 487.0 L434.2 486.8 L434.7 486.8 L435.1 485.7 L435.6 485.3 L436.1 485.7 L436.5 485.0 L437.1 485.4 L437.5 484.9 L438.2 485.8 L438.6 485.0 L439.0 484.7 L439.5 484.6 L439.8 483.8 L440.3 483.6 L440.8 483.7 L441.2 483.1 L441.8 483.4 L442.2 482.8 L442.7 483.1 L443.1 482.4 L443.5 481.6 L444.0 482.1 L444.4 481.6 L444.9 481.4 L445.3 480.7 L445.7 480.4 L446.2 480.2 L446.7 480.1 L447.2 479.7 L447.7 479.4 L448.3 479.9 L448.7 479.4 L449.2 479.0 L449.3 479.4 L449.5 479.9 L449.4 480.5 L449.4 481.1 L449.6 481.5 L449.7 482.1 L449.9 482.4 L449.8 483.1 L450.2 483.4 L450.3 483.9 L450.4 484.4 L450.5 484.9 L450.6 485.4 L450.6 486.0 L451.0 486.2 L451.3 486.6 L451.2 487.0 L451.7 487.1 L452.2 486.3 L452.6 486.0 L453.2 486.1 L453.7 486.4 L454.2 486.2 L454.7 486.0 L455.2 485.6 L455.7 485.1 L456.2 485.9 L456.7 485.5 L457.2 485.0 L457.7 485.3 L458.2 485.7 L458.7 485.1 L459.2 485.9 L459.7 485.0 L460.2 485.2 L460.7 485.2 L461.2 485.7 L461.8 485.3 L462.3 485.4 L462.9 485.6 L463.4 485.2 L464.0 485.8 L464.5 485.8 L465.0 486.0 L465.5 486.1 L466.0 485.8 L466.6 485.1 L467.1 485.2 L467.5 485.8 L468.0 486.2 L468.5 485.8 L469.0 486.6 L469.5 486.7 L470.0 486.6 L470.5 486.5 L471.0 486.5 L471.5 485.5 L472.0 485.9 L472.5 485.1 L473.0 485.0 L473.5 485.0 L474.0 485.4 L474.4 484.8 L474.9 484.8 L475.3 484.3 L475.7 483.8 L476.2 483.7 L476.6 483.2 L477.1 483.3 L477.6 483.2 L478.0 482.4 L478.6 482.9 L479.1 482.7 L479.5 482.3 L480.0 482.2 L480.4 482.1 L480.7 480.9 L481.3 481.4 L481.7 481.0 L482.2 480.7 L482.7 480.7 L483.2 481.0 L483.7 481.3 L484.1 480.7 L484.6 480.7 L485.1 480.1 L485.6 479.8 L486.1 480.3 L486.6 479.3 L487.1 479.1 L487.5 478.5 L488.0 478.1 L488.6 479.1 L489.1 479.0 L489.7 479.4 L490.1 478.9 L490.6 478.6 L491.2 479.1 L491.6 478.5 L492.1 478.2 L492.6 477.7 L493.2 478.5 L493.7 477.9 L494.1 477.3 L494.6 477.1 L495.2 477.7 L495.6 476.8 L496.2 477.8 L496.6 476.5 L497.1 476.3 L497.7 476.8 L498.1 475.9 L498.6 475.4 L499.1 475.6 L499.4 474.8 L499.9 474.9 L500.4 474.9 L500.7 474.3 L501.2 474.1 L501.7 474.4 L502.0 473.6 L502.4 472.9 L502.8 472.8 L503.1 471.8 L503.6 471.8 L504.1 471.7 L504.6 471.7 L505.0 471.6 L505.4 470.7 L505.9 470.5 L506.4 470.7 L506.9 470.4 L507.4 470.7 L507.8 469.9 L508.1 468.8 L508.7 469.0 L509.1 468.7 L509.6 468.5 L510.1 468.6 L510.4 468.1 L510.8 467.7 L511.3 467.6 L511.8 467.6 L512.3 467.5 L512.6 466.8 L512.9 466.0 L513.3 465.7 L514.0 466.4 L514.2 465.4 L514.6 464.7 L515.1 464.4 L515.6 464.6 L516.0 464.0 L516.5 463.6 L517.0 463.5 L517.5 463.3 L518.0 462.8 L518.6 462.6 L518.8 463.5 L519.3 463.7 L519.5 465.1 L519.9 465.3 L520.6 464.7 L521.0 465.0 L521.4 465.5 L521.6 466.7 L522.1 466.6 L522.5 466.9 L523.0 467.3 L523.4 466.9 L523.8 466.3 L524.1 465.1 L524.7 465.4 L525.1 464.9 L525.5 464.5 L525.9 463.8 L526.5 464.3 L527.0 464.2 L527.4 463.7 L528.0 463.8 L528.5 463.6 L529.0 463.4 L529.5 464.4 L530.0 464.4 L530.5 464.2 L531.0 464.1 L531.5 464.6 L532.0 463.9 L532.5 463.2 L533.0 463.2 L533.5 463.0 L534.0 463.4 L534.5 463.2 L535.0 464.2 L535.5 464.3 L535.9 464.6 L536.5 464.6 L536.9 464.9 L537.5 464.9 L537.9 465.2 L538.2 466.5 L538.8 465.8 L539.3 465.6 L539.8 466.0 L540.3 465.9 L540.6 467.2 L541.0 467.2 L541.6 467.1 L542.1 466.9 L542.5 467.2 L543.0 467.2 L543.4 467.5 L543.8 467.8 L544.1 468.3 L544.5 468.6 L545.0 468.7 L545.2 469.5 L545.7 469.5 L546.1 470.0 L546.6 469.8 L546.9 470.4 L547.4 470.3 L547.7 470.8 L548.0 471.4 L548.6 471.2 L549.1 471.3 L549.6 471.5 L550.1 471.7 L550.5 472.1 L550.8 471.6 L551.1 471.1 L551.5 471.0 L551.7 470.4 L552.0 469.9 L552.4 469.8 L552.6 469.0 L553.0 469.0 L553.2 468.4 L553.5 467.8 L553.7 467.3 L554.3 467.4 L554.3 466.7 L554.8 466.6 L555.2 466.9 L555.6 467.4 L556.1 467.6 L556.5 468.1 L557.0 468.3 L557.5 468.2 L557.9 468.8 L558.4 468.3 L558.9 468.5 L559.3 468.9 L559.8 469.0 L560.3 468.4 L560.8 468.8 L561.3 468.8 L561.8 468.1 L562.3 469.1 L562.8 468.9 L563.3 468.8 L563.8 468.5 L564.3 468.8 L564.8 468.1 L565.3 468.2 L565.8 468.4 L566.3 467.6 L566.8 467.8 L567.3 467.6 L567.9 467.8 L568.4 468.0 L568.9 467.5 L569.3 467.0 L569.8 466.5 L570.2 466.1 L570.7 466.3 L571.3 466.4 L571.7 466.1 L572.1 465.3 L572.5 464.9 L572.9 464.3 L573.3 463.9 L573.7 463.0 L574.3 463.5 L574.7 462.8 L575.2 463.2 L575.7 463.0 L576.3 463.4 L576.7 463.3 L577.2 462.9 L577.6 462.3 L578.1 462.4 L578.5 462.1 L579.0 462.0 L579.4 461.7 L579.9 461.9 L580.4 460.9 L580.9 461.5 L581.4 461.0 L581.9 460.7 L582.4 460.9 L582.9 461.3 L583.4 461.0 L583.9 461.4 L584.4 460.8 L584.9 460.2 L585.5 460.6 L586.0 460.7 L586.5 460.7 L587.0 460.5 L587.5 460.4 L587.9 459.5 L588.5 459.8 L589.0 459.9 L589.5 459.1 L589.9 458.9 L590.2 457.9 L590.7 457.9 L591.0 457.3 L591.4 457.0 L592.0 456.9 L592.4 457.0 L592.9 457.3 L593.3 457.5 L593.9 457.0 L594.2 457.6 L594.6 458.1 L595.1 458.3 L595.5 458.6 L595.8 459.1 L596.3 459.4 L596.6 459.9 L597.0 460.5 L597.5 460.0 L598.0 460.7 L598.5 461.3 L599.1 461.0 L599.6 461.4 L600.2 461.4 L600.7 461.4 L601.0 460.5 L601.5 460.7 L601.9 460.1 L602.4 460.4 L602.5 458.7 L603.0 458.8 L603.5 458.7 L604.0 458.7 L604.5 458.7 L605.0 458.4 L605.5 458.9 L606.0 458.4 L606.4 457.6 L607.0 458.4 L607.5 457.8 L608.0 458.3 L608.4 457.3 L609.0 457.9 L609.5 457.9 L610.0 457.6 L610.5 457.7 L611.0 457.2 L611.5 456.9 L612.0 456.9 L612.5 456.2 L613.0 456.6 L613.5 455.9 L614.0 456.0 L614.5 456.3 L615.1 456.2 L615.5 456.9 L616.0 457.5 L616.5 457.5 L617.0 457.2 L617.6 457.0 L618.0 457.7 L618.7 456.6 L619.1 457.2 L619.5 458.1 L620.0 458.2 L620.5 458.5 L621.1 457.7 L621.6 457.5 L622.1 458.1 L622.6 458.2 L623.1 458.1 L623.6 458.6 L624.0 459.6 L624.6 458.8 L625.1 458.6 L625.5 459.8 L626.1 458.4 L626.6 458.5 L627.1 459.1 L627.5 459.8 L628.1 459.6 L628.6 459.7 L629.1 458.6 L629.5 459.1 L630.1 459.3 L630.6 459.2 L631.1 459.4 L631.6 458.9 L632.1 459.4 L632.6 459.4 L633.1 459.6 L633.6 459.1 L634.1 458.7 L634.6 458.9 L635.2 459.3 L635.6 458.6 L636.1 458.5 L636.5 458.1 L636.9 457.4 L637.4 457.7 L637.9 457.5 L638.3 456.9 L638.6 456.0 L639.2 456.0 L639.6 455.6 L640.1 455.6 L640.6 456.9 L641.2 456.5 L641.7 456.5 L642.3 456.4 L642.8 456.8 L643.4 456.4 L643.8 456.7 L644.1 457.2 L644.6 457.2 L644.8 458.0 L645.2 458.3 L645.6 458.5 L646.0 459.0 L646.2 460.0 L646.6 460.2 L647.0 460.4 L647.3 460.9 L647.5 461.3 L647.8 461.8 L648.0 462.5 L648.4 462.8 L648.6 463.3 L649.0 463.6 L649.3 463.9 L649.5 464.5 L650.0 464.4 L650.4 464.7 L650.7 465.1 L650.9 465.6 L651.4 465.8 L651.6 466.9 L652.2 466.7 L652.6 467.1 L653.0 467.6 L653.4 467.9 L653.7 468.5 L654.2 468.5 L654.7 468.9 L655.2 468.8 L655.8 468.7 L656.3 469.2 L656.8 469.5 L657.4 469.6 L657.9 469.9 L658.4 470.2 L658.9 470.1 L659.2 469.8 L659.4 469.2 L659.6 468.5 L659.8 467.9 L660.1 467.6 L660.5 467.4 L660.9 467.1 L661.0 466.2 L661.2 465.5 L661.7 465.7 L662.0 465.9 L662.1 466.5 L662.3 467.0 L662.7 467.2 L662.8 467.9 L662.8 468.6 L663.2 468.8 L663.2 469.5 L663.5 469.8 L663.7 470.3 L664.0 470.7 L664.1 471.3 L664.4 471.6 L664.5 472.2 L664.7 472.7 L665.1 473.5 L665.6 473.5 L666.2 473.1 L666.6 474.1 L667.2 473.7 L667.7 473.8 L668.2 474.3 L668.7 474.3 L669.2 474.9 L669.7 475.0 L670.2 474.9 L670.7 474.8 L671.2 474.8 L671.7 474.8 L672.3 475.2 L672.8 475.3 L673.3 475.1 L673.8 475.0 L674.2 474.3 L674.7 474.0 L675.2 474.2 L675.5 472.8 L676.0 472.7 L676.5 472.8 L677.1 473.2 L677.5 472.7 L678.0 472.7 L678.4 472.3 L678.9 472.4 L679.3 471.8 L679.7 471.4 L680.2 471.1 L680.6 470.6 L681.1 470.3 L681.6 470.4 L682.0 469.6 L682.5 469.6 L683.0 469.6 L683.3 468.6 L683.8 468.7 L684.3 468.3 L684.7 468.0 L685.2 467.1 L685.7 467.7 L686.2 467.5 L686.8 467.4 L687.3 467.3 L687.7 466.9 L688.3 466.8 L688.7 466.3 L689.3 466.4 L689.8 466.1 L690.3 466.1 L690.8 466.2 L691.3 465.8 L691.8 466.1 L692.3 466.1 L692.8 466.8 L693.3 466.4 L693.8 466.2 L694.3 465.7 L694.8 465.4 L695.3 465.6 L695.7 466.2 L696.2 466.0 L696.7 466.3 L697.0 467.0 L697.6 466.8 L697.9 467.7 L698.4 467.5 L698.9 467.6 L699.4 467.7 L699.8 468.3 L700.3 468.7 L700.7 469.4 L701.3 469.2 L701.8 469.0 L702.4 468.9 L702.8 469.7 L703.2 470.3 L703.8 470.1 L704.3 470.2 L704.8 470.1 L705.4 469.9 L705.8 470.4 L706.3 471.3 L706.7 471.9 L707.3 471.5 L707.8 472.0 L708.3 471.8 L708.8 471.8 L709.3 472.2 L709.8 472.4 L710.2 472.9 L710.8 472.6 L711.2 473.0 L711.7 473.2 L712.1 473.6 L712.5 473.9 L713.0 473.8 L713.6 473.6 L713.9 474.4 L714.5 474.0 L714.9 474.5 L715.4 474.3 L716.0 474.0 L716.3 475.6 L716.9 475.2 L717.4 475.7 L717.9 475.8 L718.4 475.9 L718.8 476.7 L719.3 476.9 L719.9 476.6 L720.4 476.6 L720.9 476.4 L721.2 475.5 L721.7 475.4 L722.1 475.2 L722.5 474.4 L723.0 474.6 L723.6 475.1 L724.0 474.4 L724.4 474.0 L724.9 473.9 L725.3 473.6 L725.7 473.4 L726.1 473.3 L726.4 472.6 L726.8 472.5 L727.0 471.7 L727.4 471.4 L727.9 471.5 L728.2 471.0 L728.3 469.9 L728.9 470.2 L729.2 469.6 L729.6 469.4 L729.9 469.1 L730.4 468.2 L730.9 468.7 L731.4 467.9 L731.9 468.3 L732.4 467.4 L732.9 467.4 L733.4 467.3 L733.9 467.5 L734.4 467.2 L734.9 467.0 L735.4 466.4 L735.8 466.0 L736.4 466.5 L736.9 466.3 L737.4 466.0 L738.0 466.2 L738.5 466.0 L739.1 466.5 L739.5 465.5 L739.9 465.1 L740.4 465.0 L740.8 464.7 L741.2 464.1 L741.7 464.1 L742.1 463.9 L742.5 463.5 L742.7 462.0 L743.2 462.1 L743.6 461.8 L744.2 462.3 L744.6 462.0 L745.0 461.4 L745.4 461.3 L745.7 460.7 L746.0 460.3 L746.2 459.4 L746.6 459.2 L746.9 458.6 L747.5 458.6 L748.0 458.5 L748.5 458.7 L748.9 459.4 L749.4 459.8 L749.8 459.9 L750.3 460.0 L750.8 460.0 L751.2 460.4 L751.7 460.5 L752.2 460.7 L752.7 460.1 L753.1 459.6 L753.6 459.5 L754.1 459.6 L754.5 459.3 L755.0 458.6 L755.5 458.4 L756.0 458.7 L756.5 458.4 L757.0 458.3 L757.5 457.5 L757.9 457.2 L758.4 457.2 L759.0 457.3 L759.4 456.8 L760.0 457.3 L760.5 456.5 L761.0 456.4 L761.5 455.7 L762.0 456.6 L762.5 456.3 L763.0 456.6 L763.5 457.0 L764.0 456.8 L764.5 457.1 L765.0 457.2 L765.5 456.7 L766.0 456.8 L766.6 456.7 L767.0 455.8 L767.5 455.8 L768.0 455.5 L768.6 455.8 L769.0 455.0 L769.5 454.9 L770.0 455.0 L770.6 455.5 L771.1 455.7 L771.6 454.8 L772.1 455.4 L772.6 454.5 L773.1 455.1 L773.6 454.9 L774.1 454.7 L774.6 454.6 L775.1 453.9 L775.6 453.9 L776.1 454.0 L776.6 454.2 L776.9 453.5 L777.2 452.5 L777.6 452.2 L777.9 451.3 L778.5 451.8 L778.8 451.0 L779.1 450.1 L779.7 450.8 L780.1 450.2 L780.6 450.2 L781.1 450.1 L781.5 449.4 L782.1 450.0 L782.6 449.9 L783.0 449.5 L783.4 449.0 L783.8 448.2 L784.2 447.8 L784.6 447.2 L785.1 447.1 L785.6 447.3 L786.1 446.9 L786.5 446.4 L786.9 446.2 L787.6 447.2 L787.9 446.3 L788.4 446.4 L788.9 446.3 L789.4 446.2 L789.9 446.2 L790.1 444.9 L790.7 445.0 L791.2 445.1 L791.7 445.4 L792.2 445.1 L792.7 444.5 L793.2 444.3 L793.7 444.5 L794.2 443.7 L794.7 443.6 L795.1 443.0 L795.7 442.4 L796.2 441.8 L796.7 442.4 L797.3 442.1 L797.8 441.7 L798.3 442.1 L798.9 442.5 L799.4 442.9 L800.0 442.2 L800.3 443.2 L800.8 443.5 L801.2 444.1 L801.7 444.3 L802.2 444.4 L802.7 444.4 L803.1 443.7 L803.7 444.1 L804.2 445.0 L804.7 444.6 L805.1 442.8 L805.7 443.8 L806.2 443.7 L806.7 443.4 L807.1 442.9 L807.7 443.5 L808.3 442.9 L808.7 443.9 L809.2 444.5 L809.7 444.0 L810.2 444.1 L810.7 444.7 L811.2 445.2 L811.7 444.5 L812.2 444.9 L812.7 445.3 L813.2 444.8 L813.7 444.8 L814.2 444.5 L814.7 443.9 L815.2 444.0 L815.7 444.2 L816.3 444.2 L816.7 443.7 L817.2 443.2 L817.7 442.9 L818.1 442.5 L818.4 441.9 L818.9 441.9 L819.3 441.4 L819.7 441.0 L820.2 440.8 L820.6 440.6 L821.1 440.7 L821.4 440.2 L821.8 440.5 L822.2 440.9 L822.6 441.3 L823.1 441.0 L823.4 441.9 L823.8 442.2 L824.2 442.5 L824.6 442.8 L825.0 443.1 L825.2 443.6 L825.8 443.6 L826.4 443.5 L826.9 444.0 L827.4 444.5 L828.0 444.0 L828.5 444.2 L829.0 444.2 L829.5 443.9 L830.0 444.6 L830.5 445.1 L831.0 444.5 L831.5 444.8 L832.1 444.2 L832.6 444.5 L833.0 444.9 L833.3 444.2 L833.9 444.4 L834.3 443.9 L834.7 443.7 L835.3 443.9 L835.8 444.4 L836.2 443.9 L836.6 443.2 L837.2 443.6 L837.5 442.7 L838.0 442.9 L838.5 442.5 L839.0 443.5 L839.5 443.2 L840.0 443.0 L840.5 444.3 L841.0 443.7 L841.5 443.5 L842.0 443.6 L842.6 443.0 L843.0 443.4 L843.5 443.7 L844.1 443.5 L844.6 443.5 L845.1 443.1 L845.6 443.0 L846.1 443.1 L846.6 443.5 L847.1 443.9 L847.6 444.2 L848.1 443.9 L848.7 443.7 L849.1 444.5 L849.5 445.0 L850.0 445.2 L850.6 445.2 L851.0 445.4 L851.0 446.4 L851.3 446.7 L851.5 447.2 L851.9 447.5 L852.0 448.1 L852.4 448.4 L852.8 448.5 L853.0 449.1 L853.1 449.7 L853.4 449.3 L853.8 449.0 L854.0 448.3 L854.3 447.6 L854.8 447.8 L855.1 447.3 L855.6 447.4 L856.1 447.2 L856.3 446.4 L856.5 445.7 L856.8 445.2 L857.2 445.1 L857.6 444.6 L857.9 444.0 L858.2 443.5 L858.5 443.1 L859.0 443.2 L859.5 443.2 L859.7 442.4 L860.0 441.9 L860.4 441.6 L860.9 441.8 L861.2 441.2 L861.5 440.6 L861.8 440.1 L862.2 439.8 L862.5 438.8 L862.9 438.5 L863.5 438.8 L864.0 438.8 L864.4 438.6 L864.8 438.2 L865.0 436.9 L865.5 437.0 L866.0 437.0 L866.5 436.8 L866.9 436.7 L867.5 437.1 L867.9 436.5 L868.2 435.9 L868.5 434.9 L868.9 434.6 L869.5 435.0 L870.0 435.0 L870.4 434.8 L870.7 434.1 L871.1 433.5 L871.7 434.0 L871.9 433.0 L872.5 433.5 L873.0 433.2 L873.4 432.9 L873.9 432.1 L874.5 432.7 L875.0 432.9 L875.4 432.0 L876.0 432.4 L876.5 432.3 L877.0 431.7 L877.2 431.0 L877.8 431.3 L877.7 430.2 L877.9 429.5 L878.4 429.5 L878.7 429.2 L879.1 428.9 L879.1 428.0 L879.4 427.6 L879.6 427.0 L879.7 426.2 L880.0 425.9 L880.4 425.7 L880.7 425.3 L880.8 424.5 L881.2 424.2 L881.4 423.7 L881.7 423.2 L882.1 423.0 L882.2 422.3 L882.6 422.1 L882.8 421.5 L883.1 421.1 L883.5 420.8 L883.7 420.3 L884.0 421.5 L884.7 420.9 L885.2 420.9 L885.7 420.7 L886.2 421.5 L886.7 421.7 L887.1 422.3 L887.7 422.1 L888.2 422.5 L888.7 422.2 L889.2 422.0 L889.7 422.0 L890.2 421.6 L890.7 420.7 L891.2 420.9 L891.7 421.0 L892.2 421.3 L892.7 421.2 L893.2 421.5 L893.7 421.3 L894.1 421.1 L894.5 420.5 L894.7 419.6 L895.2 419.4 L895.6 419.2 L896.1 419.2 L896.6 419.5 L897.0 418.9 L897.0 417.9 L897.5 417.7 L897.9 417.5 L898.3 417.4 L898.6 416.9 L898.8 416.3 L899.0 415.5 L899.4 415.3 L899.7 414.9 L900.0 414.5 L900.5 414.5 L900.8 413.9 L901.3 413.9 L901.2 414.9 L901.3 415.7 L901.7 416.0 L901.9 416.5 L902.1 417.1 L902.8 416.8 L903.0 417.4 L903.1 418.2 L903.3 418.7 L903.7 419.0 L904.0 419.3 L904.0 420.3 L904.5 420.2 L905.0 420.8 L905.5 421.6 L906.1 421.5 L906.7 421.0 L907.1 421.7 L907.6 422.3 L908.3 421.4 L908.6 421.9 L909.0 422.2 L909.5 422.2 L909.7 423.1 L910.2 423.2 L910.3 424.5 L910.9 424.2 L911.4 424.2 L911.6 425.1 L912.0 425.2 L912.4 424.8 L912.9 425.0 L913.3 424.6 L913.6 423.8 L913.9 423.2 L914.2 422.8 L914.6 422.5 L914.9 421.8 L915.5 422.1 L915.8 421.4 L916.4 421.0 L916.9 421.2 L917.4 421.7 L918.1 421.2 L918.5 421.8 L919.0 422.7 L919.6 422.7 L919.9 422.2 L920.3 421.8 L920.7 421.6 L921.3 421.9 L921.6 421.3 L921.9 420.8 L922.2 420.2 L922.7 420.1 L923.0 419.4 L923.3 419.2 L923.9 420.0 L924.3 418.9 L924.8 418.3 L925.3 418.7 L925.8 418.5 L926.3 417.8 L926.8 417.9 L927.3 417.8 L927.8 417.8 L928.4 418.0 L928.9 418.1 L929.4 418.2 L929.9 418.0 L930.3 418.6 L930.8 419.4 L931.4 418.7 L931.9 418.3 L932.3 419.2 L932.9 417.9 L933.3 418.6 L933.7 418.0 L934.3 418.3 L934.7 417.7 L935.1 417.5 L935.7 417.9 L936.0 416.8 L936.4 416.0 L937.0 416.5 L937.5 416.6 L937.8 415.3 L938.3 415.4 L938.8 414.9 L939.4 415.4 L939.9 415.1 L940.4 415.6 L940.9 414.8 L941.4 415.0 L941.8 413.9 L942.2 412.8 L942.9 413.9 L943.3 413.7 L943.7 413.2 L944.0 412.2 L944.5 412.5 L945.0 412.5 L945.2 411.3 L945.7 411.4 L946.2 411.1 L946.6 410.9 L947.2 411.1 L947.6 410.9 L948.1 410.8 L948.5 409.9 L948.8 410.9 L949.3 411.0 L949.8 410.6 L950.3 410.9 L950.6 411.9 L951.0 412.6 L951.5 412.4 L951.9 413.1 L952.4 413.3 L952.9 412.9 L953.4 412.5 L953.7 411.8 L954.0 411.3 L954.7 411.9 L955.2 412.1 L955.5 411.5 L955.8 411.0 L956.1 410.3 L956.4 409.6 L956.8 409.2 L957.3 409.1 L957.6 408.7 L958.2 409.0 L958.4 408.2 L959.0 408.6 L959.5 408.4 L959.8 407.2 L960.4 407.8 L960.9 407.8 L961.2 406.4 L961.7 406.4 L962.2 406.7 L962.5 405.5 L963.0 405.3 L963.5 405.3 L963.9 405.1 L964.2 404.7 L964.4 404.0 L964.8 403.6 L965.1 403.3 L965.6 403.3 L965.5 401.8 L966.1 402.1 L966.2 401.1 L966.7 401.1 L966.8 400.3 L967.3 400.2 L967.8 400.2 L967.6 399.0 L968.0 398.8 L968.1 398.1 L968.3 397.6 L968.5 397.1 L968.9 396.8 L969.1 396.3 L969.3 395.9 L969.5 395.3 L969.8 394.9 L970.1 394.6 L970.0 393.5 L970.2 393.0 L970.7 392.9 L971.0 392.6 L971.4 392.6 L971.7 392.1 L971.9 391.3 L972.1 390.5 L972.5 390.4 L972.8 390.1 L973.0 389.5 L973.3 388.9 L973.8 389.0 L974.0 388.4 L974.6 388.8 L974.8 388.0 L975.3 388.2 L975.6 387.8 L975.8 387.1 L976.0 386.2 L976.4 386.0 L976.9 386.3 L977.2 385.6 L977.7 385.6 L978.1 385.5 L978.6 385.3 L978.9 384.7 L979.2 384.1 L979.5 383.5 L980.0 383.7 L980.5 383.5 L980.9 383.3 L981.2 382.6 L981.7 382.7 L982.1 382.5 L982.1 380.7 L982.4 380.1 L982.7 379.4 L983.3 379.7 L983.6 379.2 L984.0 379.1 L984.5 378.8 L984.8 378.5 L985.2 377.8 L985.5 377.4 L986.0 377.4 L986.5 377.3 L986.8 376.7 L987.0 375.9 L987.4 375.7 L987.8 375.3 L988.2 375.0 L988.3 373.6 L988.8 373.8 L989.4 373.9 L989.7 373.6 L989.8 372.7 L990.1 372.4 L990.2 371.6 L990.6 371.3 L991.1 371.4 L991.3 370.8 L991.3 369.9 L991.6 369.4 L992.3 370.1 L992.7 370.3 L992.7 371.0 L993.0 371.5 L993.0 372.3 L993.2 372.9 L993.4 373.4 L993.8 373.5 L994.3 373.6 L994.5 374.2 L994.6 374.8 L994.8 375.4 L995.2 375.6 L995.5 375.9 L995.8 376.3 L995.7 377.3 L996.1 377.6 L996.6 377.7 L997.1 378.3 L997.7 377.6 L998.4 377.0 L998.9 377.5 L999.4 377.4 L999.9 378.8 L999.9 379.3 L999.9 380.0 L1000.5 380.1 L1000.4 380.8 L1000.8 381.0 L1001.0 381.5 L1001.0 382.1 L1000.8 382.8 L1001.0 383.3 L1001.1 383.9 L1001.6 384.0 L1001.9 384.3 L1001.8 385.0 L1001.9 385.6 L1002.0 386.1 L1001.9 386.8 L1002.0 387.3 L1002.4 387.7 L1002.7 387.4 L1002.9 386.8 L1002.9 386.2 L1003.1 385.7 L1003.4 385.3 L1003.5 384.7 L1003.7 384.2 L1003.9 383.7 L1003.9 383.0 L1004.2 382.7 L1004.4 382.2 L1004.4 381.4 L1004.8 381.1 L1005.0 380.7 L1005.4 380.5 L1005.5 379.6 L1005.9 379.4 L1006.4 379.6 L1006.9 379.6 L1006.9 378.6 L1007.4 378.7 L1007.2 377.7 L1007.4 378.2 L1007.4 378.9 L1007.6 379.4 L1007.8 379.8 L1008.0 380.3 L1008.2 380.7 L1008.6 381.1 L1008.6 381.6 L1009.1 381.8 L1009.1 382.5 L1009.3 383.0 L1009.6 383.3 L1009.5 384.1 L1009.8 384.5 L1009.8 385.1 L1009.8 385.7 L1010.0 386.1 L1010.0 386.7 L1010.1 387.2 L1010.4 387.6 L1010.4 388.2 L1010.6 388.6 L1010.6 389.1 L1010.8 389.6 L1010.9 390.1 L1010.9 390.6 L1011.0 391.2 L1011.2 391.6 L1011.4 392.0 L1011.3 392.7 L1011.4 393.1 L1011.4 393.8 L1011.6 394.2 L1011.9 394.5 L1011.8 395.2 L1012.1 395.6 L1012.1 396.1 L1012.4 396.5 L1012.1 397.2 L1012.5 397.8 L1012.7 397.3 L1012.8 396.7 L1013.1 396.3 L1013.2 395.8 L1013.4 395.3 L1013.5 394.7 L1013.9 394.5 L1013.7 393.5 L1014.0 393.1 L1014.6 393.2 L1014.7 392.6 L1014.5 391.6 L1015.1 391.3 L1015.1 391.8 L1015.1 392.4 L1014.9 393.0 L1014.9 393.5 L1015.0 394.0 L1015.1 394.5 L1015.0 395.1 L1014.9 395.6 L1015.0 396.2 L1015.2 396.6 L1015.6 397.0 L1015.5 397.6 L1015.2 398.2 L1015.4 398.7 L1015.8 399.0 L1015.8 399.6 L1015.8 400.1 L1016.1 400.5 L1016.2 401.0 L1016.4 401.5 L1016.2 402.1 L1016.2 402.6 L1016.0 403.3 L1016.3 403.7 L1016.4 404.2 L1016.3 404.8 L1016.6 405.2 L1016.6 405.7 L1017.0 406.1 L1016.8 406.7 L1017.1 407.1 L1017.2 407.6 L1017.2 408.1 L1016.9 408.7 L1017.3 409.1 L1017.4 409.6 L1017.4 410.2 L1017.6 410.6 L1017.3 411.2 L1017.6 411.6 L1017.9 412.1 L1017.7 412.7 L1018.0 413.1 L1018.0 413.6 L1017.8 414.2 L1017.9 414.7 L1018.0 415.2 L1018.3 415.6 L1018.1 416.2 L1018.3 416.7 L1018.5 417.1 L1018.4 417.7 L1018.4 418.2 L1018.4 418.7 L1018.6 419.2 L1018.4 419.8 L1018.6 420.2 L1018.7 420.7 L1018.7 421.2 L1018.8 421.7 L1018.9 422.2 L1019.0 422.7 L1019.0 423.2 L1019.2 423.7 L1019.4 424.1 L1019.1 424.7 L1019.1 425.2 L1019.2 425.7 L1019.2 426.2 L1019.4 426.7 L1019.3 427.2 L1019.5 427.7 L1019.5 428.2 L1019.3 428.8 L1019.3 429.3 L1019.4 429.8 L1019.4 430.3 L1019.2 430.9 L1019.4 431.3 L1019.5 431.8 L1019.6 432.3 L1019.7 432.8 L1019.6 433.3 L1019.7 433.8 L1020.0 434.2 L1019.8 434.8 L1020.0 435.3 L1020.1 435.7 L1020.0 436.3 L1020.0 436.8 L1020.2 437.2 L1020.3 437.7 L1020.4 438.2 L1020.3 438.8 L1020.2 439.3 L1020.4 439.8 L1020.5 440.3 L1020.7 440.7 L1020.6 441.3 L1020.7 441.8 L1020.8 442.2 L1020.7 442.8 L1020.9 443.2 L1020.6 443.8 L1020.7 444.3 L1021.0 444.7 L1021.3 445.2 L1021.0 445.8 L1021.1 446.3 L1021.1 446.8 L1021.2 447.3 L1021.5 447.7 L1021.5 448.2 L1021.5 448.7 L1021.3 449.3 L1021.3 449.8 L1021.5 450.3 L1021.3 450.8 L1021.6 451.3 L1021.5 451.8 L1021.7 452.3 L1021.8 452.8 L1021.8 453.3 L1021.7 453.8 L1021.9 454.3 L1022.0 454.8 L1022.0 455.3 L1022.1 455.8 L1022.1 456.3 L1021.9 456.9 L1022.2 457.3 L1022.4 457.8 L1022.3 458.3 L1022.1 458.9 L1022.1 459.4 L1022.4 459.8 L1022.3 460.4 L1022.5 460.9 L1022.4 461.4 L1022.3 462.0 L1022.4 462.5 L1022.6 462.9 L1022.7 463.5 L1022.7 464.0 L1022.8 464.5 L1022.8 465.0 L1023.0 465.5 L1023.0 466.0 L1023.0 466.5 L1023.1 467.1 L1023.1 467.6 L1023.5 468.0 L1023.6 468.5 L1023.7 469.0 L1023.7 469.5 L1023.4 470.1 L1023.4 470.7 L1023.6 471.2 L1023.6 471.7 L1023.7 472.2 L1023.8 472.7 L1023.8 473.2 L1023.9 473.7 L1024.2 474.1 L1024.5 473.8 L1024.8 473.5 L1024.6 472.6 L1024.9 472.3 L1025.1 471.8 L1025.3 471.3 L1025.4 470.8 L1025.7 470.4 L1025.9 469.9 L1025.8 469.4 L1026.0 468.9 L1026.1 468.4 L1026.0 467.9 L1025.9 467.3 L1025.9 466.8 L1025.8 466.2 L1026.0 465.8 L1025.9 465.2 L1026.1 464.7 L1026.1 464.2 L1026.2 463.7 L1026.3 463.3 L1026.1 462.7 L1026.5 462.3 L1026.3 461.7 L1026.4 461.2 L1026.4 460.7 L1026.6 460.2 L1026.7 459.7 L1026.7 459.2 L1026.7 458.7 L1026.8 458.2 L1026.8 457.6 L1026.8 457.1 L1026.8 456.6 L1026.9 456.1 L1027.1 455.6 L1027.1 455.1 L1027.1 454.6 L1027.1 454.1 L1027.0 453.5 L1027.0 453.0 L1027.1 452.5 L1027.2 452.0 L1027.5 451.5 L1027.4 452.2 L1027.3 452.8 L1027.5 453.3 L1027.9 453.5 L1027.9 454.0 L1028.2 454.4 L1028.2 455.0 L1028.2 455.6 L1028.3 456.0 L1028.4 456.6 L1028.7 456.9 L1029.0 457.3 L1028.9 457.9 L1029.0 458.4 L1029.0 459.0 L1029.3 459.4 L1029.0 460.1 L1029.1 460.6 L1029.4 461.0 L1029.5 461.5 L1029.8 461.8 L1030.0 462.3 L1029.9 462.8 L1030.4 463.0 L1030.3 463.9 L1030.9 463.8 L1031.0 464.4 L1031.4 464.7 L1031.5 465.2 L1031.6 465.9 L1031.9 466.3 L1032.0 466.9 L1032.1 467.6 L1032.4 467.8 L1032.6 467.4 L1032.7 466.8 L1032.6 466.1 L1033.0 465.9 L1033.0 465.3 L1033.1 464.7 L1033.4 464.4 L1033.6 464.0 L1033.8 463.5 L1033.9 463.0 L1033.9 462.5 L1034.2 462.1 L1033.9 461.1 L1034.2 460.8 L1034.5 460.5 L1034.8 460.2 L1034.8 459.5 L1035.0 459.1 L1035.4 458.9 L1035.7 458.4 L1036.1 458.2 L1036.2 457.3 L1036.4 456.6 L1036.8 456.5 L1037.1 456.1 L1037.5 455.9 L1037.6 455.0 L1038.0 454.6 L1038.3 454.2 L1038.7 454.0 L1039.1 453.9 L1039.3 453.2 L1039.5 452.8 L1039.6 452.1 L1040.0 451.8 L1040.1 451.2 L1040.2 450.5 L1040.4 449.9 L1040.8 449.8 L1041.0 449.3 L1041.0 448.5 L1041.4 448.1 L1041.6 447.7 L1042.0 447.5 L1042.3 447.2 L1042.5 446.6 L1042.8 445.9 L1043.1 445.6 L1043.6 445.5 L1044.0 445.5 L1044.3 444.7 L1044.6 444.3 L1045.0 444.0 L1045.2 444.5 L1045.3 445.0 L1045.5 445.5 L1045.6 446.1 L1045.5 446.9 L1045.7 447.4 L1045.8 448.0 L1046.0 448.4 L1046.2 448.9 L1046.6 449.1 L1046.7 449.8 L1047.3 449.8 L1047.0 450.8 L1047.3 451.1 L1047.5 451.5 L1047.9 451.8 L1048.1 452.4 L1048.7 452.0 L1048.8 452.9 L1049.0 453.4 L1049.4 453.7 L1049.5 454.3 L1049.7 455.0 L1050.1 455.2 L1050.5 455.5 L1050.6 456.1 L1050.7 456.8 L1050.6 457.8 L1051.1 457.8 L1051.4 458.3 L1051.7 458.6 L1051.7 459.4 L1052.0 459.7 L1052.4 459.9 L1052.7 460.3 L1052.8 461.0 L1053.1 461.4 L1053.1 462.2 L1053.4 462.6 L1053.8 462.9 L1054.0 462.3 L1054.4 462.2 L1054.5 461.5 L1054.9 461.3 L1054.9 460.4 L1055.0 459.7 L1055.2 459.2 L1055.8 459.4 L1055.8 458.5 L1056.1 458.1 L1056.4 457.8 L1056.5 457.1 L1056.9 456.8 L1057.0 456.2 L1057.4 455.9 L1057.7 455.4 L1057.8 454.9 L1057.9 454.5 L1058.2 454.1 L1058.4 453.7 L1058.1 452.8 L1058.2 452.3 L1058.5 451.9 L1058.7 451.4 L1058.8 451.0 L1059.0 450.5 L1059.1 449.9 L1059.1 449.4 L1059.4 449.1 L1059.5 448.5 L1059.5 447.9 L1059.7 447.4 L1060.2 447.4 L1060.1 446.6 L1060.2 446.1 L1060.2 445.4 L1060.3 445.0 L1060.6 444.6 L1060.8 444.2 L1061.0 443.7 L1061.3 443.4 L1061.3 442.8 L1061.3 442.2 L1061.6 441.8 L1061.8 441.5 L1062.1 441.1 L1062.1 440.5 L1062.0 439.9 L1062.0 439.3 L1062.2 438.8 L1062.5 438.5 L1062.6 438.0 L1062.8 437.6 L1062.9 437.0 L1063.1 436.6 L1063.1 436.0 L1063.2 435.6 L1063.3 435.1 L1063.5 434.7 L1063.3 433.9 L1063.5 433.5 L1063.9 433.2 L1063.9 432.6 L1063.9 432.0 L1063.8 431.4 L1064.3 431.2 L1064.5 430.8 L1064.4 430.1 L1064.6 429.7 L1064.6 429.1 L1064.9 428.7 L1064.8 428.1 L1065.0 427.7 L1065.2 427.2 L1065.6 427.0 L1065.7 426.4 L1065.8 425.9 L1065.7 425.2 L1065.9 424.8 L1066.1 424.3 L1066.0 423.6 L1066.3 423.3 L1066.3 422.7 L1066.4 422.1 L1066.6 421.7 L1066.7 421.1 L1067.0 420.8 L1067.4 420.5 L1067.5 420.0 L1067.4 419.3 L1067.5 418.8 L1067.5 418.2 L1067.9 418.5 L1067.8 419.3 L1068.0 419.7 L1068.0 420.3 L1068.1 420.8 L1068.4 421.2 L1068.7 421.6 L1068.9 422.0 L1068.8 422.7 L1068.7 423.4 L1068.6 424.1 L1068.8 424.5 L1069.2 424.8 L1069.2 425.5 L1069.4 425.8 L1069.6 426.3 L1069.6 426.9 L1069.9 427.3 L1070.1 427.7 L1070.7 428.1 L1070.9 427.5 L1071.0 426.5 L1071.2 425.8 L1071.5 425.4 L1072.0 425.2 L1072.4 425.0 L1072.4 424.0 L1073.0 424.2 L1073.1 423.3 L1073.4 422.9 L1073.8 422.8 L1074.2 423.0 L1074.6 423.4 L1075.0 423.8 L1075.3 424.5 L1075.7 424.6 L1076.1 424.9 L1076.7 424.8 L1077.0 425.1 L1077.2 426.1 L1077.6 426.5 L1078.0 426.2 L1078.3 426.0 L1078.4 425.2 L1078.4 424.2 L1078.9 424.2 L1079.3 423.9 L1079.6 423.7 L1079.8 422.9 L1080.1 422.6 L1080.4 422.1 L1080.7 421.9 L1081.0 421.5 L1081.2 420.8 L1081.4 420.2 L1081.5 419.6 L1081.7 419.0 L1081.9 418.6 L1082.2 418.2 L1082.5 418.0 L1082.8 417.6 L1082.7 416.5 L1083.0 416.3 L1083.2 415.8 L1083.5 415.3 L1083.8 415.0 L1084.2 414.9 L1084.6 414.8 L1084.8 414.3 L1084.8 413.4 L1084.9 412.7 L1085.2 412.3 L1085.6 412.1 L1085.6 411.4 L1085.8 410.9 L1085.9 410.2 L1086.2 409.7 L1086.7 409.7 L1087.0 409.2 L1087.3 408.8 L1087.4 407.9 L1087.9 407.8 L1088.2 407.6 L1088.8 407.7 L1089.1 407.4 L1089.6 407.5 L1089.8 406.8 L1090.3 406.7 L1090.4 405.8 L1090.6 405.2 L1090.9 404.8 L1091.1 405.2 L1091.3 406.0 L1091.6 406.5 L1092.0 406.7 L1092.2 407.2 L1092.6 407.6 L1092.9 408.0 L1093.3 408.0 L1093.6 408.4 L1093.9 408.8 L1094.4 408.9 L1094.8 408.3 L1095.3 408.1 L1095.7 407.7 L1096.2 407.5 L1096.7 407.2 L1097.2 407.5 L1097.7 407.1 L1098.1 407.6 L1098.6 407.4 L1099.1 407.4 L1099.3 408.5 L1099.8 408.9 L1100.2 409.2 L1100.6 409.6 L1100.9 410.4 L1101.4 410.1 L1102.0 409.7 L1102.5 410.3 L1103.1 410.6 L1103.5 411.3 L1104.2 410.1 L1104.7 410.6 L1105.3 411.3 L1105.6 411.6 L1105.9 411.9 L1106.0 412.6 L1106.4 412.8 L1106.5 413.5 L1106.8 413.7 L1106.9 414.4 L1107.0 415.1 L1107.1 415.8 L1107.3 416.2 L1107.8 416.5 L1107.9 415.9 L1108.0 415.4 L1108.5 415.2 L1108.4 414.4 L1108.5 413.9 L1108.8 413.6 L1108.9 413.0 L1109.0 412.4 L1109.3 412.0 L1109.4 411.4 L1109.8 411.2 L1109.7 410.4 L1110.1 410.2 L1110.3 409.6 L1110.2 408.8 L1110.7 408.7 L1111.2 408.7 L1111.7 408.1 L1112.3 408.5 L1112.8 408.3 L1113.2 408.0 L1113.9 409.5 L1114.4 409.1 L1114.9 408.8 L1115.1 407.5 L1115.5 408.1 L1115.9 408.5 L1116.6 407.8 L1116.8 409.1 L1117.1 409.6 L1117.7 409.5 L1118.2 409.3 L1118.6 409.8 L1119.0 410.3 L1119.5 409.3 L1120.1 410.5 L1120.7 410.2 L1121.2 410.1 L1121.7 409.6 L1122.2 409.1 L1122.8 408.9 L1123.0 409.5 L1123.5 409.5 L1123.8 409.9 L1123.8 411.1 L1124.2 411.4 L1124.7 411.4 L1124.9 412.0 L1125.1 412.7 L1125.3 413.3 L1125.9 413.2 L1126.2 413.7 L1126.5 414.0 L1126.6 414.9 L1127.1 415.0 L1127.5 414.9 L1127.9 415.3 L1128.0 416.2 L1128.5 416.1 L1128.7 416.7 L1128.9 417.5 L1129.1 418.1 L1129.7 417.9 L1130.0 418.1 L1130.2 419.0 L1130.6 419.1 L1131.0 419.3 L1131.3 419.6 L1131.5 420.1 L1131.8 419.5 L1132.1 418.9 L1132.7 419.2 L1133.0 418.4 L1133.2 417.6 L1133.6 417.3 L1133.9 416.8 L1134.3 416.3 L1134.8 416.4 L1135.3 416.6 L1135.7 416.1 L1136.1 415.7 L1136.7 416.1 L1136.9 415.1 L1137.3 414.8 L1137.7 414.4 L1138.3 414.9 L1138.5 413.6 L1139.0 413.7 L1139.4 413.3 L1139.8 413.0 L1140.2 412.9 L1140.6 412.4 L1140.9 411.8 L1141.3 411.8 L1141.8 411.6 L1142.3 411.5 L1142.6 411.1 L1142.8 410.2 L1143.1 410.9 L1143.6 410.7 L1143.7 411.9 L1144.4 411.3 L1144.7 411.9 L1145.1 411.9 L1145.4 412.6 L1145.3 413.3 L1145.5 413.8 L1145.6 414.3 L1145.9 414.6 L1145.9 415.2 L1146.0 415.8 L1146.3 416.1 L1146.1 416.9 L1146.6 417.1 L1146.7 417.6 L1146.8 418.1 L1147.0 418.6 L1147.1 419.1 L1147.1 419.7 L1147.5 420.0 L1147.3 420.8 L1147.5 421.2 L1147.4 421.9 L1147.7 422.2 L1147.8 422.7 L1148.3 422.6 L1148.7 422.6 L1148.9 422.0 L1149.0 421.1 L1149.3 420.7 L1149.5 420.2 L1149.9 419.9 L1149.9 418.9 L1150.2 418.9 L1150.4 418.4 L1150.7 418.0 L1150.6 417.4 L1150.9 417.1 L1151.0 416.6 L1151.3 416.2 L1151.4 415.7 L1151.3 415.1 L1151.2 414.4 L1151.8 414.3 L1151.7 413.7 L1151.7 413.1 L1151.7 412.5 L1151.8 412.0 L1151.9 411.5 L1151.8 410.9 L1152.0 410.5 L1152.4 410.2 L1152.4 409.6 L1152.3 408.9 L1152.8 408.8 L1152.8 408.2 L1152.9 407.7 L1153.3 407.6 L1153.7 407.0 L1154.1 407.0 L1154.5 406.6 L1155.0 406.4 L1155.4 406.2 L1155.8 405.9 L1156.1 405.1 L1156.6 405.2 L1157.2 405.4 L1157.3 404.2 L1157.7 404.0 L1158.4 404.7 L1158.6 403.4 L1158.8 402.7 L1159.3 402.7 L1159.8 402.6 L1160.1 402.2 L1160.4 401.3 L1160.4 400.6 L1160.9 400.5 L1161.2 400.1 L1161.3 399.5 L1161.6 399.2 L1161.7 398.4 L1162.0 398.1 L1162.4 397.8 L1162.4 396.9 L1162.8 396.8 L1162.8 395.9 L1163.3 395.8 L1163.4 395.3 L1163.7 394.8 L1163.9 394.2 L1164.1 393.8 L1164.3 392.7 L1165.0 393.4 L1165.6 393.7 L1166.0 393.3 L1166.1 392.3 L1166.4 391.7 L1166.8 391.3 L1167.1 390.7 L1167.7 390.8 L1167.9 390.1 L1168.4 390.8 L1169.1 389.8 L1169.6 390.0 L1170.1 390.7 L1170.5 391.6 L1171.1 391.5 L1171.6 391.2 L1172.0 391.0 L1172.3 390.4 L1172.9 390.7 L1173.2 390.2 L1173.4 389.6 L1173.6 388.7 L1174.1 388.8 L1174.5 388.4 L1174.9 388.2 L1175.2 387.8 L1175.4 387.4 L1175.7 388.3 L1176.1 388.5 L1176.6 388.5 L1177.0 388.9 L1177.5 388.7 L1177.9 389.0 L1178.3 389.3 L1178.7 389.5 L1179.2 389.6 L1179.6 389.4 L1179.7 388.1 L1180.2 388.2 L1180.4 387.5 L1180.7 387.0 L1181.1 386.6 L1181.4 386.2 L1181.7 385.8 L1182.2 385.8 L1182.9 386.1 L1183.0 385.1 L1183.0 385.9 L1183.5 385.9 L1183.7 386.4 L1183.8 387.1 L1183.8 387.9 L1183.9 388.5 L1184.3 388.7 L1184.7 388.8 L1184.8 389.6 L1185.2 389.8 L1185.6 390.3 L1185.9 390.0 L1186.0 389.2 L1186.0 388.4 L1186.6 388.6 L1186.9 388.2 L1186.8 387.2 L1187.2 387.0 L1187.5 386.6 L1187.6 385.8 L1187.7 385.1 L1187.8 384.5 L1188.0 383.9 L1188.7 384.2 L1189.0 383.9 L1189.2 383.4 L1189.2 382.6 L1189.6 382.9 L1189.6 383.6 L1189.9 384.0 L1190.2 384.3 L1190.4 384.8 L1190.7 385.2 L1190.9 385.7 L1191.0 386.3 L1191.4 386.6 L1191.5 387.2 L1191.5 388.1 L1191.6 388.7 L1192.0 389.1 L1192.6 389.6 L1193.2 389.5 L1193.8 389.2 L1194.2 389.2 L1194.5 389.8 L1194.7 390.2 L1195.1 390.6 L1195.2 391.4 L1195.8 391.3 L1196.0 391.9 L1196.1 392.6 L1196.3 393.4 L1197.0 393.4 L1197.5 393.2 L1197.4 392.4 L1197.2 391.5 L1197.7 391.3 L1197.9 390.9 L1198.2 390.6 L1198.0 389.7 L1198.1 389.1 L1198.6 389.0 L1198.5 388.2 L1198.9 387.9 L1199.1 387.5 L1199.0 386.6 L1199.2 386.2 L1199.5 385.8 L1199.6 385.1 L1199.9 384.7 L1200.4 384.7 L1200.5 384.1 L1200.4 383.2 L1200.9 383.1 L1201.0 382.4 L1201.7 382.8 L1201.5 381.6 L1201.7 381.2 L1202.1 381.0 L1202.4 380.7 L1202.6 381.5 L1203.3 381.1 L1203.6 381.5 L1203.9 382.2 L1204.2 382.8 L1204.7 382.9 L1205.2 383.1 L1205.4 383.8 L1206.0 384.2 L1206.5 383.9 L1207.1 383.9 L1207.6 383.1 L1208.1 382.3 L1208.7 383.0 L1209.1 383.2 L1209.4 383.6 L1209.7 384.1 L1210.1 384.3 L1210.4 384.7 L1210.4 385.9 L1210.8 386.0 L1211.1 386.5 L1211.2 387.1 L1211.7 387.2 L1211.9 387.7 L1212.1 388.3 L1212.3 388.7 L1212.5 389.2 L1212.8 389.6 L1213.1 389.9 L1213.3 390.4 L1213.4 391.1 L1213.6 391.5 L1213.9 391.9 L1214.3 392.1 L1214.7 392.3 L1214.9 392.7 L1215.2 393.1 L1215.5 393.3 L1215.5 394.3 L1215.7 394.8 L1215.9 395.2 L1216.4 395.3 L1216.3 396.3 L1216.5 396.9 L1217.0 396.8 L1217.2 397.5 L1217.3 398.5 L1217.6 398.8 L1218.2 398.7 L1218.4 399.2 L1218.8 399.8 L1218.9 399.2 L1219.1 398.8 L1218.8 397.9 L1219.4 397.8 L1219.4 397.2 L1219.6 396.8 L1219.7 396.3 L1220.0 395.9 L1219.9 395.2 L1220.3 394.9 L1220.2 394.2 L1220.3 393.7 L1220.6 393.4 L1220.7 392.8 L1221.0 392.5 L1220.9 391.8 L1220.9 391.1 L1220.7 390.3 L1221.2 390.1 L1221.5 389.5 L1221.8 389.0 L1222.0 388.1 L1222.4 387.7 L1222.9 387.8 L1223.6 388.2 L1223.9 387.6 L1224.0 386.5 L1224.4 386.5 L1224.7 386.9 L1224.8 387.5 L1225.2 387.8 L1225.5 388.2 L1225.6 388.9 L1225.8 389.3 L1225.9 390.1 L1226.0 390.7 L1226.3 391.1 L1226.9 391.0 L1227.2 391.5 L1227.2 392.3 L1227.5 392.8 L1227.8 392.1 L1227.9 391.3 L1228.5 391.5 L1228.9 391.1 L1229.2 390.6 L1229.5 390.2 L1229.9 389.9 L1230.1 389.1 L1230.5 389.1 L1230.7 388.2 L1231.2 388.0 L1231.6 387.6 L1231.7 386.7 L1232.4 387.0 L1232.8 386.9 L1233.0 385.9 L1233.5 385.8 L1233.9 385.4 L1234.0 384.6 L1234.1 383.9 L1234.4 383.4 L1234.6 382.9 L1235.2 383.0 L1235.4 382.5 L1235.7 381.9 L1236.0 381.6 L1236.2 381.0 L1236.4 380.4 L1236.7 380.0 L1236.9 379.4 L1237.4 379.4 L1237.7 378.7 L1238.3 379.0 L1238.6 378.3 L1239.0 378.0 L1239.3 377.3 L1239.4 376.2 L1240.0 376.5 L1240.6 376.5 L1241.1 377.3 L1241.7 376.4 L1242.2 377.2 L1242.7 376.9 L1243.2 378.2 L1243.8 377.1 L1244.3 377.2 L1244.9 377.5 L1245.4 376.7 L1245.9 377.2 L1246.5 378.0 L1247.0 377.9 L1247.5 377.9 L1248.1 378.0 L1248.7 377.5 L1249.2 378.2 L1249.8 377.7 L1250.3 377.8 L1250.8 378.5 L1251.4 379.0 L1251.5 378.4 L1251.9 378.2 L1252.3 377.9 L1252.2 377.0 L1252.3 376.4 L1252.7 376.1 L1252.9 375.6 L1253.1 375.1 L1253.3 375.5 L1253.6 375.9 L1253.8 376.4 L1253.6 377.1 L1254.0 377.4 L1253.9 378.1 L1253.9 378.8 L1253.9 379.4 L1254.1 379.8 L1254.5 380.1 L1254.5 380.7 L1254.6 381.2 L1254.7 381.7 L1255.1 382.0 L1255.1 382.7 L1255.4 382.3 L1255.5 381.8 L1255.5 381.1 L1255.8 380.6 L1256.2 380.4 L1256.1 379.5 L1256.4 379.2 L1256.6 378.7 L1256.8 378.3 L1257.1 377.9 L1257.2 377.3 L1257.2 376.6 L1257.6 376.2 L1258.0 375.3 L1258.5 375.4 L1259.1 375.5 L1259.6 375.9 L1260.1 375.1 L1260.7 375.2 L1261.1 375.1 L1261.2 374.5 L1261.4 374.0 L1261.7 373.6 L1261.9 373.2 L1261.8 372.4 L1261.9 371.7 L1262.4 371.6 L1262.5 371.0 L1262.6 370.4 L1262.6 369.6 L1263.2 369.7 L1263.2 368.9 L1263.5 368.6 L1263.7 368.1 L1263.8 367.6 L1264.1 367.3 L1264.1 366.5 L1264.5 366.2 L1264.6 365.7 L1264.8 365.2 L1265.1 364.8 L1265.2 364.2 L1265.8 364.3 L1265.8 363.6 L1266.2 363.4 L1266.5 363.0 L1266.4 362.4 L1266.9 362.4 L1267.4 361.3 L1268.0 362.2 L1268.5 361.0 L1269.1 362.4 L1269.7 361.8 L1270.2 362.3 L1270.7 361.5 L1271.2 361.4 L1271.6 360.1 L1272.1 360.9 L1272.6 360.5 L1273.1 360.6 L1273.5 359.7 L1274.0 359.9 L1274.6 360.2 L1274.9 358.7 L1275.6 360.1 L1276.0 359.2 L1276.4 358.7 L1276.7 359.2 L1277.2 359.3 L1277.6 359.7 L1278.0 359.9 L1277.9 361.5 L1278.5 361.1 L1279.0 361.0 L1279.2 361.9 L1279.6 362.5 L1279.9 364.0 L1280.6 363.1 L1280.9 364.2 L1281.6 363.9 L1282.2 363.2 L1282.7 363.7 L1283.0 364.3 L1283.7 363.7 L1283.9 364.5 L1284.2 365.2 L1284.5 365.7 L1284.8 366.6 L1285.2 366.7 L1285.6 367.1 L1286.1 367.0 L1286.3 367.3 L1286.9 367.4 L1287.6 368.2 L1288.0 367.8 L1288.1 366.7 L1288.5 366.4 L1288.6 365.1 L1289.1 365.2 L1289.4 364.5 L1289.7 363.9 L1289.9 364.4 L1290.4 364.4 L1290.9 364.3 L1291.2 364.8 L1291.3 365.9 L1291.5 366.5 L1291.9 366.8 L1292.2 367.1 L1292.7 367.1 L1293.1 366.7 L1293.3 365.6 L1293.8 365.4 L1294.4 365.7 L1294.8 364.9 L1294.9 365.6 L1295.2 366.1 L1295.4 366.6 L1295.6 367.0 L1296.0 367.2 L1296.5 367.4 L1296.7 367.8 L1296.7 368.8 L1297.1 368.9 L1297.5 369.2 L1297.6 369.9 L1297.8 370.4 L1297.8 371.2 L1298.1 371.5 L1298.4 372.0 L1298.5 372.7 L1298.6 373.6 L1299.1 373.5 L1299.5 373.7 L1299.7 374.3 L1299.9 374.9 L1300.2 375.1 L1300.5 375.6 L1300.7 376.2 L1301.0 376.5 L1301.5 376.4 L1301.8 376.7 L1301.9 377.7 L1302.1 378.3 L1302.3 378.9 L1302.8 379.2 L1303.3 378.7 L1303.9 379.2 L1304.4 379.4 L1304.8 377.9 L1305.2 377.7 L1305.4 378.1 L1305.7 378.5 L1305.5 379.1 L1305.6 379.6 L1305.6 380.2 L1305.9 380.5 L1306.1 381.0 L1305.8 381.7 L1305.9 382.2 L1305.8 382.7 L1306.1 383.1 L1306.3 383.6 L1306.5 384.0 L1306.4 384.6 L1306.6 385.0 L1306.6 385.5 L1306.6 386.1 L1306.7 386.6 L1306.7 387.1 L1306.7 387.7 L1307.1 388.0 L1307.0 388.6 L1307.0 389.2 L1307.2 389.6 L1307.4 390.0 L1307.6 390.4 L1307.7 390.9 L1307.7 391.3 L1308.1 391.1 L1308.0 390.4 L1308.3 390.0 L1308.8 389.9 L1308.8 389.2 L1308.8 388.6 L1309.2 388.3 L1309.3 387.7 L1309.5 387.3 L1309.5 386.6 L1309.8 386.3 L1310.1 385.9 L1310.0 385.2 L1310.3 384.8 L1310.5 384.3 L1310.5 383.7 L1310.4 382.9 L1310.7 382.5 L1311.0 382.2 L1311.3 381.8 L1311.5 381.3 L1311.7 380.7 L1312.2 380.7 L1312.3 380.0 L1312.6 379.7 L1312.8 379.1 L1312.9 378.3 L1313.3 378.1 L1313.6 378.6 L1314.0 378.7 L1314.5 378.5 L1314.7 379.3 L1314.6 380.8 L1314.9 381.2 L1315.4 381.2 L1315.9 381.3 L1315.9 382.0 L1316.3 382.2 L1316.5 382.7 L1316.6 383.4 L1316.7 384.0 L1317.1 384.3 L1317.5 384.5 L1317.4 385.4 L1317.4 386.2 L1317.7 386.6 L1318.0 387.4 L1318.4 387.3 L1318.8 387.8 L1319.2 388.0 L1319.7 387.8 L1320.0 388.3 L1320.4 388.8 L1320.5 389.4 L1320.7 389.9 L1321.0 390.3 L1321.2 390.7 L1321.3 391.4 L1321.5 391.9 L1321.6 392.6 L1321.9 392.9 L1322.2 393.3 L1322.3 393.9 L1322.7 393.7 L1322.7 393.0 L1322.8 392.4 L1322.8 391.7 L1323.0 391.2 L1323.2 390.8 L1323.3 390.2 L1323.4 389.7 L1323.9 389.6 L1323.8 388.7 L1324.1 388.4 L1324.1 387.7 L1324.5 387.4 L1324.5 386.8 L1324.8 386.4 L1325.2 386.7 L1325.2 387.4 L1325.3 387.9 L1325.4 388.5 L1325.6 389.0 L1325.8 389.4 L1326.2 389.7 L1326.4 390.2 L1326.1 391.2 L1326.3 391.6 L1326.7 391.8 L1326.9 392.3 L1327.1 392.9 L1327.1 393.5 L1327.3 393.9 L1327.2 393.0 L1327.7 393.0 L1328.0 392.6 L1328.0 391.9 L1328.4 391.7 L1328.5 391.1 L1328.7 390.7 L1328.7 389.9 L1329.0 389.5 L1329.2 389.1 L1329.2 388.3 L1329.2 387.6 L1329.8 387.7 L1330.1 388.1 L1330.3 388.6 L1330.5 389.1 L1330.6 389.6 L1330.6 390.4 L1330.8 390.8 L1330.9 391.4 L1331.2 391.8 L1331.4 392.2 L1331.5 392.9 L1331.9 393.0 L1332.0 393.6 L1332.2 394.2 L1332.4 395.0 L1332.9 394.8 L1333.3 394.6 L1333.8 394.5 L1334.3 394.4 L1334.6 393.7 L1334.8 392.7 L1334.9 393.3 L1335.2 393.6 L1335.5 394.0 L1335.7 394.5 L1335.9 394.9 L1336.1 395.4 L1336.3 395.9 L1336.2 396.7 L1336.5 397.0 L1336.6 397.6 L1336.8 398.1 L1337.1 398.4 L1337.1 399.1 L1337.2 399.7 L1337.4 400.3 L1337.5 399.7 L1338.0 399.6 L1338.1 399.0 L1338.3 398.5 L1338.8 398.5 L1338.6 397.4 L1339.0 397.2 L1338.9 396.3 L1339.1 395.9 L1339.1 395.2 L1339.2 394.5 L1339.6 394.4 L1339.9 394.0 L1340.1 393.3 L1340.1 392.4 L1340.8 392.8 L1341.1 392.4 L1341.4 392.2 L1341.7 391.7 L1341.8 391.0 L1342.3 391.0 L1342.3 390.2 L1342.3 390.7 L1342.5 391.2 L1342.5 391.7 L1342.4 392.3 L1342.8 392.6 L1342.5 393.3 L1342.9 393.7 L1343.4 394.0 L1343.3 394.6 L1343.2 395.1 L1343.6 395.5 L1343.2 396.2 L1343.1 396.8 L1343.4 397.2 L1343.4 397.7 L1343.4 398.3 L1343.7 398.6 L1343.6 399.2 L1343.8 399.7 L1343.7 400.2 L1343.7 400.8 L1343.9 401.2 L1344.1 401.7 L1344.2 402.2 L1344.2 402.7 L1344.8 402.7 L1344.7 403.5 L1344.8 404.0 L1344.8 404.7 L1344.9 405.3 L1345.1 405.8 L1345.2 406.4 L1345.5 406.7 L1345.7 407.2 L1345.8 407.8 L1346.2 408.1 L1345.9 408.9 L1346.3 409.2 L1346.2 409.9 L1346.5 410.2 L1346.9 410.5 L1347.0 411.0 L1346.9 411.7 L1347.4 411.9 L1347.2 412.7 L1347.4 413.1 L1347.8 413.4 L1347.7 414.1 L1347.7 414.7 L1347.8 415.2 L1348.3 415.3 L1348.3 416.0 L1348.4 416.5 L1348.6 416.0 L1348.7 415.4 L1349.0 415.1 L1349.1 414.5 L1349.4 414.1 L1349.6 413.7 L1349.5 413.0 L1349.7 412.5 L1349.9 412.0 L1349.9 411.3 L1350.2 411.0 L1350.5 410.6 L1350.6 410.1 L1350.8 409.6 L1350.9 409.1 L1351.4 408.9 L1351.7 408.4 L1351.9 407.6 L1352.1 406.8 L1352.8 407.5 L1353.0 406.6 L1353.4 406.4 L1353.6 405.9 L1353.7 405.2 L1354.1 405.1 L1354.3 404.6 L1354.6 404.2 L1355.2 404.4 L1355.3 403.8 L1355.5 403.2 L1355.8 402.9 L1355.8 402.1 L1355.9 401.5 L1356.0 402.0 L1356.2 402.4 L1356.5 402.7 L1356.6 403.3 L1356.7 403.8 L1356.7 404.4 L1357.1 404.7 L1357.7 404.8 L1357.6 405.4 L1357.6 406.0 L1357.8 406.5 L1357.9 407.0 L1357.9 407.6 L1358.0 408.1 L1358.1 408.8 L1358.5 409.0 L1358.7 409.4 L1359.0 409.8 L1359.3 410.2 L1359.3 410.9 L1359.6 411.4 L1359.8 411.8 L1359.8 412.5 L1360.0 413.0 L1360.0 413.8 L1360.4 414.0 L1360.7 414.7 L1361.1 414.9 L1361.4 415.4 L1361.9 415.5 L1362.0 416.6 L1362.7 415.8 L1362.9 416.6 L1363.2 416.9 L1363.5 417.5 L1363.9 417.4 L1364.2 417.8 L1364.6 418.1 L1364.7 418.8 L1364.8 419.8 L1365.1 420.1 L1365.4 420.4 L1365.5 420.9 L1365.8 421.4 L1365.9 421.9 L1366.2 422.4 L1366.3 423.0 L1366.5 423.4 L1366.8 423.9 L1366.7 424.8 L1367.2 424.9 L1367.5 425.3 L1367.7 424.9 L1367.9 424.4 L1367.9 423.9 L1367.7 423.2 L1368.0 422.9 L1367.9 422.2 L1367.8 421.6 L1368.0 421.2 L1368.5 420.9 L1368.5 420.3 L1368.6 419.9 L1368.7 419.4 L1368.9 418.9 L1368.8 418.3 L1368.7 417.7 L1369.0 417.3 L1369.0 416.8 L1369.1 416.3 L1369.2 415.8 L1369.3 415.3 L1369.3 414.6 L1369.4 413.9 L1369.8 413.6 L1370.0 413.2 L1370.3 412.9 L1370.7 412.7 L1370.9 412.2 L1371.1 411.8 L1371.1 410.9 L1371.5 410.7 L1371.8 410.1 L1371.9 410.9 L1372.2 411.4 L1372.6 411.4 L1372.7 412.1 L1373.2 412.2 L1373.4 412.8 L1373.8 412.9 L1374.2 413.1 L1374.2 414.1 L1374.8 413.8 L1375.4 413.5 L1375.8 414.6 L1376.2 415.3 L1376.8 415.2 L1377.2 415.3 L1377.2 416.9 L1377.8 416.7 L1378.3 416.6 L1378.6 417.3 L1379.0 417.6 L1379.2 418.0 L1379.6 417.7 L1380.0 417.4 L1380.6 417.5 L1381.0 417.0 L1381.3 416.4 L1381.8 416.4 L1382.0 415.0 L1382.6 415.4 L1383.0 415.3 L1383.3 415.6 L1383.3 416.4 L1383.3 417.0 L1383.6 417.3 L1383.6 418.0 L1384.3 418.0 L1384.4 418.5 L1384.5 419.1 L1384.3 420.1 L1384.8 420.1 L1384.7 421.0 L1385.0 421.3 L1385.1 421.9 L1385.2 422.4 L1385.5 422.8 L1385.4 423.4 L1385.5 423.9 L1385.5 424.5 L1385.6 425.0 L1385.9 425.3 L1386.1 425.8 L1386.2 426.3 L1386.4 426.7 L1386.5 427.2 L1386.7 427.6 L1386.8 428.1 L1386.7 428.8 L1387.2 429.0 L1387.0 429.7 L1387.2 430.1 L1387.1 430.7 L1387.4 431.1 L1387.6 431.3 L1388.0 432.0 L1388.4 432.9 L1389.0 432.9 L1389.4 433.3 L1390.0 432.8 L1390.2 432.3 L1390.3 431.7 L1390.6 431.3 L1391.0 431.2 L1391.1 430.6 L1391.2 429.9 L1391.5 429.6 L1391.7 429.1 L1391.6 428.2 L1392.0 428.0 L1392.3 427.7 L1392.2 426.8 L1392.6 426.6 L1392.8 426.2 L1392.9 425.6 L1393.1 425.0 L1393.3 424.6 L1393.5 424.1 L1393.7 423.7 L1394.0 423.3 L1394.2 422.9 L1394.3 422.2 L1394.3 421.5 L1394.8 421.4 L1394.8 420.7 L1395.1 420.3 L1395.3 419.9 L1395.6 419.5 L1395.4 418.4 L1396.0 418.5 L1396.4 418.3 L1396.4 417.5 L1396.8 417.3 L1397.0 416.8 L1397.3 416.5 L1397.2 415.4 L1397.5 415.2 L1397.8 414.9 L1398.1 414.5 L1398.6 414.4 L1398.7 413.8 L1398.8 413.1 L1398.8 412.3 L1399.1 411.9 L1399.4 411.6 L1399.6 411.0 L1399.9 410.8 L1400.1 410.2 L1400.5 410.4 L1400.9 410.9 L1401.4 410.9 L1401.6 411.6 L1402.2 411.4 L1402.4 412.2 L1402.7 413.0 L1403.2 412.9 L1403.3 414.1 L1403.7 414.5 L1404.1 414.9 L1404.6 415.0 L1404.8 415.7 L1405.3 415.9 L1405.6 416.4 L1405.8 415.9 L1406.1 415.6 L1406.4 415.2 L1406.8 415.1 L1407.2 415.0 L1407.2 413.9 L1407.4 413.2 L1407.9 413.3 L1408.1 412.7 L1408.5 412.8 L1408.8 413.5 L1409.0 414.3 L1409.7 413.5 L1410.2 413.5 L1410.5 414.1 L1410.6 415.2 L1410.7 415.9 L1410.9 416.4 L1411.0 417.0 L1411.5 417.2 L1411.5 418.0 L1411.7 418.4 L1412.1 418.6 L1412.4 419.0 L1412.4 419.8 L1412.6 420.2 L1413.0 419.8 L1413.3 419.5 L1413.8 419.4 L1414.2 419.1 L1414.4 418.3"/></defs>
<use href="#s2" stroke="#ab9a7c" stroke-width="5.1" stroke-opacity="0.38"/>
<use href="#s2" stroke="#ab9a7c" stroke-width="3.4"/>
<defs><path id="s3" d="M105.5 515.3 L464.0 500.3 L828.0 491.0 L1087.0 486.0 L1237.5 484.3 L1338.0 482.2 L1388.0 480.5 L1414.4 479.2"/></defs>
<use href="#s3" stroke="#d6962f" stroke-width="5.0" stroke-opacity="0.38"/>
<use href="#s3" stroke="#d6962f" stroke-width="3.3"/>
</g>
</svg>
</body></html>
